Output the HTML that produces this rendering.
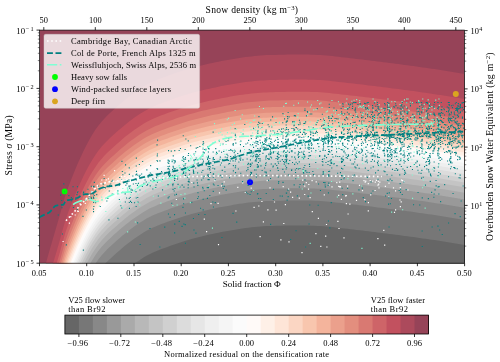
<!DOCTYPE html>
<html><head><meta charset="utf-8"><title>chart</title>
<style>html,body{margin:0;padding:0;background:#fff}body{width:500px;height:362px;overflow:hidden;font-family:"Liberation Serif",serif}</style></head>
<body>
<svg width="500" height="362" viewBox="0 0 500 362" style="display:block;will-change:transform;opacity:0.999" font-family="Liberation Serif, serif">
<rect width="500" height="362" fill="#fff"/>
<defs><clipPath id="pc"><rect x="39.5" y="30.1" width="425.1" height="233.1"/></clipPath></defs>
<g clip-path="url(#pc)">
<rect x="39.5" y="30.1" width="425.1" height="233.1" fill="#964358"/>
<path d="M38.5 269.2L38.5 268.2L41.5 268.2L44.5 268.2L47.5 257.6L50.5 247.1L53.5 236.8L56.5 226.6L59.5 216.2L62.5 205.3L65.5 195L68.5 186.5L71.5 178.8L74.5 171.3L77.5 164.1L80.5 157.4L83.5 151L86.5 144.9L89.5 139.4L92.5 134.3L95.5 129.6L98.5 125.4L101.5 121.7L104.5 118.4L107.5 115.3L110.5 112.5L113.5 109.7L116.5 107.1L119.5 104.4L122.5 101.9L125.5 99.4L128.5 97L131.5 94.7L134.5 92.5L137.5 90.5L140.5 88.5L143.5 86.6L146.5 84.8L149.5 83.2L152.5 81.8L155.5 80.5L158.5 79.3L161.5 78.1L164.5 77L167.5 75.9L170.5 74.8L173.5 73.8L176.5 72.7L179.5 71.7L182.5 70.8L185.5 69.8L188.5 68.9L191.5 68.1L194.5 67.3L197.5 66.5L200.5 65.7L203.5 65L206.5 64.3L209.5 63.6L212.5 63L215.5 62.3L218.5 61.7L221.5 61.1L224.5 60.5L227.5 59.9L230.5 59.4L233.5 58.9L236.5 58.4L239.5 57.9L242.5 57.4L245.5 57L248.5 56.7L251.5 56.4L254.5 56.1L257.5 55.8L260.5 55.5L263.5 55.3L266.5 55.1L269.5 55L272.5 54.9L275.5 54.9L278.5 54.8L281.5 54.7L284.5 54.7L287.5 54.6L290.5 54.6L293.5 54.5L296.5 54.5L299.5 54.5L302.5 54.5L305.5 54.6L308.5 54.6L311.5 54.7L314.5 54.8L317.5 54.9L320.5 55L323.5 55.2L326.5 55.5L329.5 55.8L332.5 56.1L335.5 56.5L338.5 56.8L341.5 57.2L344.5 57.5L347.5 57.8L350.5 58.2L353.5 58.5L356.5 58.9L359.5 59.2L362.5 59.6L365.5 60L368.5 60.3L371.5 60.7L374.5 61.1L377.5 61.4L380.5 61.8L383.5 62.2L386.5 62.5L389.5 62.9L392.5 63.3L395.5 63.7L398.5 64.1L401.5 64.5L404.5 64.9L407.5 65.3L410.5 65.7L413.5 66.1L416.5 66.5L419.5 66.9L422.5 67.4L425.5 67.8L428.5 68.2L431.5 68.7L434.5 69.1L437.5 69.6L440.5 70.1L443.5 70.5L446.5 71L449.5 71.5L452.5 72L455.5 72.5L458.5 73L461.5 73.5L464.5 74L464.5 269.2Z" fill="#ac4a5c"/>
<path d="M38.5 269.2L38.5 268.2L41.5 268.2L44.5 268.2L47.5 268.2L50.5 268.2L53.5 261.8L56.5 251.7L59.5 241.2L62.5 230.3L65.5 220.1L68.5 211.5L71.5 203.8L74.5 196.3L77.5 189.2L80.5 182.5L83.5 176.1L86.5 170L89.5 164.4L92.5 159.4L95.5 154.7L98.5 150.5L101.5 146.8L104.5 143.4L107.5 140.4L110.5 137.5L113.5 134.8L116.5 132.1L119.5 129.5L122.5 126.9L125.5 124.4L128.5 122.1L131.5 119.8L134.5 117.6L137.5 115.5L140.5 113.5L143.5 111.7L146.5 109.9L149.5 108.3L152.5 106.9L155.5 105.6L158.5 104.3L161.5 103.2L164.5 102L167.5 100.9L170.5 99.9L173.5 98.8L176.5 97.8L179.5 96.8L182.5 95.8L185.5 94.9L188.5 94L191.5 93.1L194.5 92.3L197.5 91.5L200.5 90.8L203.5 90L206.5 89.3L209.5 88.7L212.5 88L215.5 87.4L218.5 86.7L221.5 86.1L224.5 85.5L227.5 85L230.5 84.5L233.5 84L236.5 83.4L239.5 83L242.5 82.5L245.5 82.1L248.5 81.7L251.5 81.4L254.5 81.1L257.5 80.8L260.5 80.6L263.5 80.4L266.5 80.2L269.5 80.1L272.5 80L275.5 79.9L278.5 79.8L281.5 79.8L284.5 79.7L287.5 79.7L290.5 79.6L293.5 79.6L296.5 79.6L299.5 79.6L302.5 79.6L305.5 79.6L308.5 79.7L311.5 79.7L314.5 79.8L317.5 80L320.5 80.1L323.5 80.3L326.5 80.5L329.5 80.8L332.5 81.2L335.5 81.5L338.5 81.9L341.5 82.2L344.5 82.5L347.5 82.9L350.5 83.2L353.5 83.6L356.5 83.9L359.5 84.3L362.5 84.6L365.5 85L368.5 85.4L371.5 85.7L374.5 86.1L377.5 86.5L380.5 86.8L383.5 87.2L386.5 87.6L389.5 88L392.5 88.4L395.5 88.7L398.5 89.1L401.5 89.5L404.5 89.9L407.5 90.3L410.5 90.7L413.5 91.1L416.5 91.6L419.5 92L422.5 92.4L425.5 92.8L428.5 93.3L431.5 93.7L434.5 94.2L437.5 94.7L440.5 95.1L443.5 95.6L446.5 96.1L449.5 96.6L452.5 97L455.5 97.5L458.5 98L461.5 98.5L464.5 99L464.5 269.2Z" fill="#c2515f"/>
<path d="M38.5 269.2L38.5 268.2L41.5 268.2L44.5 268.2L47.5 268.2L50.5 268.2L53.5 268.2L56.5 263.8L59.5 253.4L62.5 242.5L65.5 232.3L68.5 223.7L71.5 216L74.5 208.5L77.5 201.4L80.5 194.6L83.5 188.2L86.5 182.2L89.5 176.6L92.5 171.5L95.5 166.9L98.5 162.6L101.5 158.9L104.5 155.6L107.5 152.6L110.5 149.7L113.5 147L116.5 144.3L119.5 141.7L122.5 139.1L125.5 136.6L128.5 134.2L131.5 131.9L134.5 129.8L137.5 127.7L140.5 125.7L143.5 123.8L146.5 122.1L149.5 120.5L152.5 119.1L155.5 117.7L158.5 116.5L161.5 115.3L164.5 114.2L167.5 113.1L170.5 112.1L173.5 111L176.5 110L179.5 109L182.5 108L185.5 107.1L188.5 106.2L191.5 105.3L194.5 104.5L197.5 103.7L200.5 103L203.5 102.2L206.5 101.5L209.5 100.8L212.5 100.2L215.5 99.5L218.5 98.9L221.5 98.3L224.5 97.7L227.5 97.2L230.5 96.6L233.5 96.1L236.5 95.6L239.5 95.1L242.5 94.7L245.5 94.3L248.5 93.9L251.5 93.6L254.5 93.3L257.5 93L260.5 92.8L263.5 92.5L266.5 92.4L269.5 92.2L272.5 92.2L275.5 92.1L278.5 92L281.5 91.9L284.5 91.9L287.5 91.8L290.5 91.8L293.5 91.8L296.5 91.7L299.5 91.7L302.5 91.7L305.5 91.8L308.5 91.8L311.5 91.9L314.5 92L317.5 92.1L320.5 92.3L323.5 92.4L326.5 92.7L329.5 93L332.5 93.4L335.5 93.7L338.5 94.1L341.5 94.4L344.5 94.7L347.5 95.1L350.5 95.4L353.5 95.7L356.5 96.1L359.5 96.5L362.5 96.8L365.5 97.2L368.5 97.5L371.5 97.9L374.5 98.3L377.5 98.7L380.5 99L383.5 99.4L386.5 99.8L389.5 100.2L392.5 100.5L395.5 100.9L398.5 101.3L401.5 101.7L404.5 102.1L407.5 102.5L410.5 102.9L413.5 103.3L416.5 103.7L419.5 104.2L422.5 104.6L425.5 105L428.5 105.5L431.5 105.9L434.5 106.4L437.5 106.8L440.5 107.3L443.5 107.8L446.5 108.2L449.5 108.7L452.5 109.2L455.5 109.7L458.5 110.2L461.5 110.7L464.5 111.2L464.5 269.2Z" fill="#ce6468"/>
<path d="M38.5 269.2L38.5 268.2L41.5 268.2L44.5 268.2L47.5 268.2L50.5 268.2L53.5 268.2L56.5 268.2L59.5 261.8L62.5 250.9L65.5 240.7L68.5 232.1L71.5 224.4L74.5 216.9L77.5 209.7L80.5 203L83.5 196.6L86.5 190.6L89.5 185L92.5 179.9L95.5 175.2L98.5 171L101.5 167.3L104.5 164L107.5 161L110.5 158.1L113.5 155.4L116.5 152.7L119.5 150L122.5 147.5L125.5 145L128.5 142.6L131.5 140.3L134.5 138.2L137.5 136.1L140.5 134.1L143.5 132.2L146.5 130.5L149.5 128.9L152.5 127.4L155.5 126.1L158.5 124.9L161.5 123.7L164.5 122.6L167.5 121.5L170.5 120.4L173.5 119.4L176.5 118.3L179.5 117.3L182.5 116.4L185.5 115.4L188.5 114.6L191.5 113.7L194.5 112.9L197.5 112.1L200.5 111.3L203.5 110.6L206.5 109.9L209.5 109.2L212.5 108.6L215.5 107.9L218.5 107.3L221.5 106.7L224.5 106.1L227.5 105.6L230.5 105L233.5 104.5L236.5 104L239.5 103.5L242.5 103.1L245.5 102.6L248.5 102.3L251.5 102L254.5 101.7L257.5 101.4L260.5 101.2L263.5 100.9L266.5 100.8L269.5 100.6L272.5 100.6L275.5 100.5L278.5 100.4L281.5 100.3L284.5 100.3L287.5 100.2L290.5 100.2L293.5 100.1L296.5 100.1L299.5 100.1L302.5 100.1L305.5 100.2L308.5 100.2L311.5 100.3L314.5 100.4L317.5 100.5L320.5 100.6L323.5 100.8L326.5 101.1L329.5 101.4L332.5 101.7L335.5 102.1L338.5 102.5L341.5 102.8L344.5 103.1L347.5 103.4L350.5 103.8L353.5 104.1L356.5 104.5L359.5 104.8L362.5 105.2L365.5 105.6L368.5 105.9L371.5 106.3L374.5 106.7L377.5 107L380.5 107.4L383.5 107.8L386.5 108.2L389.5 108.5L392.5 108.9L395.5 109.3L398.5 109.7L401.5 110.1L404.5 110.5L407.5 110.9L410.5 111.3L413.5 111.7L416.5 112.1L419.5 112.5L422.5 113L425.5 113.4L428.5 113.9L431.5 114.3L434.5 114.8L437.5 115.2L440.5 115.7L443.5 116.2L446.5 116.6L449.5 117.1L452.5 117.6L455.5 118.1L458.5 118.6L461.5 119.1L464.5 119.6L464.5 269.2Z" fill="#d97972"/>
<path d="M38.5 269.2L38.5 268.2L41.5 268.2L44.5 268.2L47.5 268.2L50.5 268.2L53.5 268.2L56.5 268.2L59.5 268.2L62.5 257.4L65.5 247.2L68.5 238.6L71.5 230.9L74.5 223.5L77.5 216.3L80.5 209.6L83.5 203.2L86.5 197.1L89.5 191.6L92.5 186.5L95.5 181.8L98.5 177.6L101.5 173.9L104.5 170.6L107.5 167.5L110.5 164.7L113.5 161.9L116.5 159.2L119.5 156.6L122.5 154L125.5 151.6L128.5 149.2L131.5 146.9L134.5 144.7L137.5 142.7L140.5 140.7L143.5 138.8L146.5 137L149.5 135.4L152.5 134L155.5 132.7L158.5 131.5L161.5 130.3L164.5 129.2L167.5 128.1L170.5 127L173.5 125.9L176.5 124.9L179.5 123.9L182.5 122.9L185.5 122L188.5 121.1L191.5 120.3L194.5 119.5L197.5 118.7L200.5 117.9L203.5 117.2L206.5 116.5L209.5 115.8L212.5 115.1L215.5 114.5L218.5 113.9L221.5 113.3L224.5 112.7L227.5 112.1L230.5 111.6L233.5 111.1L236.5 110.6L239.5 110.1L242.5 109.6L245.5 109.2L248.5 108.8L251.5 108.5L254.5 108.2L257.5 108L260.5 107.7L263.5 107.5L266.5 107.3L269.5 107.2L272.5 107.1L275.5 107L278.5 107L281.5 106.9L284.5 106.8L287.5 106.8L290.5 106.7L293.5 106.7L296.5 106.7L299.5 106.7L302.5 106.7L305.5 106.7L308.5 106.8L311.5 106.9L314.5 107L317.5 107.1L320.5 107.2L323.5 107.4L326.5 107.7L329.5 108L332.5 108.3L335.5 108.7L338.5 109L341.5 109.4L344.5 109.7L347.5 110L350.5 110.4L353.5 110.7L356.5 111.1L359.5 111.4L362.5 111.8L365.5 112.1L368.5 112.5L371.5 112.9L374.5 113.2L377.5 113.6L380.5 114L383.5 114.4L386.5 114.7L389.5 115.1L392.5 115.5L395.5 115.9L398.5 116.3L401.5 116.7L404.5 117.1L407.5 117.5L410.5 117.9L413.5 118.3L416.5 118.7L419.5 119.1L422.5 119.5L425.5 120L428.5 120.4L431.5 120.9L434.5 121.3L437.5 121.8L440.5 122.3L443.5 122.7L446.5 123.2L449.5 123.7L452.5 124.2L455.5 124.7L458.5 125.2L461.5 125.7L464.5 126.2L464.5 269.2Z" fill="#e38e7e"/>
<path d="M38.5 269.2L38.5 268.2L41.5 268.2L44.5 268.2L47.5 268.2L50.5 268.2L53.5 268.2L56.5 268.2L59.5 268.2L62.5 262.9L65.5 252.7L68.5 244.1L71.5 236.5L74.5 229L77.5 221.8L80.5 215.1L83.5 208.7L86.5 202.6L89.5 197.1L92.5 192L95.5 187.3L98.5 183.1L101.5 179.4L104.5 176.1L107.5 173L110.5 170.2L113.5 167.4L116.5 164.7L119.5 162.1L122.5 159.6L125.5 157.1L128.5 154.7L131.5 152.4L134.5 150.2L137.5 148.2L140.5 146.2L143.5 144.3L146.5 142.5L149.5 140.9L152.5 139.5L155.5 138.2L158.5 137L161.5 135.8L164.5 134.7L167.5 133.6L170.5 132.5L173.5 131.5L176.5 130.4L179.5 129.4L182.5 128.4L185.5 127.5L188.5 126.6L191.5 125.8L194.5 125L197.5 124.2L200.5 123.4L203.5 122.7L206.5 122L209.5 121.3L212.5 120.6L215.5 120L218.5 119.4L221.5 118.8L224.5 118.2L227.5 117.6L230.5 117.1L233.5 116.6L236.5 116.1L239.5 115.6L242.5 115.1L245.5 114.7L248.5 114.4L251.5 114L254.5 113.8L257.5 113.5L260.5 113.2L263.5 113L266.5 112.8L269.5 112.7L272.5 112.6L275.5 112.5L278.5 112.5L281.5 112.4L284.5 112.3L287.5 112.3L290.5 112.3L293.5 112.2L296.5 112.2L299.5 112.2L302.5 112.2L305.5 112.2L308.5 112.3L311.5 112.4L314.5 112.5L317.5 112.6L320.5 112.7L323.5 112.9L326.5 113.2L329.5 113.5L332.5 113.8L335.5 114.2L338.5 114.5L341.5 114.9L344.5 115.2L347.5 115.5L350.5 115.9L353.5 116.2L356.5 116.6L359.5 116.9L362.5 117.3L365.5 117.6L368.5 118L371.5 118.4L374.5 118.7L377.5 119.1L380.5 119.5L383.5 119.9L386.5 120.2L389.5 120.6L392.5 121L395.5 121.4L398.5 121.8L401.5 122.2L404.5 122.6L407.5 123L410.5 123.4L413.5 123.8L416.5 124.2L419.5 124.6L422.5 125.1L425.5 125.5L428.5 125.9L431.5 126.4L434.5 126.8L437.5 127.3L440.5 127.8L443.5 128.2L446.5 128.7L449.5 129.2L452.5 129.7L455.5 130.2L458.5 130.7L461.5 131.2L464.5 131.7L464.5 269.2Z" fill="#eba08c"/>
<path d="M38.5 269.2L38.5 268.2L41.5 268.2L44.5 268.2L47.5 268.2L50.5 268.2L53.5 268.2L56.5 268.2L59.5 268.2L62.5 267.8L65.5 257.6L68.5 249L71.5 241.3L74.5 233.8L77.5 226.6L80.5 219.9L83.5 213.5L86.5 207.5L89.5 201.9L92.5 196.8L95.5 192.2L98.5 187.9L101.5 184.2L104.5 180.9L107.5 177.9L110.5 175L113.5 172.3L116.5 169.6L119.5 166.9L122.5 164.4L125.5 161.9L128.5 159.5L131.5 157.2L134.5 155.1L137.5 153L140.5 151L143.5 149.1L146.5 147.4L149.5 145.8L152.5 144.3L155.5 143L158.5 141.8L161.5 140.6L164.5 139.5L167.5 138.4L170.5 137.3L173.5 136.3L176.5 135.2L179.5 134.2L182.5 133.3L185.5 132.3L188.5 131.5L191.5 130.6L194.5 129.8L197.5 129L200.5 128.2L203.5 127.5L206.5 126.8L209.5 126.1L212.5 125.5L215.5 124.8L218.5 124.2L221.5 123.6L224.5 123L227.5 122.5L230.5 121.9L233.5 121.4L236.5 120.9L239.5 120.4L242.5 120L245.5 119.5L248.5 119.2L251.5 118.9L254.5 118.6L257.5 118.3L260.5 118.1L263.5 117.8L266.5 117.7L269.5 117.5L272.5 117.5L275.5 117.4L278.5 117.3L281.5 117.2L284.5 117.2L287.5 117.1L290.5 117.1L293.5 117.1L296.5 117L299.5 117L302.5 117L305.5 117.1L308.5 117.1L311.5 117.2L314.5 117.3L317.5 117.4L320.5 117.5L323.5 117.7L326.5 118L329.5 118.3L332.5 118.6L335.5 119L338.5 119.4L341.5 119.7L344.5 120L347.5 120.3L350.5 120.7L353.5 121L356.5 121.4L359.5 121.7L362.5 122.1L365.5 122.5L368.5 122.8L371.5 123.2L374.5 123.6L377.5 123.9L380.5 124.3L383.5 124.7L386.5 125.1L389.5 125.4L392.5 125.8L395.5 126.2L398.5 126.6L401.5 127L404.5 127.4L407.5 127.8L410.5 128.2L413.5 128.6L416.5 129L419.5 129.5L422.5 129.9L425.5 130.3L428.5 130.8L431.5 131.2L434.5 131.7L437.5 132.1L440.5 132.6L443.5 133.1L446.5 133.5L449.5 134L452.5 134.5L455.5 135L458.5 135.5L461.5 136L464.5 136.5L464.5 269.2Z" fill="#f4b49c"/>
<path d="M38.5 269.2L38.5 268.2L41.5 268.2L44.5 268.2L47.5 268.2L50.5 268.2L53.5 268.2L56.5 268.2L59.5 268.2L62.5 268.2L65.5 261.9L68.5 253.3L71.5 245.6L74.5 238.2L77.5 231L80.5 224.3L83.5 217.9L86.5 211.8L89.5 206.3L92.5 201.2L95.5 196.5L98.5 192.3L101.5 188.6L104.5 185.3L107.5 182.2L110.5 179.4L113.5 176.6L116.5 173.9L119.5 171.3L122.5 168.7L125.5 166.3L128.5 163.9L131.5 161.6L134.5 159.4L137.5 157.4L140.5 155.4L143.5 153.5L146.5 151.7L149.5 150.1L152.5 148.7L155.5 147.4L158.5 146.2L161.5 145L164.5 143.9L167.5 142.8L170.5 141.7L173.5 140.6L176.5 139.6L179.5 138.6L182.5 137.6L185.5 136.7L188.5 135.8L191.5 135L194.5 134.2L197.5 133.4L200.5 132.6L203.5 131.9L206.5 131.2L209.5 130.5L212.5 129.8L215.5 129.2L218.5 128.6L221.5 128L224.5 127.4L227.5 126.8L230.5 126.3L233.5 125.8L236.5 125.3L239.5 124.8L242.5 124.3L245.5 123.9L248.5 123.5L251.5 123.2L254.5 122.9L257.5 122.7L260.5 122.4L263.5 122.2L266.5 122L269.5 121.9L272.5 121.8L275.5 121.7L278.5 121.7L281.5 121.6L284.5 121.5L287.5 121.5L290.5 121.4L293.5 121.4L296.5 121.4L299.5 121.4L302.5 121.4L305.5 121.4L308.5 121.5L311.5 121.6L314.5 121.7L317.5 121.8L320.5 121.9L323.5 122.1L326.5 122.3L329.5 122.7L332.5 123L335.5 123.4L338.5 123.7L341.5 124L344.5 124.4L347.5 124.7L350.5 125.1L353.5 125.4L356.5 125.8L359.5 126.1L362.5 126.5L365.5 126.8L368.5 127.2L371.5 127.6L374.5 127.9L377.5 128.3L380.5 128.7L383.5 129.1L386.5 129.4L389.5 129.8L392.5 130.2L395.5 130.6L398.5 131L401.5 131.4L404.5 131.8L407.5 132.2L410.5 132.6L413.5 133L416.5 133.4L419.5 133.8L422.5 134.2L425.5 134.7L428.5 135.1L431.5 135.6L434.5 136L437.5 136.5L440.5 137L443.5 137.4L446.5 137.9L449.5 138.4L452.5 138.9L455.5 139.4L458.5 139.9L461.5 140.4L464.5 140.9L464.5 269.2Z" fill="#f8c6ae"/>
<path d="M38.5 269.2L38.5 268.2L41.5 268.2L44.5 268.2L47.5 268.2L50.5 268.2L53.5 268.2L56.5 268.2L59.5 268.2L62.5 268.2L65.5 266L68.5 257.4L71.5 249.7L74.5 242.2L77.5 235.1L80.5 228.3L83.5 221.9L86.5 215.9L89.5 210.3L92.5 205.2L95.5 200.6L98.5 196.3L101.5 192.6L104.5 189.3L107.5 186.3L110.5 183.4L113.5 180.7L116.5 178L119.5 175.3L122.5 172.8L125.5 170.3L128.5 167.9L131.5 165.6L134.5 163.5L137.5 161.4L140.5 159.4L143.5 157.5L146.5 155.8L149.5 154.2L152.5 152.7L155.5 151.4L158.5 150.2L161.5 149L164.5 147.9L167.5 146.8L170.5 145.7L173.5 144.7L176.5 143.7L179.5 142.7L182.5 141.7L185.5 140.8L188.5 139.9L191.5 139L194.5 138.2L197.5 137.4L200.5 136.7L203.5 135.9L206.5 135.2L209.5 134.5L212.5 133.9L215.5 133.2L218.5 132.6L221.5 132L224.5 131.4L227.5 130.9L230.5 130.3L233.5 129.8L236.5 129.3L239.5 128.8L242.5 128.4L245.5 128L248.5 127.6L251.5 127.3L254.5 127L257.5 126.7L260.5 126.5L263.5 126.2L266.5 126.1L269.5 125.9L272.5 125.9L275.5 125.8L278.5 125.7L281.5 125.6L284.5 125.6L287.5 125.5L290.5 125.5L293.5 125.5L296.5 125.4L299.5 125.4L302.5 125.4L305.5 125.5L308.5 125.5L311.5 125.6L314.5 125.7L317.5 125.8L320.5 125.9L323.5 126.1L326.5 126.4L329.5 126.7L332.5 127.1L335.5 127.4L338.5 127.8L341.5 128.1L344.5 128.4L347.5 128.8L350.5 129.1L353.5 129.4L356.5 129.8L359.5 130.2L362.5 130.5L365.5 130.9L368.5 131.2L371.5 131.6L374.5 132L377.5 132.4L380.5 132.7L383.5 133.1L386.5 133.5L389.5 133.9L392.5 134.2L395.5 134.6L398.5 135L401.5 135.4L404.5 135.8L407.5 136.2L410.5 136.6L413.5 137L416.5 137.4L419.5 137.9L422.5 138.3L425.5 138.7L428.5 139.2L431.5 139.6L434.5 140.1L437.5 140.5L440.5 141L443.5 141.5L446.5 141.9L449.5 142.4L452.5 142.9L455.5 143.4L458.5 143.9L461.5 144.4L464.5 144.9L464.5 269.2Z" fill="#fbd6c3"/>
<path d="M38.5 269.2L38.5 268.2L41.5 268.2L44.5 268.2L47.5 268.2L50.5 268.2L53.5 268.2L56.5 268.2L59.5 268.2L62.5 268.2L65.5 268.2L68.5 261.2L71.5 253.5L74.5 246L77.5 238.9L80.5 232.2L83.5 225.8L86.5 219.7L89.5 214.1L92.5 209.1L95.5 204.4L98.5 200.1L101.5 196.5L104.5 193.1L107.5 190.1L110.5 187.2L113.5 184.5L116.5 181.8L119.5 179.2L122.5 176.6L125.5 174.1L128.5 171.7L131.5 169.5L134.5 167.3L137.5 165.2L140.5 163.2L143.5 161.3L146.5 159.6L149.5 158L152.5 156.6L155.5 155.2L158.5 154L161.5 152.8L164.5 151.7L167.5 150.6L170.5 149.6L173.5 148.5L176.5 147.5L179.5 146.5L182.5 145.5L185.5 144.6L188.5 143.7L191.5 142.8L194.5 142L197.5 141.2L200.5 140.5L203.5 139.7L206.5 139L209.5 138.4L212.5 137.7L215.5 137L218.5 136.4L221.5 135.8L224.5 135.2L227.5 134.7L230.5 134.2L233.5 133.6L236.5 133.1L239.5 132.6L242.5 132.2L245.5 131.8L248.5 131.4L251.5 131.1L254.5 130.8L257.5 130.5L260.5 130.3L263.5 130.1L266.5 129.9L269.5 129.8L272.5 129.7L275.5 129.6L278.5 129.5L281.5 129.5L284.5 129.4L287.5 129.3L290.5 129.3L293.5 129.3L296.5 129.3L299.5 129.2L302.5 129.3L305.5 129.3L308.5 129.4L311.5 129.4L314.5 129.5L317.5 129.6L320.5 129.8L323.5 129.9L326.5 130.2L329.5 130.5L332.5 130.9L335.5 131.2L338.5 131.6L341.5 131.9L344.5 132.2L347.5 132.6L350.5 132.9L353.5 133.3L356.5 133.6L359.5 134L362.5 134.3L365.5 134.7L368.5 135.1L371.5 135.4L374.5 135.8L377.5 136.2L380.5 136.5L383.5 136.9L386.5 137.3L389.5 137.7L392.5 138L395.5 138.4L398.5 138.8L401.5 139.2L404.5 139.6L407.5 140L410.5 140.4L413.5 140.8L416.5 141.3L419.5 141.7L422.5 142.1L425.5 142.5L428.5 143L431.5 143.4L434.5 143.9L437.5 144.3L440.5 144.8L443.5 145.3L446.5 145.8L449.5 146.2L452.5 146.7L455.5 147.2L458.5 147.7L461.5 148.2L464.5 148.7L464.5 269.2Z" fill="#fee5d7"/>
<path d="M38.5 269.2L38.5 268.2L41.5 268.2L44.5 268.2L47.5 268.2L50.5 268.2L53.5 268.2L56.5 268.2L59.5 268.2L62.5 268.2L65.5 268.2L68.5 264.9L71.5 257.2L74.5 249.7L77.5 242.5L80.5 235.8L83.5 229.4L86.5 223.3L89.5 217.8L92.5 212.7L95.5 208L98.5 203.8L101.5 200.1L104.5 196.8L107.5 193.7L110.5 190.9L113.5 188.1L116.5 185.5L119.5 182.8L122.5 180.3L125.5 177.8L128.5 175.4L131.5 173.1L134.5 171L137.5 168.9L140.5 166.9L143.5 165L146.5 163.2L149.5 161.7L152.5 160.2L155.5 158.9L158.5 157.7L161.5 156.5L164.5 155.4L167.5 154.3L170.5 153.2L173.5 152.2L176.5 151.1L179.5 150.1L182.5 149.2L185.5 148.2L188.5 147.3L191.5 146.5L194.5 145.7L197.5 144.9L200.5 144.1L203.5 143.4L206.5 142.7L209.5 142L212.5 141.4L215.5 140.7L218.5 140.1L221.5 139.5L224.5 138.9L227.5 138.3L230.5 137.8L233.5 137.3L236.5 136.8L239.5 136.3L242.5 135.9L245.5 135.4L248.5 135.1L251.5 134.8L254.5 134.5L257.5 134.2L260.5 133.9L263.5 133.7L266.5 133.5L269.5 133.4L272.5 133.3L275.5 133.3L278.5 133.2L281.5 133.1L284.5 133.1L287.5 133L290.5 133L293.5 132.9L296.5 132.9L299.5 132.9L302.5 132.9L305.5 133L308.5 133L311.5 133.1L314.5 133.2L317.5 133.3L320.5 133.4L323.5 133.6L326.5 133.9L329.5 134.2L332.5 134.5L335.5 134.9L338.5 135.2L341.5 135.6L344.5 135.9L347.5 136.2L350.5 136.6L353.5 136.9L356.5 137.3L359.5 137.6L362.5 138L365.5 138.4L368.5 138.7L371.5 139.1L374.5 139.5L377.5 139.8L380.5 140.2L383.5 140.6L386.5 141L389.5 141.3L392.5 141.7L395.5 142.1L398.5 142.5L401.5 142.9L404.5 143.3L407.5 143.7L410.5 144.1L413.5 144.5L416.5 144.9L419.5 145.3L422.5 145.8L425.5 146.2L428.5 146.6L431.5 147.1L434.5 147.5L437.5 148L440.5 148.5L443.5 148.9L446.5 149.4L449.5 149.9L452.5 150.4L455.5 150.9L458.5 151.4L461.5 151.9L464.5 152.4L464.5 269.2Z" fill="#fef0e7"/>
<path d="M38.5 269.2L38.5 268.2L41.5 268.2L44.5 268.2L47.5 268.2L50.5 268.2L53.5 268.2L56.5 268.2L59.5 268.2L62.5 268.2L65.5 268.2L68.5 268.2L71.5 260.7L74.5 253.3L77.5 246.1L80.5 239.4L83.5 233L86.5 226.9L89.5 221.3L92.5 216.3L95.5 211.6L98.5 207.4L101.5 203.7L104.5 200.4L107.5 197.3L110.5 194.5L113.5 191.7L116.5 189L119.5 186.4L122.5 183.8L125.5 181.4L128.5 179L131.5 176.7L134.5 174.5L137.5 172.5L140.5 170.5L143.5 168.6L146.5 166.8L149.5 165.2L152.5 163.8L155.5 162.5L158.5 161.2L161.5 160.1L164.5 159L167.5 157.9L170.5 156.8L173.5 155.7L176.5 154.7L179.5 153.7L182.5 152.7L185.5 151.8L188.5 150.9L191.5 150.1L194.5 149.2L197.5 148.5L200.5 147.7L203.5 147L206.5 146.3L209.5 145.6L212.5 144.9L215.5 144.3L218.5 143.7L221.5 143.1L224.5 142.5L227.5 141.9L230.5 141.4L233.5 140.9L236.5 140.4L239.5 139.9L242.5 139.4L245.5 139L248.5 138.6L251.5 138.3L254.5 138L257.5 137.8L260.5 137.5L263.5 137.3L266.5 137.1L269.5 137L272.5 136.9L275.5 136.8L278.5 136.8L281.5 136.7L284.5 136.6L287.5 136.6L290.5 136.5L293.5 136.5L296.5 136.5L299.5 136.5L302.5 136.5L305.5 136.5L308.5 136.6L311.5 136.7L314.5 136.8L317.5 136.9L320.5 137L323.5 137.2L326.5 137.4L329.5 137.8L332.5 138.1L335.5 138.5L338.5 138.8L341.5 139.1L344.5 139.5L347.5 139.8L350.5 140.1L353.5 140.5L356.5 140.8L359.5 141.2L362.5 141.6L365.5 141.9L368.5 142.3L371.5 142.7L374.5 143L377.5 143.4L380.5 143.8L383.5 144.1L386.5 144.5L389.5 144.9L392.5 145.3L395.5 145.7L398.5 146.1L401.5 146.4L404.5 146.8L407.5 147.2L410.5 147.7L413.5 148.1L416.5 148.5L419.5 148.9L422.5 149.3L425.5 149.8L428.5 150.2L431.5 150.7L434.5 151.1L437.5 151.6L440.5 152L443.5 152.5L446.5 153L449.5 153.5L452.5 154L455.5 154.5L458.5 155L461.5 155.5L464.5 156L464.5 269.2Z" fill="#fffaf8"/>
<path d="M38.5 269.2L38.5 268.2L41.5 268.2L44.5 268.2L47.5 268.2L50.5 268.2L53.5 268.2L56.5 268.2L59.5 268.2L62.5 268.2L65.5 268.2L68.5 268.2L71.5 264.3L74.5 256.8L77.5 249.6L80.5 242.9L83.5 236.5L86.5 230.4L89.5 224.9L92.5 219.8L95.5 215.1L98.5 210.9L101.5 207.2L104.5 203.9L107.5 200.8L110.5 198L113.5 195.2L116.5 192.6L119.5 189.9L122.5 187.4L125.5 184.9L128.5 182.5L131.5 180.2L134.5 178L137.5 176L140.5 174L143.5 172.1L146.5 170.3L149.5 168.7L152.5 167.3L155.5 166L158.5 164.8L161.5 163.6L164.5 162.5L167.5 161.4L170.5 160.3L173.5 159.3L176.5 158.2L179.5 157.2L182.5 156.3L185.5 155.3L188.5 154.4L191.5 153.6L194.5 152.8L197.5 152L200.5 151.2L203.5 150.5L206.5 149.8L209.5 149.1L212.5 148.4L215.5 147.8L218.5 147.2L221.5 146.6L224.5 146L227.5 145.4L230.5 144.9L233.5 144.4L236.5 143.9L239.5 143.4L242.5 142.9L245.5 142.5L248.5 142.2L251.5 141.9L254.5 141.6L257.5 141.3L260.5 141L263.5 140.8L266.5 140.6L269.5 140.5L272.5 140.4L275.5 140.4L278.5 140.3L281.5 140.2L284.5 140.2L287.5 140.1L290.5 140.1L293.5 140L296.5 140L299.5 140L302.5 140L305.5 140L308.5 140.1L311.5 140.2L314.5 140.3L317.5 140.4L320.5 140.5L323.5 140.7L326.5 141L329.5 141.3L332.5 141.6L335.5 142L338.5 142.3L341.5 142.7L344.5 143L347.5 143.3L350.5 143.7L353.5 144L356.5 144.4L359.5 144.7L362.5 145.1L365.5 145.5L368.5 145.8L371.5 146.2L374.5 146.6L377.5 146.9L380.5 147.3L383.5 147.7L386.5 148L389.5 148.4L392.5 148.8L395.5 149.2L398.5 149.6L401.5 150L404.5 150.4L407.5 150.8L410.5 151.2L413.5 151.6L416.5 152L419.5 152.4L422.5 152.9L425.5 153.3L428.5 153.7L431.5 154.2L434.5 154.6L437.5 155.1L440.5 155.6L443.5 156L446.5 156.5L449.5 157L452.5 157.5L455.5 158L458.5 158.5L461.5 159L464.5 159.5L464.5 269.2Z" fill="#fbfbfb"/>
<path d="M38.5 269.2L38.5 268.2L41.5 268.2L44.5 268.2L47.5 268.2L50.5 268.2L53.5 268.2L56.5 268.2L59.5 268.2L62.5 268.2L65.5 268.2L68.5 268.2L71.5 267.8L74.5 260.3L77.5 253.2L80.5 246.4L83.5 240L86.5 234L89.5 228.4L92.5 223.3L95.5 218.7L98.5 214.4L101.5 210.7L104.5 207.4L107.5 204.4L110.5 201.5L113.5 198.8L116.5 196.1L119.5 193.4L122.5 190.9L125.5 188.4L128.5 186L131.5 183.7L134.5 181.6L137.5 179.5L140.5 177.5L143.5 175.6L146.5 173.9L149.5 172.3L152.5 170.8L155.5 169.5L158.5 168.3L161.5 167.1L164.5 166L167.5 164.9L170.5 163.8L173.5 162.8L176.5 161.7L179.5 160.7L182.5 159.8L185.5 158.8L188.5 158L191.5 157.1L194.5 156.3L197.5 155.5L200.5 154.7L203.5 154L206.5 153.3L209.5 152.6L212.5 152L215.5 151.3L218.5 150.7L221.5 150.1L224.5 149.5L227.5 149L230.5 148.4L233.5 147.9L236.5 147.4L239.5 146.9L242.5 146.5L245.5 146L248.5 145.7L251.5 145.4L254.5 145.1L257.5 144.8L260.5 144.6L263.5 144.3L266.5 144.2L269.5 144L272.5 144L275.5 143.9L278.5 143.8L281.5 143.7L284.5 143.7L287.5 143.6L290.5 143.6L293.5 143.6L296.5 143.5L299.5 143.5L302.5 143.5L305.5 143.6L308.5 143.6L311.5 143.7L314.5 143.8L317.5 143.9L320.5 144L323.5 144.2L326.5 144.5L329.5 144.8L332.5 145.1L335.5 145.5L338.5 145.9L341.5 146.2L344.5 146.5L347.5 146.8L350.5 147.2L353.5 147.5L356.5 147.9L359.5 148.2L362.5 148.6L365.5 149L368.5 149.3L371.5 149.7L374.5 150.1L377.5 150.4L380.5 150.8L383.5 151.2L386.5 151.6L389.5 151.9L392.5 152.3L395.5 152.7L398.5 153.1L401.5 153.5L404.5 153.9L407.5 154.3L410.5 154.7L413.5 155.1L416.5 155.5L419.5 156L422.5 156.4L425.5 156.8L428.5 157.3L431.5 157.7L434.5 158.2L437.5 158.6L440.5 159.1L443.5 159.6L446.5 160L449.5 160.5L452.5 161L455.5 161.5L458.5 162L461.5 162.5L464.5 163L464.5 269.2Z" fill="#f5f5f5"/>
<path d="M38.5 269.2L38.5 268.2L41.5 268.2L44.5 268.2L47.5 268.2L50.5 268.2L53.5 268.2L56.5 268.2L59.5 268.2L62.5 268.2L65.5 268.2L68.5 268.2L71.5 268.2L74.5 263.9L77.5 256.7L80.5 250L83.5 243.6L86.5 237.5L89.5 232L92.5 226.9L95.5 222.2L98.5 218L101.5 214.3L104.5 211L107.5 207.9L110.5 205.1L113.5 202.3L116.5 199.6L119.5 197L122.5 194.5L125.5 192L128.5 189.6L131.5 187.3L134.5 185.1L137.5 183.1L140.5 181.1L143.5 179.2L146.5 177.4L149.5 175.8L152.5 174.4L155.5 173.1L158.5 171.9L161.5 170.7L164.5 169.6L167.5 168.5L170.5 167.4L173.5 166.4L176.5 165.3L179.5 164.3L182.5 163.3L185.5 162.4L188.5 161.5L191.5 160.7L194.5 159.9L197.5 159.1L200.5 158.3L203.5 157.6L206.5 156.9L209.5 156.2L212.5 155.5L215.5 154.9L218.5 154.3L221.5 153.7L224.5 153.1L227.5 152.5L230.5 152L233.5 151.5L236.5 151L239.5 150.5L242.5 150L245.5 149.6L248.5 149.2L251.5 148.9L254.5 148.6L257.5 148.4L260.5 148.1L263.5 147.9L266.5 147.7L269.5 147.6L272.5 147.5L275.5 147.4L278.5 147.4L281.5 147.3L284.5 147.2L287.5 147.2L290.5 147.2L293.5 147.1L296.5 147.1L299.5 147.1L302.5 147.1L305.5 147.1L308.5 147.2L311.5 147.3L314.5 147.4L317.5 147.5L320.5 147.6L323.5 147.8L326.5 148.1L329.5 148.4L332.5 148.7L335.5 149.1L338.5 149.4L341.5 149.8L344.5 150.1L347.5 150.4L350.5 150.8L353.5 151.1L356.5 151.5L359.5 151.8L362.5 152.2L365.5 152.5L368.5 152.9L371.5 153.3L374.5 153.6L377.5 154L380.5 154.4L383.5 154.8L386.5 155.1L389.5 155.5L392.5 155.9L395.5 156.3L398.5 156.7L401.5 157.1L404.5 157.5L407.5 157.9L410.5 158.3L413.5 158.7L416.5 159.1L419.5 159.5L422.5 159.9L425.5 160.4L428.5 160.8L431.5 161.3L434.5 161.7L437.5 162.2L440.5 162.7L443.5 163.1L446.5 163.6L449.5 164.1L452.5 164.6L455.5 165.1L458.5 165.6L461.5 166.1L464.5 166.6L464.5 269.2Z" fill="#efefef"/>
<path d="M38.5 269.2L38.5 268.2L41.5 268.2L44.5 268.2L47.5 268.2L50.5 268.2L53.5 268.2L56.5 268.2L59.5 268.2L62.5 268.2L65.5 268.2L68.5 268.2L71.5 268.2L74.5 267.5L77.5 260.4L80.5 253.7L83.5 247.3L86.5 241.2L89.5 235.6L92.5 230.6L95.5 225.9L98.5 221.7L101.5 218L104.5 214.6L107.5 211.6L110.5 208.7L113.5 206L116.5 203.3L119.5 200.7L122.5 198.1L125.5 195.6L128.5 193.3L131.5 191L134.5 188.8L137.5 186.7L140.5 184.7L143.5 182.9L146.5 181.1L149.5 179.5L152.5 178.1L155.5 176.8L158.5 175.5L161.5 174.4L164.5 173.2L167.5 172.2L170.5 171.1L173.5 170L176.5 169L179.5 168L182.5 167L185.5 166.1L188.5 165.2L191.5 164.3L194.5 163.5L197.5 162.7L200.5 162L203.5 161.3L206.5 160.5L209.5 159.9L212.5 159.2L215.5 158.6L218.5 157.9L221.5 157.3L224.5 156.7L227.5 156.2L230.5 155.7L233.5 155.2L236.5 154.6L239.5 154.2L242.5 153.7L245.5 153.3L248.5 152.9L251.5 152.6L254.5 152.3L257.5 152L260.5 151.8L263.5 151.6L266.5 151.4L269.5 151.3L272.5 151.2L275.5 151.1L278.5 151L281.5 151L284.5 150.9L287.5 150.9L290.5 150.8L293.5 150.8L296.5 150.8L299.5 150.8L302.5 150.8L305.5 150.8L308.5 150.9L311.5 150.9L314.5 151L317.5 151.2L320.5 151.3L323.5 151.5L326.5 151.7L329.5 152L332.5 152.4L335.5 152.7L338.5 153.1L341.5 153.4L344.5 153.7L347.5 154.1L350.5 154.4L353.5 154.8L356.5 155.1L359.5 155.5L362.5 155.8L365.5 156.2L368.5 156.6L371.5 156.9L374.5 157.3L377.5 157.7L380.5 158L383.5 158.4L386.5 158.8L389.5 159.2L392.5 159.6L395.5 159.9L398.5 160.3L401.5 160.7L404.5 161.1L407.5 161.5L410.5 161.9L413.5 162.3L416.5 162.8L419.5 163.2L422.5 163.6L425.5 164L428.5 164.5L431.5 164.9L434.5 165.4L437.5 165.9L440.5 166.3L443.5 166.8L446.5 167.3L449.5 167.8L452.5 168.2L455.5 168.7L458.5 169.2L461.5 169.7L464.5 170.2L464.5 269.2Z" fill="#e6e6e6"/>
<path d="M38.5 269.2L38.5 268.2L41.5 268.2L44.5 268.2L47.5 268.2L50.5 268.2L53.5 268.2L56.5 268.2L59.5 268.2L62.5 268.2L65.5 268.2L68.5 268.2L71.5 268.2L74.5 268.2L77.5 264.2L80.5 257.5L83.5 251.1L86.5 245L89.5 239.4L92.5 234.4L95.5 229.7L98.5 225.5L101.5 221.8L104.5 218.5L107.5 215.4L110.5 212.5L113.5 209.8L116.5 207.1L119.5 204.5L122.5 201.9L125.5 199.5L128.5 197.1L131.5 194.8L134.5 192.6L137.5 190.6L140.5 188.6L143.5 186.7L146.5 184.9L149.5 183.3L152.5 181.9L155.5 180.6L158.5 179.3L161.5 178.2L164.5 177.1L167.5 176L170.5 174.9L173.5 173.8L176.5 172.8L179.5 171.8L182.5 170.8L185.5 169.9L188.5 169L191.5 168.2L194.5 167.3L197.5 166.6L200.5 165.8L203.5 165.1L206.5 164.4L209.5 163.7L212.5 163L215.5 162.4L218.5 161.7L221.5 161.1L224.5 160.6L227.5 160L230.5 159.5L233.5 159L236.5 158.5L239.5 158L242.5 157.5L245.5 157.1L248.5 156.7L251.5 156.4L254.5 156.1L257.5 155.9L260.5 155.6L263.5 155.4L266.5 155.2L269.5 155.1L272.5 155L275.5 154.9L278.5 154.8L281.5 154.8L284.5 154.7L287.5 154.7L290.5 154.6L293.5 154.6L296.5 154.6L299.5 154.6L302.5 154.6L305.5 154.6L308.5 154.7L311.5 154.8L314.5 154.9L317.5 155L320.5 155.1L323.5 155.3L326.5 155.5L329.5 155.8L332.5 156.2L335.5 156.6L338.5 156.9L341.5 157.2L344.5 157.6L347.5 157.9L350.5 158.2L353.5 158.6L356.5 158.9L359.5 159.3L362.5 159.7L365.5 160L368.5 160.4L371.5 160.8L374.5 161.1L377.5 161.5L380.5 161.9L383.5 162.2L386.5 162.6L389.5 163L392.5 163.4L395.5 163.8L398.5 164.1L401.5 164.5L404.5 164.9L407.5 165.3L410.5 165.7L413.5 166.2L416.5 166.6L419.5 167L422.5 167.4L425.5 167.9L428.5 168.3L431.5 168.8L434.5 169.2L437.5 169.7L440.5 170.1L443.5 170.6L446.5 171.1L449.5 171.6L452.5 172.1L455.5 172.5L458.5 173L461.5 173.5L464.5 174.1L464.5 269.2Z" fill="#dcdcdc"/>
<path d="M38.5 269.2L38.5 268.2L41.5 268.2L44.5 268.2L47.5 268.2L50.5 268.2L53.5 268.2L56.5 268.2L59.5 268.2L62.5 268.2L65.5 268.2L68.5 268.2L71.5 268.2L74.5 268.2L77.5 268.2L80.5 261.5L83.5 255.1L86.5 249L89.5 243.5L92.5 238.4L95.5 233.7L98.5 229.5L101.5 225.8L104.5 222.5L107.5 219.5L110.5 216.6L113.5 213.9L116.5 211.2L119.5 208.5L122.5 206L125.5 203.5L128.5 201.1L131.5 198.8L134.5 196.7L137.5 194.6L140.5 192.6L143.5 190.7L146.5 189L149.5 187.4L152.5 185.9L155.5 184.6L158.5 183.4L161.5 182.2L164.5 181.1L167.5 180L170.5 178.9L173.5 177.9L176.5 176.8L179.5 175.8L182.5 174.9L185.5 173.9L188.5 173L191.5 172.2L194.5 171.4L197.5 170.6L200.5 169.8L203.5 169.1L206.5 168.4L209.5 167.7L212.5 167.1L215.5 166.4L218.5 165.8L221.5 165.2L224.5 164.6L227.5 164.1L230.5 163.5L233.5 163L236.5 162.5L239.5 162L242.5 161.6L245.5 161.1L248.5 160.8L251.5 160.5L254.5 160.2L257.5 159.9L260.5 159.6L263.5 159.4L266.5 159.3L269.5 159.1L272.5 159L275.5 159L278.5 158.9L281.5 158.8L284.5 158.8L287.5 158.7L290.5 158.7L293.5 158.6L296.5 158.6L299.5 158.6L302.5 158.6L305.5 158.7L308.5 158.7L311.5 158.8L314.5 158.9L317.5 159L320.5 159.1L323.5 159.3L326.5 159.6L329.5 159.9L332.5 160.2L335.5 160.6L338.5 160.9L341.5 161.3L344.5 161.6L347.5 161.9L350.5 162.3L353.5 162.6L356.5 163L359.5 163.3L362.5 163.7L365.5 164.1L368.5 164.4L371.5 164.8L374.5 165.2L377.5 165.5L380.5 165.9L383.5 166.3L386.5 166.7L389.5 167L392.5 167.4L395.5 167.8L398.5 168.2L401.5 168.6L404.5 169L407.5 169.4L410.5 169.8L413.5 170.2L416.5 170.6L419.5 171L422.5 171.5L425.5 171.9L428.5 172.4L431.5 172.8L434.5 173.3L437.5 173.7L440.5 174.2L443.5 174.7L446.5 175.1L449.5 175.6L452.5 176.1L455.5 176.6L458.5 177.1L461.5 177.6L464.5 178.1L464.5 269.2Z" fill="#d0d0d0"/>
<path d="M38.5 269.2L38.5 268.2L41.5 268.2L44.5 268.2L47.5 268.2L50.5 268.2L53.5 268.2L56.5 268.2L59.5 268.2L62.5 268.2L65.5 268.2L68.5 268.2L71.5 268.2L74.5 268.2L77.5 268.2L80.5 265.9L83.5 259.5L86.5 253.4L89.5 247.8L92.5 242.8L95.5 238.1L98.5 233.9L101.5 230.2L104.5 226.9L107.5 223.8L110.5 221L113.5 218.2L116.5 215.5L119.5 212.9L122.5 210.3L125.5 207.9L128.5 205.5L131.5 203.2L134.5 201L137.5 199L140.5 197L143.5 195.1L146.5 193.3L149.5 191.7L152.5 190.3L155.5 189L158.5 187.7L161.5 186.6L164.5 185.5L167.5 184.4L170.5 183.3L173.5 182.2L176.5 181.2L179.5 180.2L182.5 179.2L185.5 178.3L188.5 177.4L191.5 176.6L194.5 175.7L197.5 175L200.5 174.2L203.5 173.5L206.5 172.8L209.5 172.1L212.5 171.4L215.5 170.8L218.5 170.2L221.5 169.6L224.5 169L227.5 168.4L230.5 167.9L233.5 167.4L236.5 166.9L239.5 166.4L242.5 165.9L245.5 165.5L248.5 165.1L251.5 164.8L254.5 164.5L257.5 164.3L260.5 164L263.5 163.8L266.5 163.6L269.5 163.5L272.5 163.4L275.5 163.3L278.5 163.3L281.5 163.2L284.5 163.1L287.5 163.1L290.5 163L293.5 163L296.5 163L299.5 163L302.5 163L305.5 163L308.5 163.1L311.5 163.2L314.5 163.3L317.5 163.4L320.5 163.5L323.5 163.7L326.5 163.9L329.5 164.3L332.5 164.6L335.5 165L338.5 165.3L341.5 165.6L344.5 166L347.5 166.3L350.5 166.6L353.5 167L356.5 167.3L359.5 167.7L362.5 168.1L365.5 168.4L368.5 168.8L371.5 169.2L374.5 169.5L377.5 169.9L380.5 170.3L383.5 170.6L386.5 171L389.5 171.4L392.5 171.8L395.5 172.2L398.5 172.6L401.5 172.9L404.5 173.3L407.5 173.7L410.5 174.2L413.5 174.6L416.5 175L419.5 175.4L422.5 175.8L425.5 176.3L428.5 176.7L431.5 177.2L434.5 177.6L437.5 178.1L440.5 178.5L443.5 179L446.5 179.5L449.5 180L452.5 180.5L455.5 181L458.5 181.5L461.5 182L464.5 182.5L464.5 269.2Z" fill="#c4c4c4"/>
<path d="M38.5 269.2L38.5 268.2L41.5 268.2L44.5 268.2L47.5 268.2L50.5 268.2L53.5 268.2L56.5 268.2L59.5 268.2L62.5 268.2L65.5 268.2L68.5 268.2L71.5 268.2L74.5 268.2L77.5 268.2L80.5 268.2L83.5 264.3L86.5 258.2L89.5 252.7L92.5 247.6L95.5 242.9L98.5 238.7L101.5 235L104.5 231.7L107.5 228.6L110.5 225.8L113.5 223L116.5 220.4L119.5 217.7L122.5 215.2L125.5 212.7L128.5 210.3L131.5 208L134.5 205.8L137.5 203.8L140.5 201.8L143.5 199.9L146.5 198.1L149.5 196.6L152.5 195.1L155.5 193.8L158.5 192.6L161.5 191.4L164.5 190.3L167.5 189.2L170.5 188.1L173.5 187.1L176.5 186L179.5 185L182.5 184.1L185.5 183.1L188.5 182.2L191.5 181.4L194.5 180.6L197.5 179.8L200.5 179L203.5 178.3L206.5 177.6L209.5 176.9L212.5 176.3L215.5 175.6L218.5 175L221.5 174.4L224.5 173.8L227.5 173.2L230.5 172.7L233.5 172.2L236.5 171.7L239.5 171.2L242.5 170.7L245.5 170.3L248.5 170L251.5 169.7L254.5 169.4L257.5 169.1L260.5 168.8L263.5 168.6L266.5 168.4L269.5 168.3L272.5 168.2L275.5 168.2L278.5 168.1L281.5 168L284.5 168L287.5 167.9L290.5 167.9L293.5 167.8L296.5 167.8L299.5 167.8L302.5 167.8L305.5 167.9L308.5 167.9L311.5 168L314.5 168.1L317.5 168.2L320.5 168.3L323.5 168.5L326.5 168.8L329.5 169.1L332.5 169.4L335.5 169.8L338.5 170.1L341.5 170.5L344.5 170.8L347.5 171.1L350.5 171.5L353.5 171.8L356.5 172.2L359.5 172.5L362.5 172.9L365.5 173.3L368.5 173.6L371.5 174L374.5 174.4L377.5 174.7L380.5 175.1L383.5 175.5L386.5 175.8L389.5 176.2L392.5 176.6L395.5 177L398.5 177.4L401.5 177.8L404.5 178.2L407.5 178.6L410.5 179L413.5 179.4L416.5 179.8L419.5 180.2L422.5 180.7L425.5 181.1L428.5 181.5L431.5 182L434.5 182.4L437.5 182.9L440.5 183.4L443.5 183.8L446.5 184.3L449.5 184.8L452.5 185.3L455.5 185.8L458.5 186.3L461.5 186.8L464.5 187.3L464.5 269.2Z" fill="#b8b8b8"/>
<path d="M38.5 269.2L38.5 268.2L41.5 268.2L44.5 268.2L47.5 268.2L50.5 268.2L53.5 268.2L56.5 268.2L59.5 268.2L62.5 268.2L65.5 268.2L68.5 268.2L71.5 268.2L74.5 268.2L77.5 268.2L80.5 268.2L83.5 268.2L86.5 263.7L89.5 258.2L92.5 253.1L95.5 248.4L98.5 244.2L101.5 240.5L104.5 237.2L107.5 234.1L110.5 231.3L113.5 228.5L116.5 225.9L119.5 223.2L122.5 220.7L125.5 218.2L128.5 215.8L131.5 213.5L134.5 211.4L137.5 209.3L140.5 207.3L143.5 205.4L146.5 203.7L149.5 202.1L152.5 200.6L155.5 199.3L158.5 198.1L161.5 196.9L164.5 195.8L167.5 194.7L170.5 193.6L173.5 192.6L176.5 191.5L179.5 190.5L182.5 189.6L185.5 188.6L188.5 187.7L191.5 186.9L194.5 186.1L197.5 185.3L200.5 184.5L203.5 183.8L206.5 183.1L209.5 182.4L212.5 181.8L215.5 181.1L218.5 180.5L221.5 179.9L224.5 179.3L227.5 178.8L230.5 178.2L233.5 177.7L236.5 177.2L239.5 176.7L242.5 176.3L245.5 175.8L248.5 175.5L251.5 175.2L254.5 174.9L257.5 174.6L260.5 174.3L263.5 174.1L266.5 174L269.5 173.8L272.5 173.7L275.5 173.7L278.5 173.6L281.5 173.5L284.5 173.5L287.5 173.4L290.5 173.4L293.5 173.3L296.5 173.3L299.5 173.3L302.5 173.3L305.5 173.4L308.5 173.4L311.5 173.5L314.5 173.6L317.5 173.7L320.5 173.8L323.5 174L326.5 174.3L329.5 174.6L332.5 174.9L335.5 175.3L338.5 175.6L341.5 176L344.5 176.3L347.5 176.6L350.5 177L353.5 177.3L356.5 177.7L359.5 178L362.5 178.4L365.5 178.8L368.5 179.1L371.5 179.5L374.5 179.9L377.5 180.2L380.5 180.6L383.5 181L386.5 181.4L389.5 181.7L392.5 182.1L395.5 182.5L398.5 182.9L401.5 183.3L404.5 183.7L407.5 184.1L410.5 184.5L413.5 184.9L416.5 185.3L419.5 185.7L422.5 186.2L425.5 186.6L428.5 187L431.5 187.5L434.5 188L437.5 188.4L440.5 188.9L443.5 189.3L446.5 189.8L449.5 190.3L452.5 190.8L455.5 191.3L458.5 191.8L461.5 192.3L464.5 192.8L464.5 269.2Z" fill="#aaaaaa"/>
<path d="M38.5 269.2L38.5 268.2L41.5 268.2L44.5 268.2L47.5 268.2L50.5 268.2L53.5 268.2L56.5 268.2L59.5 268.2L62.5 268.2L65.5 268.2L68.5 268.2L71.5 268.2L74.5 268.2L77.5 268.2L80.5 268.2L83.5 268.2L86.5 268.2L89.5 264.7L92.5 259.7L95.5 255L98.5 250.8L101.5 247.1L104.5 243.8L107.5 240.7L110.5 237.9L113.5 235.1L116.5 232.4L119.5 229.8L122.5 227.2L125.5 224.8L128.5 222.4L131.5 220.1L134.5 217.9L137.5 215.9L140.5 213.9L143.5 212L146.5 210.2L149.5 208.6L152.5 207.2L155.5 205.9L158.5 204.6L161.5 203.5L164.5 202.4L167.5 201.3L170.5 200.2L173.5 199.1L176.5 198.1L179.5 197.1L182.5 196.1L185.5 195.2L188.5 194.3L191.5 193.5L194.5 192.6L197.5 191.9L200.5 191.1L203.5 190.4L206.5 189.7L209.5 189L212.5 188.3L215.5 187.7L218.5 187.1L221.5 186.5L224.5 185.9L227.5 185.3L230.5 184.8L233.5 184.3L236.5 183.8L239.5 183.3L242.5 182.8L245.5 182.4L248.5 182L251.5 181.7L254.5 181.4L257.5 181.2L260.5 180.9L263.5 180.7L266.5 180.5L269.5 180.4L272.5 180.3L275.5 180.2L278.5 180.2L281.5 180.1L284.5 180L287.5 180L290.5 179.9L293.5 179.9L296.5 179.9L299.5 179.9L302.5 179.9L305.5 179.9L308.5 180L311.5 180.1L314.5 180.2L317.5 180.3L320.5 180.4L323.5 180.6L326.5 180.8L329.5 181.2L332.5 181.5L335.5 181.9L338.5 182.2L341.5 182.5L344.5 182.9L347.5 183.2L350.5 183.5L353.5 183.9L356.5 184.2L359.5 184.6L362.5 185L365.5 185.3L368.5 185.7L371.5 186.1L374.5 186.4L377.5 186.8L380.5 187.2L383.5 187.5L386.5 187.9L389.5 188.3L392.5 188.7L395.5 189.1L398.5 189.5L401.5 189.8L404.5 190.2L407.5 190.6L410.5 191.1L413.5 191.5L416.5 191.9L419.5 192.3L422.5 192.7L425.5 193.2L428.5 193.6L431.5 194.1L434.5 194.5L437.5 195L440.5 195.4L443.5 195.9L446.5 196.4L449.5 196.9L452.5 197.4L455.5 197.9L458.5 198.4L461.5 198.9L464.5 199.4L464.5 269.2Z" fill="#999999"/>
<path d="M38.5 269.2L38.5 268.2L41.5 268.2L44.5 268.2L47.5 268.2L50.5 268.2L53.5 268.2L56.5 268.2L59.5 268.2L62.5 268.2L65.5 268.2L68.5 268.2L71.5 268.2L74.5 268.2L77.5 268.2L80.5 268.2L83.5 268.2L86.5 268.2L89.5 268.2L92.5 268.1L95.5 263.4L98.5 259.2L101.5 255.5L104.5 252.2L107.5 249.1L110.5 246.2L113.5 243.5L116.5 240.8L119.5 238.2L122.5 235.6L125.5 233.2L128.5 230.8L131.5 228.5L134.5 226.3L137.5 224.2L140.5 222.3L143.5 220.4L146.5 218.6L149.5 217L152.5 215.6L155.5 214.3L158.5 213L161.5 211.9L164.5 210.8L167.5 209.7L170.5 208.6L173.5 207.5L176.5 206.5L179.5 205.5L182.5 204.5L185.5 203.6L188.5 202.7L191.5 201.8L194.5 201L197.5 200.3L200.5 199.5L203.5 198.8L206.5 198.1L209.5 197.4L212.5 196.7L215.5 196.1L218.5 195.4L221.5 194.8L224.5 194.3L227.5 193.7L230.5 193.2L233.5 192.7L236.5 192.2L239.5 191.7L242.5 191.2L245.5 190.8L248.5 190.4L251.5 190.1L254.5 189.8L257.5 189.6L260.5 189.3L263.5 189.1L266.5 188.9L269.5 188.8L272.5 188.7L275.5 188.6L278.5 188.5L281.5 188.5L284.5 188.4L287.5 188.4L290.5 188.3L293.5 188.3L296.5 188.3L299.5 188.3L302.5 188.3L305.5 188.3L308.5 188.4L311.5 188.5L314.5 188.6L317.5 188.7L320.5 188.8L323.5 189L326.5 189.2L329.5 189.5L332.5 189.9L335.5 190.3L338.5 190.6L341.5 190.9L344.5 191.3L347.5 191.6L350.5 191.9L353.5 192.3L356.5 192.6L359.5 193L362.5 193.4L365.5 193.7L368.5 194.1L371.5 194.5L374.5 194.8L377.5 195.2L380.5 195.6L383.5 195.9L386.5 196.3L389.5 196.7L392.5 197.1L395.5 197.5L398.5 197.8L401.5 198.2L404.5 198.6L407.5 199L410.5 199.4L413.5 199.9L416.5 200.3L419.5 200.7L422.5 201.1L425.5 201.6L428.5 202L431.5 202.5L434.5 202.9L437.5 203.4L440.5 203.8L443.5 204.3L446.5 204.8L449.5 205.3L452.5 205.8L455.5 206.2L458.5 206.7L461.5 207.2L464.5 207.8L464.5 269.2Z" fill="#888888"/>
<path d="M38.5 269.2L38.5 268.2L41.5 268.2L44.5 268.2L47.5 268.2L50.5 268.2L53.5 268.2L56.5 268.2L59.5 268.2L62.5 268.2L65.5 268.2L68.5 268.2L71.5 268.2L74.5 268.2L77.5 268.2L80.5 268.2L83.5 268.2L86.5 268.2L89.5 268.2L92.5 268.2L95.5 268.2L98.5 268.2L101.5 267.7L104.5 264.3L107.5 261.3L110.5 258.4L113.5 255.7L116.5 253L119.5 250.4L122.5 247.8L125.5 245.3L128.5 242.9L131.5 240.7L134.5 238.5L137.5 236.4L140.5 234.4L143.5 232.5L146.5 230.8L149.5 229.2L152.5 227.8L155.5 226.4L158.5 225.2L161.5 224L164.5 222.9L167.5 221.8L170.5 220.8L173.5 219.7L176.5 218.7L179.5 217.7L182.5 216.7L185.5 215.8L188.5 214.9L191.5 214L194.5 213.2L197.5 212.4L200.5 211.7L203.5 210.9L206.5 210.2L209.5 209.6L212.5 208.9L215.5 208.3L218.5 207.6L221.5 207L224.5 206.4L227.5 205.9L230.5 205.4L233.5 204.8L236.5 204.3L239.5 203.8L242.5 203.4L245.5 203L248.5 202.6L251.5 202.3L254.5 202L257.5 201.7L260.5 201.5L263.5 201.3L266.5 201.1L269.5 201L272.5 200.9L275.5 200.8L278.5 200.7L281.5 200.7L284.5 200.6L287.5 200.5L290.5 200.5L293.5 200.5L296.5 200.5L299.5 200.4L302.5 200.5L305.5 200.5L308.5 200.6L311.5 200.6L314.5 200.7L317.5 200.8L320.5 201L323.5 201.2L326.5 201.4L329.5 201.7L332.5 202.1L335.5 202.4L338.5 202.8L341.5 203.1L344.5 203.4L347.5 203.8L350.5 204.1L353.5 204.5L356.5 204.8L359.5 205.2L362.5 205.5L365.5 205.9L368.5 206.3L371.5 206.6L374.5 207L377.5 207.4L380.5 207.7L383.5 208.1L386.5 208.5L389.5 208.9L392.5 209.3L395.5 209.6L398.5 210L401.5 210.4L404.5 210.8L407.5 211.2L410.5 211.6L413.5 212L416.5 212.5L419.5 212.9L422.5 213.3L425.5 213.7L428.5 214.2L431.5 214.6L434.5 215.1L437.5 215.5L440.5 216L443.5 216.5L446.5 217L449.5 217.4L452.5 217.9L455.5 218.4L458.5 218.9L461.5 219.4L464.5 219.9L464.5 269.2Z" fill="#777777"/>
<path d="M38.5 269.2L38.5 268.2L41.5 268.2L44.5 268.2L47.5 268.2L50.5 268.2L53.5 268.2L56.5 268.2L59.5 268.2L62.5 268.2L65.5 268.2L68.5 268.2L71.5 268.2L74.5 268.2L77.5 268.2L80.5 268.2L83.5 268.2L86.5 268.2L89.5 268.2L92.5 268.2L95.5 268.2L98.5 268.2L101.5 268.2L104.5 268.2L107.5 268.2L110.5 268.2L113.5 268.2L116.5 268.2L119.5 268.2L122.5 268.2L125.5 268.2L128.5 268L131.5 265.7L134.5 263.5L137.5 261.5L140.5 259.5L143.5 257.6L146.5 255.8L149.5 254.2L152.5 252.8L155.5 251.5L158.5 250.3L161.5 249.1L164.5 248L167.5 246.9L170.5 245.8L173.5 244.8L176.5 243.7L179.5 242.7L182.5 241.8L185.5 240.8L188.5 239.9L191.5 239.1L194.5 238.3L197.5 237.5L200.5 236.7L203.5 236L206.5 235.3L209.5 234.6L212.5 233.9L215.5 233.3L218.5 232.7L221.5 232.1L224.5 231.5L227.5 230.9L230.5 230.4L233.5 229.9L236.5 229.4L239.5 228.9L242.5 228.4L245.5 228L248.5 227.7L251.5 227.3L254.5 227.1L257.5 226.8L260.5 226.5L263.5 226.3L266.5 226.1L269.5 226L272.5 225.9L275.5 225.8L278.5 225.8L281.5 225.7L284.5 225.6L287.5 225.6L290.5 225.6L293.5 225.5L296.5 225.5L299.5 225.5L302.5 225.5L305.5 225.5L308.5 225.6L311.5 225.7L314.5 225.8L317.5 225.9L320.5 226L323.5 226.2L326.5 226.5L329.5 226.8L332.5 227.1L335.5 227.5L338.5 227.8L341.5 228.2L344.5 228.5L347.5 228.8L350.5 229.2L353.5 229.5L356.5 229.9L359.5 230.2L362.5 230.6L365.5 230.9L368.5 231.3L371.5 231.7L374.5 232L377.5 232.4L380.5 232.8L383.5 233.2L386.5 233.5L389.5 233.9L392.5 234.3L395.5 234.7L398.5 235.1L401.5 235.5L404.5 235.9L407.5 236.3L410.5 236.7L413.5 237.1L416.5 237.5L419.5 237.9L422.5 238.4L425.5 238.8L428.5 239.2L431.5 239.7L434.5 240.1L437.5 240.6L440.5 241.1L443.5 241.5L446.5 242L449.5 242.5L452.5 243L455.5 243.5L458.5 244L461.5 244.5L464.5 245L464.5 269.2Z" fill="#666666"/>
<path d="M250.6 187.5h1.2v1.2h-1.2zM210.4 203.1h1.2v1.2h-1.2zM383.2 229.7h1.2v1.2h-1.2zM214.4 180h1.2v1.2h-1.2zM347.5 213.4h1.2v1.2h-1.2zM235.3 210.4h1.2v1.2h-1.2zM367.8 202.1h1.2v1.2h-1.2zM258.2 205.4h1.2v1.2h-1.2zM242.1 182.2h1.2v1.2h-1.2zM345 195.3h1.2v1.2h-1.2zM340.8 198.8h1.2v1.2h-1.2zM339.4 186.6h1.2v1.2h-1.2zM374.5 189.9h1.2v1.2h-1.2zM365.2 180.6h1.2v1.2h-1.2zM384.8 185.7h1.2v1.2h-1.2zM339.1 181.5h1.2v1.2h-1.2zM175.8 198.9h1.2v1.2h-1.2zM298.7 197.6h1.2v1.2h-1.2zM292 196.8h1.2v1.2h-1.2zM325.1 235.5h1.2v1.2h-1.2zM374.7 181.5h1.2v1.2h-1.2zM347 185.6h1.2v1.2h-1.2zM369.6 179.9h1.2v1.2h-1.2zM220.9 185.3h1.2v1.2h-1.2zM395 209.3h1.2v1.2h-1.2zM288.4 241.2h1.2v1.2h-1.2zM338.1 185.8h1.2v1.2h-1.2zM400.6 201.3h1.2v1.2h-1.2zM377.3 238.1h1.2v1.2h-1.2zM355.9 199.8h1.2v1.2h-1.2zM402 180h1.2v1.2h-1.2zM326.3 246.4h1.2v1.2h-1.2zM339.8 186.1h1.2v1.2h-1.2zM338.1 194.7h1.2v1.2h-1.2zM304.1 185.5h1.2v1.2h-1.2zM378.4 187.3h1.2v1.2h-1.2zM308.2 183.9h1.2v1.2h-1.2zM378.1 183.6h1.2v1.2h-1.2zM315.3 233.1h1.2v1.2h-1.2zM304.1 193.9h1.2v1.2h-1.2zM407.4 189.4h1.2v1.2h-1.2zM261.3 200.9h1.2v1.2h-1.2zM309.5 197.1h1.2v1.2h-1.2zM283.2 222.9h1.2v1.2h-1.2zM288 188.5h1.2v1.2h-1.2zM345.8 203h1.2v1.2h-1.2zM372.1 180.5h1.2v1.2h-1.2zM379.2 181.5h1.2v1.2h-1.2zM325.9 223.9h1.2v1.2h-1.2zM338.6 185.9h1.2v1.2h-1.2zM337.3 220.7h1.2v1.2h-1.2zM367.7 183h1.2v1.2h-1.2zM367.7 210.2h1.2v1.2h-1.2zM266.6 180h1.2v1.2h-1.2zM392.9 187.3h1.2v1.2h-1.2zM307.9 188.6h1.2v1.2h-1.2zM363.4 180.1h1.2v1.2h-1.2zM364.2 199h1.2v1.2h-1.2zM375.8 179.8h1.2v1.2h-1.2zM361.9 190h1.2v1.2h-1.2zM401 179.6h1.2v1.2h-1.2zM328.5 184.4h1.2v1.2h-1.2zM395 190.2h1.2v1.2h-1.2zM323.7 194.2h1.2v1.2h-1.2zM273.9 201.4h1.2v1.2h-1.2zM384.1 244.6h1.2v1.2h-1.2zM399.8 206h1.2v1.2h-1.2zM217.5 202.7h1.2v1.2h-1.2zM399.7 187.1h1.2v1.2h-1.2zM267.3 209.2h1.2v1.2h-1.2zM217.9 244h1.2v1.2h-1.2zM388.2 196.4h1.2v1.2h-1.2zM320.2 245.8h1.2v1.2h-1.2zM290 191.5h1.2v1.2h-1.2zM280.3 239.3h1.2v1.2h-1.2zM399.4 199.4h1.2v1.2h-1.2zM262.8 221.2h1.2v1.2h-1.2zM364.6 181.5h1.2v1.2h-1.2zM338.4 227.9h1.2v1.2h-1.2zM315.6 181.3h1.2v1.2h-1.2zM237.2 186.8h1.2v1.2h-1.2zM282.6 186h1.2v1.2h-1.2zM343.4 237.2h1.2v1.2h-1.2zM311.7 211.1h1.2v1.2h-1.2zM388.4 182.6h1.2v1.2h-1.2zM259.5 236h1.2v1.2h-1.2zM275.5 209.6h1.2v1.2h-1.2zM301.4 252h1.2v1.2h-1.2zM302.1 179.5h1.2v1.2h-1.2zM393.9 211.7h1.2v1.2h-1.2zM253.5 206.8h1.2v1.2h-1.2zM223.6 181.3h1.2v1.2h-1.2zM336.2 182h1.2v1.2h-1.2zM244.7 191.9h1.2v1.2h-1.2zM377.4 184.5h1.2v1.2h-1.2zM358.9 184.8h1.2v1.2h-1.2zM269.4 187.3h1.2v1.2h-1.2zM370.1 194.3h1.2v1.2h-1.2zM403.5 181.1h1.2v1.2h-1.2zM203.7 218.5h1.2v1.2h-1.2zM345.7 195h1.2v1.2h-1.2zM218.9 192.2h1.2v1.2h-1.2zM377.7 180.7h1.2v1.2h-1.2zM311.5 180h1.2v1.2h-1.2zM331.4 186.2h1.2v1.2h-1.2zM284.8 204.1h1.2v1.2h-1.2zM349.3 203.5h1.2v1.2h-1.2zM191.2 181.9h1.2v1.2h-1.2zM206 231.1h1.2v1.2h-1.2zM305.7 182h1.2v1.2h-1.2zM317.8 217.8h1.2v1.2h-1.2zM68.8 222.6h1.2v1.2h-1.2zM121 176h1.2v1.2h-1.2zM94.9 187.8h1.2v1.2h-1.2zM85.4 198.8h1.2v1.2h-1.2zM92.3 186.4h1.2v1.2h-1.2zM115.5 181h1.2v1.2h-1.2zM103.5 174.7h1.2v1.2h-1.2zM88.4 197.1h1.2v1.2h-1.2zM103.1 187.6h1.2v1.2h-1.2zM62.5 240.9h1.2v1.2h-1.2zM84.7 202.8h1.2v1.2h-1.2zM77.7 210.8h1.2v1.2h-1.2zM77 210.6h1.2v1.2h-1.2zM118.4 187.4h1.2v1.2h-1.2zM91.7 191h1.2v1.2h-1.2zM124.2 175.9h1.2v1.2h-1.2zM74.6 214.4h1.2v1.2h-1.2zM87.1 199.4h1.2v1.2h-1.2zM114 170h1.2v1.2h-1.2zM118.2 180.6h1.2v1.2h-1.2zM101.2 179.4h1.2v1.2h-1.2zM79.5 203.2h1.2v1.2h-1.2zM104.4 182.8h1.2v1.2h-1.2zM110.5 188.8h1.2v1.2h-1.2zM97.3 187h1.2v1.2h-1.2zM107.8 178.3h1.2v1.2h-1.2zM105.6 179.2h1.2v1.2h-1.2zM70.2 216.1h1.2v1.2h-1.2z" fill="#ffffff"/>
<path d="M387.7 127.3h1.1v1.1h-1.1zM269.8 145.8h1.1v1.1h-1.1zM257.3 133h1.1v1.1h-1.1zM270.4 152.9h1.1v1.1h-1.1zM367.1 113.8h1.1v1.1h-1.1zM272.9 151.3h1.1v1.1h-1.1zM387.3 118.2h1.1v1.1h-1.1zM273.7 146.4h1.1v1.1h-1.1zM424.9 184.6h1.1v1.1h-1.1zM310 154.9h1.1v1.1h-1.1zM297.9 153.3h1.1v1.1h-1.1zM389.6 159.4h1.1v1.1h-1.1zM285.5 136.1h1.1v1.1h-1.1zM265.6 129.4h1.1v1.1h-1.1zM322.8 144.3h1.1v1.1h-1.1zM342.6 155.7h1.1v1.1h-1.1zM462.6 185.5h1.1v1.1h-1.1zM424 166.1h1.1v1.1h-1.1zM438.3 131.1h1.1v1.1h-1.1zM461.5 135.8h1.1v1.1h-1.1zM342.1 127.3h1.1v1.1h-1.1zM421.3 104.4h1.1v1.1h-1.1zM384.3 135.4h1.1v1.1h-1.1zM161.7 179h1.1v1.1h-1.1zM394.5 151h1.1v1.1h-1.1zM360.7 134.7h1.1v1.1h-1.1zM421.7 246h1.1v1.1h-1.1zM448.3 110.1h1.1v1.1h-1.1zM235 158.7h1.1v1.1h-1.1zM457.8 136.7h1.1v1.1h-1.1zM356 127h1.1v1.1h-1.1zM328.9 120.2h1.1v1.1h-1.1zM389.6 136.3h1.1v1.1h-1.1zM254.7 160.3h1.1v1.1h-1.1zM433.2 134.3h1.1v1.1h-1.1zM425.9 110.7h1.1v1.1h-1.1zM366.3 137h1.1v1.1h-1.1zM386.7 121.5h1.1v1.1h-1.1zM373.9 144.8h1.1v1.1h-1.1zM330.7 161.7h1.1v1.1h-1.1zM285.2 154.5h1.1v1.1h-1.1zM441.3 109.3h1.1v1.1h-1.1zM359.4 152.8h1.1v1.1h-1.1zM378.7 142.2h1.1v1.1h-1.1zM453.6 132.8h1.1v1.1h-1.1zM413.5 117.7h1.1v1.1h-1.1zM200.3 158.5h1.1v1.1h-1.1zM367.4 151.7h1.1v1.1h-1.1zM360.4 136.5h1.1v1.1h-1.1zM128.7 167.3h1.1v1.1h-1.1zM317.1 142.9h1.1v1.1h-1.1zM394.4 170h1.1v1.1h-1.1zM428.4 107.9h1.1v1.1h-1.1zM325.3 143h1.1v1.1h-1.1zM209.3 158h1.1v1.1h-1.1zM234.6 156.8h1.1v1.1h-1.1zM388.6 160.1h1.1v1.1h-1.1zM439.8 173.3h1.1v1.1h-1.1zM421.9 129.8h1.1v1.1h-1.1zM379.4 116.7h1.1v1.1h-1.1zM366.8 107.2h1.1v1.1h-1.1zM390.7 122.4h1.1v1.1h-1.1zM173.8 168.4h1.1v1.1h-1.1zM234.9 165.3h1.1v1.1h-1.1zM184.9 242.7h1.1v1.1h-1.1zM156.9 153.5h1.1v1.1h-1.1zM156.7 155.3h1.1v1.1h-1.1zM203.8 152.3h1.1v1.1h-1.1zM428.7 148.2h1.1v1.1h-1.1zM264.5 138.2h1.1v1.1h-1.1zM409.6 143.5h1.1v1.1h-1.1zM297 163.2h1.1v1.1h-1.1zM440.1 201.1h1.1v1.1h-1.1zM294.9 158.5h1.1v1.1h-1.1zM434.5 189.3h1.1v1.1h-1.1zM453.5 119.9h1.1v1.1h-1.1zM445.8 130.6h1.1v1.1h-1.1zM426.2 141.7h1.1v1.1h-1.1zM232.1 150.3h1.1v1.1h-1.1zM449.2 138.3h1.1v1.1h-1.1zM373.9 115.8h1.1v1.1h-1.1zM370.2 139.5h1.1v1.1h-1.1zM457.6 125h1.1v1.1h-1.1zM377.5 143.5h1.1v1.1h-1.1zM329.4 117.7h1.1v1.1h-1.1zM202.3 155.5h1.1v1.1h-1.1zM388.7 134.5h1.1v1.1h-1.1zM332.2 136.1h1.1v1.1h-1.1zM354.2 125.4h1.1v1.1h-1.1zM155.5 184.5h1.1v1.1h-1.1zM440.5 136.7h1.1v1.1h-1.1zM348.2 129.6h1.1v1.1h-1.1zM369.1 125.4h1.1v1.1h-1.1zM328 125.9h1.1v1.1h-1.1zM169.1 170.6h1.1v1.1h-1.1zM286.5 120.3h1.1v1.1h-1.1zM406.5 133.3h1.1v1.1h-1.1zM457.3 109.1h1.1v1.1h-1.1zM219.8 156.6h1.1v1.1h-1.1zM457.5 141.5h1.1v1.1h-1.1zM395.2 152.1h1.1v1.1h-1.1zM437.7 136.2h1.1v1.1h-1.1zM363 105.8h1.1v1.1h-1.1zM439.9 119.8h1.1v1.1h-1.1zM450.9 133.6h1.1v1.1h-1.1zM403.3 136.3h1.1v1.1h-1.1zM400 119.2h1.1v1.1h-1.1zM395.6 114.7h1.1v1.1h-1.1zM361.8 149.6h1.1v1.1h-1.1zM340.9 160.7h1.1v1.1h-1.1zM269.9 150.6h1.1v1.1h-1.1zM366.9 144.1h1.1v1.1h-1.1zM451.3 117.9h1.1v1.1h-1.1zM174.4 188h1.1v1.1h-1.1zM415.8 121.5h1.1v1.1h-1.1zM286.4 135.5h1.1v1.1h-1.1zM227.5 140.1h1.1v1.1h-1.1zM334.5 118h1.1v1.1h-1.1zM428.6 125.9h1.1v1.1h-1.1zM122.3 174.2h1.1v1.1h-1.1zM377.3 157h1.1v1.1h-1.1zM329.3 227.3h1.1v1.1h-1.1zM389 131.4h1.1v1.1h-1.1zM457.8 135.2h1.1v1.1h-1.1zM294.8 145.2h1.1v1.1h-1.1zM257.4 155.2h1.1v1.1h-1.1zM426.4 127.6h1.1v1.1h-1.1zM270 177.9h1.1v1.1h-1.1zM312.3 171h1.1v1.1h-1.1zM454 132.9h1.1v1.1h-1.1zM375.4 139.2h1.1v1.1h-1.1zM400.5 131.5h1.1v1.1h-1.1zM265.1 163.2h1.1v1.1h-1.1zM454.8 132.3h1.1v1.1h-1.1zM347.3 147.9h1.1v1.1h-1.1zM459.9 112.2h1.1v1.1h-1.1zM448.1 141.9h1.1v1.1h-1.1zM168.7 168.7h1.1v1.1h-1.1zM444.4 139.9h1.1v1.1h-1.1zM413.7 163.9h1.1v1.1h-1.1zM377.2 141.7h1.1v1.1h-1.1zM169 175.8h1.1v1.1h-1.1zM440.9 112.1h1.1v1.1h-1.1zM458.5 123.1h1.1v1.1h-1.1zM457.3 114.9h1.1v1.1h-1.1zM303 131.2h1.1v1.1h-1.1zM389.6 178.6h1.1v1.1h-1.1zM328.7 107h1.1v1.1h-1.1zM395.4 105.1h1.1v1.1h-1.1zM448.1 135.4h1.1v1.1h-1.1zM374.1 133.8h1.1v1.1h-1.1zM330.8 146.1h1.1v1.1h-1.1zM408.2 138.2h1.1v1.1h-1.1zM388.7 132.3h1.1v1.1h-1.1zM455.3 137.7h1.1v1.1h-1.1zM354.4 138.2h1.1v1.1h-1.1zM426 136.1h1.1v1.1h-1.1zM294.1 156.6h1.1v1.1h-1.1zM402.3 121.2h1.1v1.1h-1.1zM355 116.7h1.1v1.1h-1.1zM386.5 174.2h1.1v1.1h-1.1zM310.6 143.2h1.1v1.1h-1.1zM213.6 184.5h1.1v1.1h-1.1zM323.9 128.1h1.1v1.1h-1.1zM351.3 137h1.1v1.1h-1.1zM380.5 164.3h1.1v1.1h-1.1zM342.5 104.2h1.1v1.1h-1.1zM299.2 131.1h1.1v1.1h-1.1zM456.5 107.9h1.1v1.1h-1.1zM272.7 165.6h1.1v1.1h-1.1zM388.4 102.8h1.1v1.1h-1.1zM377.4 163.5h1.1v1.1h-1.1zM394.6 127.2h1.1v1.1h-1.1zM202.5 148.4h1.1v1.1h-1.1zM371.9 159.1h1.1v1.1h-1.1zM418.1 124.5h1.1v1.1h-1.1zM410.2 148.2h1.1v1.1h-1.1zM438.5 153.5h1.1v1.1h-1.1zM214.1 162.1h1.1v1.1h-1.1zM259.3 122.8h1.1v1.1h-1.1zM406.5 122.2h1.1v1.1h-1.1zM440.8 109.1h1.1v1.1h-1.1zM362.9 142.7h1.1v1.1h-1.1zM448 222.4h1.1v1.1h-1.1zM433.8 132.8h1.1v1.1h-1.1zM146.4 184.9h1.1v1.1h-1.1zM299.5 148.2h1.1v1.1h-1.1zM323 141.3h1.1v1.1h-1.1zM277 167.2h1.1v1.1h-1.1zM304.4 108.4h1.1v1.1h-1.1zM373.9 102.3h1.1v1.1h-1.1zM156.5 168h1.1v1.1h-1.1zM379.5 127.5h1.1v1.1h-1.1zM376.9 153.7h1.1v1.1h-1.1zM268.3 158.9h1.1v1.1h-1.1zM286.4 158.7h1.1v1.1h-1.1zM457.4 116.7h1.1v1.1h-1.1zM367 133.9h1.1v1.1h-1.1zM308.6 151.9h1.1v1.1h-1.1zM269.7 148.9h1.1v1.1h-1.1zM365.4 146.9h1.1v1.1h-1.1zM384.3 141.2h1.1v1.1h-1.1zM344.1 113.3h1.1v1.1h-1.1zM375.7 131.8h1.1v1.1h-1.1zM459.5 106.1h1.1v1.1h-1.1zM406.3 111.3h1.1v1.1h-1.1zM456.2 122.6h1.1v1.1h-1.1zM340.9 138.3h1.1v1.1h-1.1zM383.9 140.4h1.1v1.1h-1.1zM250.1 171.7h1.1v1.1h-1.1zM187.3 176.8h1.1v1.1h-1.1zM389.1 143.7h1.1v1.1h-1.1zM388 203.6h1.1v1.1h-1.1zM425 151.7h1.1v1.1h-1.1zM361.8 141.5h1.1v1.1h-1.1zM376.3 137.7h1.1v1.1h-1.1zM284.9 145.7h1.1v1.1h-1.1zM223.3 159.6h1.1v1.1h-1.1zM427.7 157.1h1.1v1.1h-1.1zM232.8 165.1h1.1v1.1h-1.1zM256.9 140.9h1.1v1.1h-1.1zM428.9 154.9h1.1v1.1h-1.1zM390.8 142h1.1v1.1h-1.1zM384 110h1.1v1.1h-1.1zM209.2 166h1.1v1.1h-1.1zM395.9 139.4h1.1v1.1h-1.1zM389.5 140.6h1.1v1.1h-1.1zM430.3 136.9h1.1v1.1h-1.1zM441.2 121.1h1.1v1.1h-1.1zM400.3 122.8h1.1v1.1h-1.1zM207 163h1.1v1.1h-1.1zM285.2 141.6h1.1v1.1h-1.1zM441.2 158.6h1.1v1.1h-1.1zM240.2 157.4h1.1v1.1h-1.1zM141.8 185.9h1.1v1.1h-1.1zM393.6 122.4h1.1v1.1h-1.1zM264.3 171.4h1.1v1.1h-1.1zM403.6 145.5h1.1v1.1h-1.1zM453.4 137.2h1.1v1.1h-1.1zM322.7 172.6h1.1v1.1h-1.1zM458.1 130.6h1.1v1.1h-1.1zM421.2 120.6h1.1v1.1h-1.1zM268.7 158.2h1.1v1.1h-1.1zM372.3 115.7h1.1v1.1h-1.1zM374.4 154.7h1.1v1.1h-1.1zM457.1 159.1h1.1v1.1h-1.1zM396.2 139.7h1.1v1.1h-1.1zM259.8 150.8h1.1v1.1h-1.1zM207.4 146.2h1.1v1.1h-1.1zM174.4 178h1.1v1.1h-1.1zM367 107.8h1.1v1.1h-1.1zM264.5 148h1.1v1.1h-1.1zM421 102h1.1v1.1h-1.1zM307 111.7h1.1v1.1h-1.1zM437.7 124.2h1.1v1.1h-1.1zM421.5 140.1h1.1v1.1h-1.1zM415.8 130.8h1.1v1.1h-1.1zM234.8 134.9h1.1v1.1h-1.1zM296.8 195.3h1.1v1.1h-1.1zM259.4 139.7h1.1v1.1h-1.1zM354.8 131.2h1.1v1.1h-1.1zM224.4 171.2h1.1v1.1h-1.1zM225.6 189.6h1.1v1.1h-1.1zM224.2 166.6h1.1v1.1h-1.1zM355.7 138.7h1.1v1.1h-1.1zM403.5 133.6h1.1v1.1h-1.1zM347.1 108.6h1.1v1.1h-1.1zM299.1 142.8h1.1v1.1h-1.1zM403.5 143.6h1.1v1.1h-1.1zM386.5 136h1.1v1.1h-1.1zM252.3 156.2h1.1v1.1h-1.1zM354.1 161.5h1.1v1.1h-1.1zM235 172.1h1.1v1.1h-1.1zM340.6 149h1.1v1.1h-1.1zM406.9 112.6h1.1v1.1h-1.1zM406.6 122.5h1.1v1.1h-1.1zM410.4 139h1.1v1.1h-1.1zM420.7 117.6h1.1v1.1h-1.1zM370.9 132h1.1v1.1h-1.1zM398.8 133h1.1v1.1h-1.1zM327.8 174.9h1.1v1.1h-1.1zM277.9 141.8h1.1v1.1h-1.1zM459.7 157.6h1.1v1.1h-1.1zM416.8 125.8h1.1v1.1h-1.1zM351.9 108h1.1v1.1h-1.1zM284.7 129.4h1.1v1.1h-1.1zM400.2 149.7h1.1v1.1h-1.1zM414.9 129.9h1.1v1.1h-1.1zM330.9 117.8h1.1v1.1h-1.1zM221.4 237h1.1v1.1h-1.1zM251 171.9h1.1v1.1h-1.1zM437.4 225.6h1.1v1.1h-1.1zM286.8 120.6h1.1v1.1h-1.1zM409 130.3h1.1v1.1h-1.1zM462.9 109h1.1v1.1h-1.1zM366.8 176.8h1.1v1.1h-1.1zM335.7 109.7h1.1v1.1h-1.1zM420.8 132.7h1.1v1.1h-1.1zM308.2 142.5h1.1v1.1h-1.1zM391.4 156.5h1.1v1.1h-1.1zM251.1 150.7h1.1v1.1h-1.1zM459.8 104.8h1.1v1.1h-1.1zM416.8 134.8h1.1v1.1h-1.1zM257.4 124.1h1.1v1.1h-1.1zM341.9 143.1h1.1v1.1h-1.1zM322.4 124.8h1.1v1.1h-1.1zM334.8 143.6h1.1v1.1h-1.1zM150.1 165.1h1.1v1.1h-1.1zM208.6 179.1h1.1v1.1h-1.1zM167.5 184.1h1.1v1.1h-1.1zM325.2 128.7h1.1v1.1h-1.1zM92.9 208.6h1.1v1.1h-1.1zM409.2 125.4h1.1v1.1h-1.1zM335.9 118.2h1.1v1.1h-1.1zM431.6 134.3h1.1v1.1h-1.1zM448.7 143.5h1.1v1.1h-1.1zM325.2 129.8h1.1v1.1h-1.1zM228.1 163.5h1.1v1.1h-1.1zM417.4 169.7h1.1v1.1h-1.1zM462.2 145.5h1.1v1.1h-1.1zM265.2 149.1h1.1v1.1h-1.1zM273.2 151.2h1.1v1.1h-1.1zM430.6 175.4h1.1v1.1h-1.1zM324.3 154.7h1.1v1.1h-1.1zM220.1 174.7h1.1v1.1h-1.1zM447.8 102h1.1v1.1h-1.1zM461.3 146.3h1.1v1.1h-1.1zM378.8 121h1.1v1.1h-1.1zM247.6 152.3h1.1v1.1h-1.1zM375.8 109.5h1.1v1.1h-1.1zM342.3 103h1.1v1.1h-1.1zM269.8 170.2h1.1v1.1h-1.1zM352.4 138h1.1v1.1h-1.1zM426 151.9h1.1v1.1h-1.1zM458.3 125.1h1.1v1.1h-1.1zM403.5 135.7h1.1v1.1h-1.1zM182.8 156h1.1v1.1h-1.1zM349.8 132.3h1.1v1.1h-1.1zM301.6 144.6h1.1v1.1h-1.1zM301.1 151.4h1.1v1.1h-1.1zM454.7 127.6h1.1v1.1h-1.1zM344.7 119.7h1.1v1.1h-1.1zM173.8 176.8h1.1v1.1h-1.1zM462.6 134.7h1.1v1.1h-1.1zM202.5 162.3h1.1v1.1h-1.1zM448.1 133.8h1.1v1.1h-1.1zM277.2 144.4h1.1v1.1h-1.1zM388.9 139.4h1.1v1.1h-1.1zM269.5 134.9h1.1v1.1h-1.1zM341.3 157.5h1.1v1.1h-1.1zM149.7 185.3h1.1v1.1h-1.1zM357.7 144.8h1.1v1.1h-1.1zM219.9 164.5h1.1v1.1h-1.1zM247.3 193.2h1.1v1.1h-1.1zM286.5 132.2h1.1v1.1h-1.1zM450.3 114.2h1.1v1.1h-1.1zM250.8 172.9h1.1v1.1h-1.1zM438.2 120.8h1.1v1.1h-1.1zM299.2 152h1.1v1.1h-1.1zM433.6 170.5h1.1v1.1h-1.1zM290.8 150.4h1.1v1.1h-1.1zM287.6 145.4h1.1v1.1h-1.1zM388.5 117.1h1.1v1.1h-1.1zM366.2 160.7h1.1v1.1h-1.1zM327.7 134.9h1.1v1.1h-1.1zM423.6 153.5h1.1v1.1h-1.1zM440 132.2h1.1v1.1h-1.1zM407 158.7h1.1v1.1h-1.1zM327.3 140.1h1.1v1.1h-1.1zM214.1 168.3h1.1v1.1h-1.1zM459.8 111.9h1.1v1.1h-1.1zM452.8 135.2h1.1v1.1h-1.1zM270.9 142.2h1.1v1.1h-1.1zM308.5 223.4h1.1v1.1h-1.1zM358.6 151.2h1.1v1.1h-1.1zM356.2 147.2h1.1v1.1h-1.1zM399.9 141.3h1.1v1.1h-1.1zM437.9 121.4h1.1v1.1h-1.1zM391.5 121.3h1.1v1.1h-1.1zM388.1 135.6h1.1v1.1h-1.1zM285.6 124.4h1.1v1.1h-1.1zM174 179.8h1.1v1.1h-1.1zM157 168.6h1.1v1.1h-1.1zM457.3 114.5h1.1v1.1h-1.1zM212.5 160.7h1.1v1.1h-1.1zM322.4 161.5h1.1v1.1h-1.1zM327.9 133.6h1.1v1.1h-1.1zM447.1 146.5h1.1v1.1h-1.1zM435.4 136.3h1.1v1.1h-1.1zM400.5 126.1h1.1v1.1h-1.1zM429.5 156.1h1.1v1.1h-1.1zM341 167.8h1.1v1.1h-1.1zM343.8 165h1.1v1.1h-1.1zM416.6 107.8h1.1v1.1h-1.1zM376.6 133.8h1.1v1.1h-1.1zM448.7 108.7h1.1v1.1h-1.1zM381 141h1.1v1.1h-1.1zM306.9 110.9h1.1v1.1h-1.1zM451.9 135.8h1.1v1.1h-1.1zM331.4 145.9h1.1v1.1h-1.1zM371.9 117.8h1.1v1.1h-1.1zM303.4 167h1.1v1.1h-1.1zM407.5 119.3h1.1v1.1h-1.1zM375.9 126.5h1.1v1.1h-1.1zM452.5 193h1.1v1.1h-1.1zM352.2 150.6h1.1v1.1h-1.1zM341 175.1h1.1v1.1h-1.1zM277.2 141.8h1.1v1.1h-1.1zM287.4 140.4h1.1v1.1h-1.1zM259.9 142.3h1.1v1.1h-1.1zM338.7 125.6h1.1v1.1h-1.1zM438.2 113.5h1.1v1.1h-1.1zM402.8 121h1.1v1.1h-1.1zM429.9 125.4h1.1v1.1h-1.1zM409.8 137.9h1.1v1.1h-1.1zM372 116h1.1v1.1h-1.1zM168.2 162.8h1.1v1.1h-1.1zM370.1 134.4h1.1v1.1h-1.1zM451.2 120.5h1.1v1.1h-1.1zM452 148h1.1v1.1h-1.1zM410.5 122.5h1.1v1.1h-1.1zM124.4 172.5h1.1v1.1h-1.1zM389 113.1h1.1v1.1h-1.1zM327.7 134.3h1.1v1.1h-1.1zM331.7 153.9h1.1v1.1h-1.1zM295 172h1.1v1.1h-1.1zM93.1 201.8h1.1v1.1h-1.1zM433.8 133h1.1v1.1h-1.1zM195.7 157.4h1.1v1.1h-1.1zM383.7 152.7h1.1v1.1h-1.1zM371.7 127.1h1.1v1.1h-1.1zM372.3 106.7h1.1v1.1h-1.1zM331.1 140.3h1.1v1.1h-1.1zM433.4 167.1h1.1v1.1h-1.1zM389.1 145.4h1.1v1.1h-1.1zM369.8 116.7h1.1v1.1h-1.1zM208.1 175.9h1.1v1.1h-1.1zM192.9 171.3h1.1v1.1h-1.1zM327.8 153.8h1.1v1.1h-1.1zM256.1 157.9h1.1v1.1h-1.1zM384 147.4h1.1v1.1h-1.1zM257.1 131.6h1.1v1.1h-1.1zM451.5 120.3h1.1v1.1h-1.1zM415.3 162.3h1.1v1.1h-1.1zM458.5 141.9h1.1v1.1h-1.1zM370.5 181.4h1.1v1.1h-1.1zM437.8 131.7h1.1v1.1h-1.1zM437.9 147.9h1.1v1.1h-1.1zM351.9 117h1.1v1.1h-1.1zM429.3 162.2h1.1v1.1h-1.1zM286.1 166.9h1.1v1.1h-1.1zM168.8 172.9h1.1v1.1h-1.1zM330.8 137.2h1.1v1.1h-1.1zM370.7 142.9h1.1v1.1h-1.1zM303.1 139.8h1.1v1.1h-1.1zM327.7 128.3h1.1v1.1h-1.1zM323.1 182h1.1v1.1h-1.1zM347.9 140.3h1.1v1.1h-1.1zM328.3 134.6h1.1v1.1h-1.1zM395.6 149.4h1.1v1.1h-1.1zM438.3 119.8h1.1v1.1h-1.1zM407.9 157.8h1.1v1.1h-1.1zM341 132.8h1.1v1.1h-1.1zM367.1 116.1h1.1v1.1h-1.1zM282.5 146.2h1.1v1.1h-1.1zM342.6 159.7h1.1v1.1h-1.1zM174 175.3h1.1v1.1h-1.1zM212.7 173.6h1.1v1.1h-1.1zM265.1 141.7h1.1v1.1h-1.1zM257.5 130.1h1.1v1.1h-1.1zM376.9 147.7h1.1v1.1h-1.1zM420.8 104.4h1.1v1.1h-1.1zM310 137.3h1.1v1.1h-1.1zM399.6 128.3h1.1v1.1h-1.1zM299.4 139.8h1.1v1.1h-1.1zM399.9 153.4h1.1v1.1h-1.1zM250.7 191.2h1.1v1.1h-1.1zM402.3 134.9h1.1v1.1h-1.1zM294.4 147.9h1.1v1.1h-1.1zM389.7 156.2h1.1v1.1h-1.1zM342.7 133.7h1.1v1.1h-1.1zM441.6 130.6h1.1v1.1h-1.1zM320.4 139.7h1.1v1.1h-1.1zM377.4 143h1.1v1.1h-1.1zM419 154.2h1.1v1.1h-1.1zM443 137.9h1.1v1.1h-1.1zM454.5 138.8h1.1v1.1h-1.1zM422 131.9h1.1v1.1h-1.1zM437.9 132.5h1.1v1.1h-1.1zM355.2 111.6h1.1v1.1h-1.1zM401.4 104.2h1.1v1.1h-1.1zM187.3 166.7h1.1v1.1h-1.1zM438.7 156.4h1.1v1.1h-1.1zM277.4 145.3h1.1v1.1h-1.1zM433.4 118.6h1.1v1.1h-1.1zM455 121.6h1.1v1.1h-1.1zM286.4 155.6h1.1v1.1h-1.1zM431.1 191.8h1.1v1.1h-1.1zM261.7 134.8h1.1v1.1h-1.1zM349.8 159.6h1.1v1.1h-1.1zM418.9 134.6h1.1v1.1h-1.1zM345.6 154.4h1.1v1.1h-1.1zM320.9 139.4h1.1v1.1h-1.1zM368.6 120.9h1.1v1.1h-1.1zM207.7 166.1h1.1v1.1h-1.1zM302.6 168.9h1.1v1.1h-1.1zM396.8 169.8h1.1v1.1h-1.1zM419.5 117h1.1v1.1h-1.1zM410 165.9h1.1v1.1h-1.1zM411.6 140.9h1.1v1.1h-1.1zM207.9 155.6h1.1v1.1h-1.1zM342 123.6h1.1v1.1h-1.1zM178.6 150h1.1v1.1h-1.1zM282.7 128.2h1.1v1.1h-1.1zM277.1 159h1.1v1.1h-1.1zM391.9 168.8h1.1v1.1h-1.1zM321.9 140.8h1.1v1.1h-1.1zM328.1 171h1.1v1.1h-1.1zM429.9 173.4h1.1v1.1h-1.1zM377.6 169.8h1.1v1.1h-1.1zM376.7 131.8h1.1v1.1h-1.1zM389.1 123.7h1.1v1.1h-1.1zM259.4 150.3h1.1v1.1h-1.1zM456.6 142.9h1.1v1.1h-1.1zM207.9 161.3h1.1v1.1h-1.1zM355.5 124.2h1.1v1.1h-1.1zM281 128.6h1.1v1.1h-1.1zM182.7 135.2h1.1v1.1h-1.1zM174.5 174.7h1.1v1.1h-1.1zM234.6 150.6h1.1v1.1h-1.1zM406.7 107.6h1.1v1.1h-1.1zM256.1 158.4h1.1v1.1h-1.1zM264.7 139.5h1.1v1.1h-1.1zM304.2 132.5h1.1v1.1h-1.1zM419 135.9h1.1v1.1h-1.1zM457.7 140.2h1.1v1.1h-1.1zM449.4 142.2h1.1v1.1h-1.1zM287.2 143.6h1.1v1.1h-1.1zM386.7 127.1h1.1v1.1h-1.1zM439.9 139.9h1.1v1.1h-1.1zM415.3 126.2h1.1v1.1h-1.1zM207.1 174.6h1.1v1.1h-1.1zM281.2 134h1.1v1.1h-1.1zM339.9 172.1h1.1v1.1h-1.1zM440.7 102h1.1v1.1h-1.1zM230.1 156h1.1v1.1h-1.1zM232.5 160.3h1.1v1.1h-1.1zM391.1 136.8h1.1v1.1h-1.1zM226.9 159.3h1.1v1.1h-1.1zM228.2 138.2h1.1v1.1h-1.1zM246.1 170.2h1.1v1.1h-1.1zM291 169.8h1.1v1.1h-1.1zM456.5 114.5h1.1v1.1h-1.1zM448.4 119.2h1.1v1.1h-1.1zM250.8 138.1h1.1v1.1h-1.1zM242 181.1h1.1v1.1h-1.1zM350 134.1h1.1v1.1h-1.1zM384.3 147.6h1.1v1.1h-1.1zM345.6 117.4h1.1v1.1h-1.1zM452 147.3h1.1v1.1h-1.1zM187.7 154.9h1.1v1.1h-1.1zM433.9 134.7h1.1v1.1h-1.1zM250.9 150h1.1v1.1h-1.1zM172.3 185.2h1.1v1.1h-1.1zM330.8 143.4h1.1v1.1h-1.1zM372.3 155.6h1.1v1.1h-1.1zM361.4 114.8h1.1v1.1h-1.1zM239.9 144.2h1.1v1.1h-1.1zM455.2 136h1.1v1.1h-1.1zM440.2 131.4h1.1v1.1h-1.1zM397.5 121.7h1.1v1.1h-1.1zM416.6 160.6h1.1v1.1h-1.1zM396.4 139.3h1.1v1.1h-1.1zM433.3 196.7h1.1v1.1h-1.1zM419.8 132.7h1.1v1.1h-1.1zM360.8 142.9h1.1v1.1h-1.1zM455 128.8h1.1v1.1h-1.1zM310.3 132.4h1.1v1.1h-1.1zM214.8 179.2h1.1v1.1h-1.1zM361.8 150.7h1.1v1.1h-1.1zM450.8 141.1h1.1v1.1h-1.1zM431.7 144.2h1.1v1.1h-1.1zM447.9 134.7h1.1v1.1h-1.1zM461.6 102h1.1v1.1h-1.1zM384.6 166.4h1.1v1.1h-1.1zM347.8 154.3h1.1v1.1h-1.1zM438 148.3h1.1v1.1h-1.1zM374.6 141.3h1.1v1.1h-1.1zM454.8 129.8h1.1v1.1h-1.1zM383.7 129.7h1.1v1.1h-1.1zM366.6 135.5h1.1v1.1h-1.1zM360.2 111.7h1.1v1.1h-1.1zM407.1 111.2h1.1v1.1h-1.1zM409.7 103.2h1.1v1.1h-1.1zM304.4 110h1.1v1.1h-1.1zM335.1 134.2h1.1v1.1h-1.1zM435.7 128.7h1.1v1.1h-1.1zM386.6 119.4h1.1v1.1h-1.1zM309.3 139h1.1v1.1h-1.1zM437.7 129h1.1v1.1h-1.1zM182.9 171.9h1.1v1.1h-1.1zM437.9 106.6h1.1v1.1h-1.1zM298.2 124.1h1.1v1.1h-1.1zM419.2 111.4h1.1v1.1h-1.1zM450.3 157.6h1.1v1.1h-1.1zM421 177.6h1.1v1.1h-1.1zM440 144h1.1v1.1h-1.1zM455.5 146.4h1.1v1.1h-1.1zM386.9 147.1h1.1v1.1h-1.1zM384.1 132.5h1.1v1.1h-1.1zM376.8 141.6h1.1v1.1h-1.1zM303.5 150.7h1.1v1.1h-1.1zM429.6 157h1.1v1.1h-1.1zM230.5 149.9h1.1v1.1h-1.1zM322.5 174h1.1v1.1h-1.1zM401.5 144.1h1.1v1.1h-1.1zM209.1 163.8h1.1v1.1h-1.1zM278 182.6h1.1v1.1h-1.1zM391.4 142.2h1.1v1.1h-1.1zM406.9 147h1.1v1.1h-1.1zM405 125.9h1.1v1.1h-1.1zM399.3 150.8h1.1v1.1h-1.1zM454.8 103.2h1.1v1.1h-1.1zM438.4 119.9h1.1v1.1h-1.1zM361 151.7h1.1v1.1h-1.1zM152.3 178.3h1.1v1.1h-1.1zM369.7 133.5h1.1v1.1h-1.1zM434.8 143.7h1.1v1.1h-1.1zM356 140h1.1v1.1h-1.1zM287.7 138.5h1.1v1.1h-1.1zM327.7 131.8h1.1v1.1h-1.1zM383.7 117h1.1v1.1h-1.1zM391.2 135.7h1.1v1.1h-1.1zM388.6 136.3h1.1v1.1h-1.1zM389.1 141.2h1.1v1.1h-1.1zM372.1 112.1h1.1v1.1h-1.1zM294.4 152.5h1.1v1.1h-1.1zM416.8 113.7h1.1v1.1h-1.1zM455.7 102h1.1v1.1h-1.1zM285.8 192.6h1.1v1.1h-1.1zM384.2 127.5h1.1v1.1h-1.1zM409.9 105.3h1.1v1.1h-1.1zM404.2 111.4h1.1v1.1h-1.1zM400.5 147.8h1.1v1.1h-1.1zM400.2 130.5h1.1v1.1h-1.1zM406.5 125.3h1.1v1.1h-1.1zM407.5 119.5h1.1v1.1h-1.1zM276.9 152.8h1.1v1.1h-1.1zM455.5 153h1.1v1.1h-1.1zM289.3 148.2h1.1v1.1h-1.1zM348.7 140.4h1.1v1.1h-1.1zM437.4 149.9h1.1v1.1h-1.1zM448.3 134.2h1.1v1.1h-1.1zM400.3 118h1.1v1.1h-1.1zM402.4 123.4h1.1v1.1h-1.1zM190.1 145.2h1.1v1.1h-1.1zM266.3 137.1h1.1v1.1h-1.1zM371.9 133.6h1.1v1.1h-1.1zM387 127.9h1.1v1.1h-1.1zM179.2 167.1h1.1v1.1h-1.1zM387.1 102h1.1v1.1h-1.1zM264.2 140.6h1.1v1.1h-1.1zM412.8 120.7h1.1v1.1h-1.1zM449.3 137h1.1v1.1h-1.1zM287.2 134.2h1.1v1.1h-1.1zM375.1 109.9h1.1v1.1h-1.1zM387.1 142.3h1.1v1.1h-1.1zM371.6 148.1h1.1v1.1h-1.1zM438.5 186.1h1.1v1.1h-1.1zM442.2 122.2h1.1v1.1h-1.1zM350 123.1h1.1v1.1h-1.1zM426.4 134.7h1.1v1.1h-1.1zM182 173.5h1.1v1.1h-1.1zM389 137.8h1.1v1.1h-1.1zM400.1 188.7h1.1v1.1h-1.1zM212.7 176.7h1.1v1.1h-1.1zM425.7 102h1.1v1.1h-1.1zM362.5 134.9h1.1v1.1h-1.1zM319.6 150.8h1.1v1.1h-1.1zM366.6 102.3h1.1v1.1h-1.1zM167.5 166h1.1v1.1h-1.1zM284.2 161.8h1.1v1.1h-1.1zM428 125.7h1.1v1.1h-1.1zM348.7 137.7h1.1v1.1h-1.1zM212.4 167.7h1.1v1.1h-1.1zM207.3 168.4h1.1v1.1h-1.1zM303.7 140.8h1.1v1.1h-1.1zM159.4 160.3h1.1v1.1h-1.1zM344.1 133.4h1.1v1.1h-1.1zM427.5 112.7h1.1v1.1h-1.1zM342.2 137.5h1.1v1.1h-1.1zM207.8 151.5h1.1v1.1h-1.1zM453.6 127.1h1.1v1.1h-1.1zM376.9 162.1h1.1v1.1h-1.1zM392.7 136.8h1.1v1.1h-1.1zM259.2 153.9h1.1v1.1h-1.1zM372 105h1.1v1.1h-1.1zM377.3 114.6h1.1v1.1h-1.1zM379.2 141h1.1v1.1h-1.1zM406.6 136.8h1.1v1.1h-1.1zM342.2 194.1h1.1v1.1h-1.1zM257.2 147.9h1.1v1.1h-1.1zM377.7 160.6h1.1v1.1h-1.1zM387.2 104.5h1.1v1.1h-1.1zM242.4 159.3h1.1v1.1h-1.1zM354.1 136.8h1.1v1.1h-1.1zM402.4 168.4h1.1v1.1h-1.1zM226.6 157.1h1.1v1.1h-1.1zM368.4 139.9h1.1v1.1h-1.1zM441.7 234h1.1v1.1h-1.1zM329.9 137.6h1.1v1.1h-1.1zM286.1 129h1.1v1.1h-1.1zM421.4 139h1.1v1.1h-1.1zM367.6 133.4h1.1v1.1h-1.1zM401.6 135.8h1.1v1.1h-1.1zM270.1 153.8h1.1v1.1h-1.1zM168.7 173.4h1.1v1.1h-1.1zM429.1 127.9h1.1v1.1h-1.1zM449.5 139.3h1.1v1.1h-1.1zM361.3 117.4h1.1v1.1h-1.1zM278.4 157h1.1v1.1h-1.1zM384.2 154.5h1.1v1.1h-1.1zM377.4 107.7h1.1v1.1h-1.1zM342.2 142.4h1.1v1.1h-1.1zM162 189.3h1.1v1.1h-1.1zM374.2 131.9h1.1v1.1h-1.1zM254.7 154.4h1.1v1.1h-1.1zM348.7 136.3h1.1v1.1h-1.1zM427.6 137.4h1.1v1.1h-1.1zM322.7 171.1h1.1v1.1h-1.1zM328.2 149h1.1v1.1h-1.1zM328.3 140.4h1.1v1.1h-1.1zM363.1 135.6h1.1v1.1h-1.1zM414.3 130.2h1.1v1.1h-1.1zM287.6 196.1h1.1v1.1h-1.1zM229.8 160.4h1.1v1.1h-1.1zM286.4 162.4h1.1v1.1h-1.1zM460.2 143.7h1.1v1.1h-1.1zM436.7 118.2h1.1v1.1h-1.1zM216 151.8h1.1v1.1h-1.1zM174.2 150.1h1.1v1.1h-1.1zM300.6 139.8h1.1v1.1h-1.1zM421.7 130.5h1.1v1.1h-1.1zM119.2 176.9h1.1v1.1h-1.1zM439.6 159.9h1.1v1.1h-1.1zM410.6 133.6h1.1v1.1h-1.1zM344.9 139h1.1v1.1h-1.1zM396.1 155.8h1.1v1.1h-1.1zM358.9 120.3h1.1v1.1h-1.1zM277.7 133.1h1.1v1.1h-1.1zM329.2 136.5h1.1v1.1h-1.1zM291.4 156.3h1.1v1.1h-1.1zM169.8 174.6h1.1v1.1h-1.1zM265.1 165h1.1v1.1h-1.1zM202.3 169.9h1.1v1.1h-1.1zM347.4 137.7h1.1v1.1h-1.1zM315.6 124.1h1.1v1.1h-1.1zM370.4 167.4h1.1v1.1h-1.1zM290.1 239h1.1v1.1h-1.1zM150.8 173.8h1.1v1.1h-1.1zM328.4 146h1.1v1.1h-1.1zM167.4 168.3h1.1v1.1h-1.1zM303.7 154.1h1.1v1.1h-1.1zM440 137.9h1.1v1.1h-1.1zM416.2 139.5h1.1v1.1h-1.1zM331 136h1.1v1.1h-1.1zM442.6 132h1.1v1.1h-1.1zM448.5 104.1h1.1v1.1h-1.1zM403.7 136.5h1.1v1.1h-1.1zM450.6 124.7h1.1v1.1h-1.1zM279.7 160.7h1.1v1.1h-1.1zM229 177.2h1.1v1.1h-1.1zM135.4 182.9h1.1v1.1h-1.1zM382.4 150.1h1.1v1.1h-1.1zM168.6 196.2h1.1v1.1h-1.1zM327.9 220.5h1.1v1.1h-1.1zM407.2 131.7h1.1v1.1h-1.1zM407.4 135.5h1.1v1.1h-1.1zM224.7 156.5h1.1v1.1h-1.1zM370.5 111.5h1.1v1.1h-1.1zM403.6 135.1h1.1v1.1h-1.1zM223.2 151h1.1v1.1h-1.1zM437.9 127.7h1.1v1.1h-1.1zM207.9 187.1h1.1v1.1h-1.1zM201.1 179.5h1.1v1.1h-1.1zM341 131.4h1.1v1.1h-1.1zM452.2 138.2h1.1v1.1h-1.1zM183.5 158.9h1.1v1.1h-1.1zM202.7 151.6h1.1v1.1h-1.1zM406.4 121.5h1.1v1.1h-1.1zM428.5 128.6h1.1v1.1h-1.1zM374.2 119.9h1.1v1.1h-1.1zM450.8 124.8h1.1v1.1h-1.1zM455.7 128.8h1.1v1.1h-1.1zM193.5 186.4h1.1v1.1h-1.1zM399.8 117.8h1.1v1.1h-1.1zM463 123.3h1.1v1.1h-1.1zM237.8 168.4h1.1v1.1h-1.1zM428.1 169.2h1.1v1.1h-1.1zM184.9 168h1.1v1.1h-1.1zM422.1 131.2h1.1v1.1h-1.1zM422.1 135.8h1.1v1.1h-1.1zM462 122.8h1.1v1.1h-1.1zM284.6 159.1h1.1v1.1h-1.1zM457.5 128.1h1.1v1.1h-1.1zM453.1 142.2h1.1v1.1h-1.1zM450.7 111.4h1.1v1.1h-1.1zM328.2 182.6h1.1v1.1h-1.1zM438 139.5h1.1v1.1h-1.1zM330.7 159.1h1.1v1.1h-1.1zM457.9 115.9h1.1v1.1h-1.1zM416.6 152.2h1.1v1.1h-1.1zM343.8 176.6h1.1v1.1h-1.1zM342.8 114.5h1.1v1.1h-1.1zM421.6 140.4h1.1v1.1h-1.1zM384.1 102.9h1.1v1.1h-1.1zM229.1 162.9h1.1v1.1h-1.1zM177.5 183.8h1.1v1.1h-1.1zM416 102h1.1v1.1h-1.1zM282.4 137.6h1.1v1.1h-1.1zM398.3 131h1.1v1.1h-1.1zM366.4 159.5h1.1v1.1h-1.1zM452.1 140.6h1.1v1.1h-1.1zM193.2 172.8h1.1v1.1h-1.1zM438.3 121.7h1.1v1.1h-1.1zM298.2 136.6h1.1v1.1h-1.1zM417.4 137.8h1.1v1.1h-1.1zM256.1 153.7h1.1v1.1h-1.1zM304.8 170.3h1.1v1.1h-1.1zM390.3 149.5h1.1v1.1h-1.1zM252.1 144.1h1.1v1.1h-1.1zM210 172h1.1v1.1h-1.1zM403.9 173.8h1.1v1.1h-1.1zM437.9 108.5h1.1v1.1h-1.1zM295.6 161.7h1.1v1.1h-1.1zM327.9 192.3h1.1v1.1h-1.1zM454.5 167.8h1.1v1.1h-1.1zM330.3 125.9h1.1v1.1h-1.1zM457.3 111.3h1.1v1.1h-1.1zM388.5 133.9h1.1v1.1h-1.1zM93.2 186.4h1.1v1.1h-1.1zM378.4 137.6h1.1v1.1h-1.1zM261.9 141.8h1.1v1.1h-1.1zM410.3 152.4h1.1v1.1h-1.1zM378.7 112.9h1.1v1.1h-1.1zM192.3 166.4h1.1v1.1h-1.1zM455.2 122.2h1.1v1.1h-1.1zM388.7 192.3h1.1v1.1h-1.1zM279.9 145.9h1.1v1.1h-1.1zM434.1 114.3h1.1v1.1h-1.1zM354.5 110.1h1.1v1.1h-1.1zM292.1 121.5h1.1v1.1h-1.1zM374.2 132.9h1.1v1.1h-1.1zM361.1 144.8h1.1v1.1h-1.1zM364.8 167.6h1.1v1.1h-1.1zM388.5 226.4h1.1v1.1h-1.1zM156.5 144.3h1.1v1.1h-1.1zM407.5 148.9h1.1v1.1h-1.1zM355.5 155.6h1.1v1.1h-1.1zM422.3 148.3h1.1v1.1h-1.1zM306.4 171.8h1.1v1.1h-1.1zM428.4 132.2h1.1v1.1h-1.1zM352.1 105.8h1.1v1.1h-1.1zM400.5 113.8h1.1v1.1h-1.1zM309.8 139.9h1.1v1.1h-1.1zM448.8 113.3h1.1v1.1h-1.1zM308.1 143.9h1.1v1.1h-1.1zM185.1 162.9h1.1v1.1h-1.1zM147.1 183.8h1.1v1.1h-1.1zM384.6 104.3h1.1v1.1h-1.1zM339.2 156h1.1v1.1h-1.1zM260.2 197.9h1.1v1.1h-1.1zM406.4 111.7h1.1v1.1h-1.1zM112.1 179.7h1.1v1.1h-1.1zM428.4 171.3h1.1v1.1h-1.1zM456.4 123.5h1.1v1.1h-1.1zM427.5 108.4h1.1v1.1h-1.1zM390.2 130.6h1.1v1.1h-1.1zM201.5 163.5h1.1v1.1h-1.1zM328.9 150.7h1.1v1.1h-1.1zM143.4 182.7h1.1v1.1h-1.1zM366.3 155.6h1.1v1.1h-1.1zM370.3 125.3h1.1v1.1h-1.1zM221.6 183.3h1.1v1.1h-1.1zM389.6 137h1.1v1.1h-1.1zM255.5 140.8h1.1v1.1h-1.1zM237.4 155.4h1.1v1.1h-1.1zM365.2 136.8h1.1v1.1h-1.1zM250.1 180.3h1.1v1.1h-1.1zM418.9 113.3h1.1v1.1h-1.1zM196.9 182.3h1.1v1.1h-1.1zM135.8 157.6h1.1v1.1h-1.1zM399.3 163.8h1.1v1.1h-1.1zM354.4 131.2h1.1v1.1h-1.1zM347.1 139.8h1.1v1.1h-1.1zM383.4 170.4h1.1v1.1h-1.1zM344.1 145.9h1.1v1.1h-1.1zM377.9 165h1.1v1.1h-1.1zM454.8 173.2h1.1v1.1h-1.1zM428.9 136.4h1.1v1.1h-1.1zM304.3 164.9h1.1v1.1h-1.1zM361.8 157.5h1.1v1.1h-1.1zM394.7 150.7h1.1v1.1h-1.1zM429.3 155h1.1v1.1h-1.1zM182.2 157.2h1.1v1.1h-1.1zM361.4 131.4h1.1v1.1h-1.1zM387 135.2h1.1v1.1h-1.1zM427.9 169.3h1.1v1.1h-1.1zM347.2 137.9h1.1v1.1h-1.1zM344 139.1h1.1v1.1h-1.1zM434.1 167.7h1.1v1.1h-1.1zM271 147.7h1.1v1.1h-1.1zM157 139.6h1.1v1.1h-1.1zM299.9 132h1.1v1.1h-1.1zM459.1 142h1.1v1.1h-1.1zM458.5 156.4h1.1v1.1h-1.1zM425.3 135.2h1.1v1.1h-1.1zM172.3 170.5h1.1v1.1h-1.1zM386.6 127.7h1.1v1.1h-1.1zM108.9 184.8h1.1v1.1h-1.1zM341.3 113.1h1.1v1.1h-1.1zM257.9 126.6h1.1v1.1h-1.1zM388.8 139.3h1.1v1.1h-1.1zM357.5 116.8h1.1v1.1h-1.1zM439.1 229.4h1.1v1.1h-1.1zM249.4 152.7h1.1v1.1h-1.1zM388.9 148h1.1v1.1h-1.1zM437.7 131.9h1.1v1.1h-1.1zM312.6 132.8h1.1v1.1h-1.1zM376.7 110.7h1.1v1.1h-1.1zM203.7 190.2h1.1v1.1h-1.1zM294.9 115.3h1.1v1.1h-1.1zM461.7 131.5h1.1v1.1h-1.1zM376.8 103.9h1.1v1.1h-1.1zM171.8 175.5h1.1v1.1h-1.1zM406.6 120.1h1.1v1.1h-1.1zM394.3 156.2h1.1v1.1h-1.1zM339.2 136.1h1.1v1.1h-1.1zM361.8 187.6h1.1v1.1h-1.1zM287.4 139h1.1v1.1h-1.1zM221 151.7h1.1v1.1h-1.1zM235.3 142.6h1.1v1.1h-1.1zM331.2 127h1.1v1.1h-1.1zM432.3 143.3h1.1v1.1h-1.1zM387.4 117h1.1v1.1h-1.1zM450.1 157.9h1.1v1.1h-1.1zM265.2 158.5h1.1v1.1h-1.1zM262.4 152.8h1.1v1.1h-1.1zM433.8 147.2h1.1v1.1h-1.1zM121.8 171h1.1v1.1h-1.1zM434 142.1h1.1v1.1h-1.1zM437 107.7h1.1v1.1h-1.1zM349.1 128.6h1.1v1.1h-1.1zM157 160.7h1.1v1.1h-1.1zM366.9 131.8h1.1v1.1h-1.1zM383.8 150.1h1.1v1.1h-1.1zM337.4 118.3h1.1v1.1h-1.1zM324.3 135.5h1.1v1.1h-1.1zM173.7 162.4h1.1v1.1h-1.1zM279.6 195.5h1.1v1.1h-1.1zM386.5 127.3h1.1v1.1h-1.1zM421.3 112.4h1.1v1.1h-1.1zM377.9 113.4h1.1v1.1h-1.1zM365.1 113.5h1.1v1.1h-1.1zM295.4 126.9h1.1v1.1h-1.1zM448.7 151.1h1.1v1.1h-1.1zM245.8 191.7h1.1v1.1h-1.1zM446.3 124.5h1.1v1.1h-1.1zM456.2 138.4h1.1v1.1h-1.1zM457.9 127.3h1.1v1.1h-1.1zM458.7 142h1.1v1.1h-1.1zM437.3 138.7h1.1v1.1h-1.1zM293.3 128.4h1.1v1.1h-1.1zM437.6 143.5h1.1v1.1h-1.1zM292.4 134.8h1.1v1.1h-1.1zM408.8 135.8h1.1v1.1h-1.1zM438.7 136.3h1.1v1.1h-1.1zM167.9 172.9h1.1v1.1h-1.1zM449.9 118.6h1.1v1.1h-1.1zM171.6 161.1h1.1v1.1h-1.1zM427 147.9h1.1v1.1h-1.1zM265.2 144h1.1v1.1h-1.1zM386.2 149.5h1.1v1.1h-1.1zM310.5 137.4h1.1v1.1h-1.1zM416.9 136.5h1.1v1.1h-1.1zM281.7 195.6h1.1v1.1h-1.1zM276.7 155.9h1.1v1.1h-1.1zM204.4 214h1.1v1.1h-1.1zM455.2 117.8h1.1v1.1h-1.1zM456.6 120.8h1.1v1.1h-1.1zM174.5 168h1.1v1.1h-1.1zM443 148.5h1.1v1.1h-1.1zM426.8 113.6h1.1v1.1h-1.1zM248.1 139.8h1.1v1.1h-1.1zM286.3 147.4h1.1v1.1h-1.1zM276.9 130.7h1.1v1.1h-1.1zM391.4 180.1h1.1v1.1h-1.1zM440.8 116.9h1.1v1.1h-1.1zM386.9 179.7h1.1v1.1h-1.1zM362.4 154.7h1.1v1.1h-1.1zM258.2 155.6h1.1v1.1h-1.1zM372.4 154.8h1.1v1.1h-1.1zM293.6 184.3h1.1v1.1h-1.1zM221.5 176.6h1.1v1.1h-1.1zM222.8 188h1.1v1.1h-1.1zM425.7 129.9h1.1v1.1h-1.1zM312.1 138.4h1.1v1.1h-1.1zM230.2 148.9h1.1v1.1h-1.1zM120.3 205.2h1.1v1.1h-1.1zM283.7 163.6h1.1v1.1h-1.1zM341.7 137.7h1.1v1.1h-1.1zM253 146.8h1.1v1.1h-1.1zM377.8 106.4h1.1v1.1h-1.1zM335.5 133.8h1.1v1.1h-1.1zM294 139.6h1.1v1.1h-1.1zM260.5 136.2h1.1v1.1h-1.1zM323.1 118.5h1.1v1.1h-1.1zM278 162.7h1.1v1.1h-1.1zM328.7 103.7h1.1v1.1h-1.1zM347.1 187.9h1.1v1.1h-1.1zM402.1 133h1.1v1.1h-1.1zM277.1 133.7h1.1v1.1h-1.1zM408.6 152.8h1.1v1.1h-1.1zM437.9 124.5h1.1v1.1h-1.1zM419.3 113.9h1.1v1.1h-1.1zM327.2 135.9h1.1v1.1h-1.1zM358.2 135.7h1.1v1.1h-1.1zM459.7 177.4h1.1v1.1h-1.1zM355.6 130.7h1.1v1.1h-1.1zM202.2 158.7h1.1v1.1h-1.1zM277.6 153.3h1.1v1.1h-1.1zM255.8 150.8h1.1v1.1h-1.1zM286.9 116.1h1.1v1.1h-1.1zM297.2 128.4h1.1v1.1h-1.1zM456 109.3h1.1v1.1h-1.1zM174.2 223.6h1.1v1.1h-1.1zM240.2 172.7h1.1v1.1h-1.1zM263.8 143.3h1.1v1.1h-1.1zM400.4 149.4h1.1v1.1h-1.1zM419.4 126.9h1.1v1.1h-1.1zM312.9 147.7h1.1v1.1h-1.1zM386.6 114.7h1.1v1.1h-1.1zM377.7 123h1.1v1.1h-1.1zM286 127.1h1.1v1.1h-1.1zM426.4 110h1.1v1.1h-1.1zM372.6 123.3h1.1v1.1h-1.1zM285.6 161.1h1.1v1.1h-1.1zM367.6 170h1.1v1.1h-1.1zM388.7 126.1h1.1v1.1h-1.1zM337.2 155.9h1.1v1.1h-1.1zM438.1 124.2h1.1v1.1h-1.1zM326 157.1h1.1v1.1h-1.1zM359.7 128.9h1.1v1.1h-1.1zM214.7 202.1h1.1v1.1h-1.1zM373 115.8h1.1v1.1h-1.1zM418.6 150.1h1.1v1.1h-1.1zM347.1 137.2h1.1v1.1h-1.1zM419 164.6h1.1v1.1h-1.1zM389.1 128.1h1.1v1.1h-1.1zM408.8 154.5h1.1v1.1h-1.1zM335.9 137h1.1v1.1h-1.1zM383.2 115.6h1.1v1.1h-1.1zM372.6 121.6h1.1v1.1h-1.1zM303.1 158.2h1.1v1.1h-1.1zM391 158h1.1v1.1h-1.1zM408.6 124.3h1.1v1.1h-1.1zM361.1 122.5h1.1v1.1h-1.1zM439.9 138h1.1v1.1h-1.1zM391.5 136.9h1.1v1.1h-1.1zM347.5 107.4h1.1v1.1h-1.1zM291.4 149.9h1.1v1.1h-1.1zM448.7 127.7h1.1v1.1h-1.1zM417 152.2h1.1v1.1h-1.1zM329.3 151.6h1.1v1.1h-1.1zM331.7 114.4h1.1v1.1h-1.1zM93.2 197.8h1.1v1.1h-1.1zM454 151.9h1.1v1.1h-1.1zM416.5 111.4h1.1v1.1h-1.1zM462.5 141.3h1.1v1.1h-1.1zM287.8 129.1h1.1v1.1h-1.1zM429.4 103.4h1.1v1.1h-1.1zM361 133.3h1.1v1.1h-1.1zM265.4 130.8h1.1v1.1h-1.1zM391.3 134.6h1.1v1.1h-1.1zM251.6 162.6h1.1v1.1h-1.1zM319.2 155.1h1.1v1.1h-1.1zM342.5 106h1.1v1.1h-1.1zM382.3 134.8h1.1v1.1h-1.1zM327.7 122.7h1.1v1.1h-1.1zM451.9 107.1h1.1v1.1h-1.1zM421.3 169.8h1.1v1.1h-1.1zM374.5 156.1h1.1v1.1h-1.1zM282.8 151.5h1.1v1.1h-1.1zM441.4 106.3h1.1v1.1h-1.1zM426.7 102h1.1v1.1h-1.1zM329.5 164.9h1.1v1.1h-1.1zM327.4 164h1.1v1.1h-1.1zM379 140.9h1.1v1.1h-1.1zM232.7 143h1.1v1.1h-1.1zM293.8 115.1h1.1v1.1h-1.1zM293.1 128.3h1.1v1.1h-1.1zM444.1 151.9h1.1v1.1h-1.1zM194.3 159.4h1.1v1.1h-1.1zM217.5 184.9h1.1v1.1h-1.1zM402.3 135.8h1.1v1.1h-1.1zM343.1 133.7h1.1v1.1h-1.1zM286.4 142.1h1.1v1.1h-1.1zM400.4 142.3h1.1v1.1h-1.1zM278.2 180.9h1.1v1.1h-1.1zM402.3 141.7h1.1v1.1h-1.1zM448.3 163.7h1.1v1.1h-1.1zM441.1 126.8h1.1v1.1h-1.1zM172.6 165.8h1.1v1.1h-1.1zM255.5 169.5h1.1v1.1h-1.1zM437.5 175.1h1.1v1.1h-1.1zM352.6 121.8h1.1v1.1h-1.1zM419.3 122.9h1.1v1.1h-1.1zM204.1 149h1.1v1.1h-1.1zM322.9 143.8h1.1v1.1h-1.1zM377.5 178.7h1.1v1.1h-1.1zM442.8 136.5h1.1v1.1h-1.1zM379.1 136.8h1.1v1.1h-1.1zM428.4 107.6h1.1v1.1h-1.1zM459.3 158.8h1.1v1.1h-1.1zM265.4 132.1h1.1v1.1h-1.1zM256.7 153.9h1.1v1.1h-1.1zM352.8 115h1.1v1.1h-1.1zM303.3 139.6h1.1v1.1h-1.1zM421.3 145.6h1.1v1.1h-1.1zM388.3 130.5h1.1v1.1h-1.1zM329.1 170.7h1.1v1.1h-1.1zM433.4 134h1.1v1.1h-1.1zM255.2 159.2h1.1v1.1h-1.1zM317.4 143.1h1.1v1.1h-1.1zM429.1 135.6h1.1v1.1h-1.1zM421.6 150.6h1.1v1.1h-1.1zM366.4 133.1h1.1v1.1h-1.1zM354.6 121.6h1.1v1.1h-1.1zM384.2 161h1.1v1.1h-1.1zM340.7 136.8h1.1v1.1h-1.1zM438.1 147.4h1.1v1.1h-1.1zM346.8 111.7h1.1v1.1h-1.1zM441.3 131.3h1.1v1.1h-1.1zM389.4 142.6h1.1v1.1h-1.1zM170.7 150.6h1.1v1.1h-1.1zM329.6 160.3h1.1v1.1h-1.1zM366.2 131.5h1.1v1.1h-1.1zM377.6 121.2h1.1v1.1h-1.1zM378.7 148.7h1.1v1.1h-1.1zM128.9 207.8h1.1v1.1h-1.1zM309.7 113.5h1.1v1.1h-1.1zM448 134.9h1.1v1.1h-1.1zM385 195.4h1.1v1.1h-1.1zM389.2 111.6h1.1v1.1h-1.1zM277.5 139h1.1v1.1h-1.1zM282.5 182h1.1v1.1h-1.1zM428.4 144.1h1.1v1.1h-1.1zM353 163.4h1.1v1.1h-1.1zM456.9 110.1h1.1v1.1h-1.1zM167.6 159.4h1.1v1.1h-1.1zM222.3 185.7h1.1v1.1h-1.1zM431.6 226.5h1.1v1.1h-1.1zM295.9 142.5h1.1v1.1h-1.1zM387.1 155.2h1.1v1.1h-1.1zM354.5 154.3h1.1v1.1h-1.1zM416.2 133.1h1.1v1.1h-1.1zM328.6 134.5h1.1v1.1h-1.1zM422.7 176.7h1.1v1.1h-1.1zM391.4 154.1h1.1v1.1h-1.1zM327.9 140.3h1.1v1.1h-1.1zM299.4 121.7h1.1v1.1h-1.1zM297.9 156.8h1.1v1.1h-1.1zM331.2 162.8h1.1v1.1h-1.1zM442.3 112.8h1.1v1.1h-1.1zM351.5 163.5h1.1v1.1h-1.1zM167.7 160.5h1.1v1.1h-1.1zM356.5 150.5h1.1v1.1h-1.1zM269.9 147h1.1v1.1h-1.1zM447.9 107.3h1.1v1.1h-1.1zM391.2 149h1.1v1.1h-1.1zM185 158.6h1.1v1.1h-1.1zM391.3 174.7h1.1v1.1h-1.1zM240 159.6h1.1v1.1h-1.1zM350.8 144.7h1.1v1.1h-1.1zM354.7 129.7h1.1v1.1h-1.1zM461.6 102.6h1.1v1.1h-1.1zM197.2 147h1.1v1.1h-1.1zM446.7 106.5h1.1v1.1h-1.1zM447.8 111.3h1.1v1.1h-1.1zM426.5 117.5h1.1v1.1h-1.1zM283 160.9h1.1v1.1h-1.1zM371.1 152.3h1.1v1.1h-1.1zM299.4 136.4h1.1v1.1h-1.1zM450.1 125.3h1.1v1.1h-1.1zM195.7 147.6h1.1v1.1h-1.1zM426.6 118.1h1.1v1.1h-1.1zM195.1 158.9h1.1v1.1h-1.1zM352.1 176.1h1.1v1.1h-1.1zM294.5 152.5h1.1v1.1h-1.1zM305.1 246.4h1.1v1.1h-1.1zM443.9 123.9h1.1v1.1h-1.1zM403.6 156.7h1.1v1.1h-1.1zM384.8 112.1h1.1v1.1h-1.1zM76.9 186.2h1.1v1.1h-1.1zM453.7 111.6h1.1v1.1h-1.1zM456.7 146.7h1.1v1.1h-1.1zM328 150.9h1.1v1.1h-1.1zM232.7 144.6h1.1v1.1h-1.1zM405.1 172.7h1.1v1.1h-1.1zM455.2 108h1.1v1.1h-1.1zM457.6 146.1h1.1v1.1h-1.1zM408 153.2h1.1v1.1h-1.1zM438 129.5h1.1v1.1h-1.1zM433.8 114.3h1.1v1.1h-1.1zM389.5 152h1.1v1.1h-1.1zM206.9 197.8h1.1v1.1h-1.1zM308.4 144.8h1.1v1.1h-1.1zM193.1 170.7h1.1v1.1h-1.1zM205.4 148.7h1.1v1.1h-1.1zM287.5 133.2h1.1v1.1h-1.1zM437.1 134.8h1.1v1.1h-1.1zM362.5 112.1h1.1v1.1h-1.1zM310.1 136.9h1.1v1.1h-1.1zM291.2 169.3h1.1v1.1h-1.1zM459.8 103.9h1.1v1.1h-1.1zM447.3 138.4h1.1v1.1h-1.1zM318 183.4h1.1v1.1h-1.1zM383.7 120.1h1.1v1.1h-1.1zM221.9 159.3h1.1v1.1h-1.1zM448 150.1h1.1v1.1h-1.1zM251.7 153.2h1.1v1.1h-1.1zM110.9 185.2h1.1v1.1h-1.1zM443.2 118h1.1v1.1h-1.1zM381.4 143h1.1v1.1h-1.1zM398.3 160.7h1.1v1.1h-1.1zM303.3 136.5h1.1v1.1h-1.1zM384.4 125.1h1.1v1.1h-1.1zM372.5 139h1.1v1.1h-1.1zM356.8 164.6h1.1v1.1h-1.1zM167.9 213.5h1.1v1.1h-1.1zM358 152h1.1v1.1h-1.1zM434.3 134.2h1.1v1.1h-1.1zM426.8 116.4h1.1v1.1h-1.1zM385.7 135.1h1.1v1.1h-1.1zM164.2 226.6h1.1v1.1h-1.1zM312.7 127.3h1.1v1.1h-1.1zM259.8 147.8h1.1v1.1h-1.1zM446.9 129.3h1.1v1.1h-1.1zM429.2 133.7h1.1v1.1h-1.1zM287.6 111.9h1.1v1.1h-1.1zM438.1 119.4h1.1v1.1h-1.1zM400.6 153.3h1.1v1.1h-1.1zM299.4 167.9h1.1v1.1h-1.1zM387.1 128.9h1.1v1.1h-1.1zM433.3 112.4h1.1v1.1h-1.1zM327.6 184.8h1.1v1.1h-1.1zM412.3 113.8h1.1v1.1h-1.1zM312.7 135.1h1.1v1.1h-1.1zM188.8 181.4h1.1v1.1h-1.1zM388.5 133.8h1.1v1.1h-1.1zM457.5 123.7h1.1v1.1h-1.1zM277.9 151.4h1.1v1.1h-1.1zM255.5 154.5h1.1v1.1h-1.1zM247.3 163.9h1.1v1.1h-1.1zM346.1 116.8h1.1v1.1h-1.1zM362.7 197.1h1.1v1.1h-1.1zM385.2 130.6h1.1v1.1h-1.1zM461.6 110.5h1.1v1.1h-1.1zM401.8 118.8h1.1v1.1h-1.1zM293.7 124.6h1.1v1.1h-1.1zM407.8 131.5h1.1v1.1h-1.1zM348 103.6h1.1v1.1h-1.1zM395.6 118.3h1.1v1.1h-1.1zM354 174.5h1.1v1.1h-1.1zM294.1 129.2h1.1v1.1h-1.1zM193.3 172.5h1.1v1.1h-1.1zM275.5 121.9h1.1v1.1h-1.1zM233.7 152.1h1.1v1.1h-1.1zM384.2 118.8h1.1v1.1h-1.1zM399.7 140.5h1.1v1.1h-1.1zM202.3 143.8h1.1v1.1h-1.1zM458.2 145.4h1.1v1.1h-1.1zM286.6 199.6h1.1v1.1h-1.1zM386.3 137.5h1.1v1.1h-1.1zM402.2 141.5h1.1v1.1h-1.1zM316.5 122h1.1v1.1h-1.1zM389.9 134.3h1.1v1.1h-1.1zM341.6 187.7h1.1v1.1h-1.1zM393.5 136.3h1.1v1.1h-1.1zM447 160.4h1.1v1.1h-1.1zM228.5 150h1.1v1.1h-1.1zM135.7 197.4h1.1v1.1h-1.1zM308.3 155.5h1.1v1.1h-1.1zM298 151.3h1.1v1.1h-1.1zM437.4 102h1.1v1.1h-1.1zM93.3 206h1.1v1.1h-1.1zM167.4 162.2h1.1v1.1h-1.1zM455.3 109.9h1.1v1.1h-1.1zM283.9 171.4h1.1v1.1h-1.1zM426.4 142.7h1.1v1.1h-1.1zM167.9 167.7h1.1v1.1h-1.1zM135.6 205.9h1.1v1.1h-1.1zM438.2 171.9h1.1v1.1h-1.1zM416.7 153.2h1.1v1.1h-1.1zM346.9 128.8h1.1v1.1h-1.1zM396.9 130.8h1.1v1.1h-1.1zM389.1 137.1h1.1v1.1h-1.1zM173.7 175.9h1.1v1.1h-1.1zM195.1 151.2h1.1v1.1h-1.1zM396.2 132.2h1.1v1.1h-1.1zM322.5 149.8h1.1v1.1h-1.1zM391.3 115.5h1.1v1.1h-1.1zM342.5 126.5h1.1v1.1h-1.1zM352.8 102h1.1v1.1h-1.1zM410.1 117h1.1v1.1h-1.1zM344 119h1.1v1.1h-1.1zM202.2 155.4h1.1v1.1h-1.1zM261.6 127h1.1v1.1h-1.1zM433.5 148.7h1.1v1.1h-1.1zM367.8 109h1.1v1.1h-1.1zM459.8 111.3h1.1v1.1h-1.1zM449.2 144h1.1v1.1h-1.1zM442.7 121.9h1.1v1.1h-1.1zM174.1 232.3h1.1v1.1h-1.1zM387.3 134.3h1.1v1.1h-1.1zM265.7 172.3h1.1v1.1h-1.1zM376.8 102h1.1v1.1h-1.1zM429.9 142.7h1.1v1.1h-1.1zM304.4 179.3h1.1v1.1h-1.1zM353.8 148.5h1.1v1.1h-1.1zM207.8 161.7h1.1v1.1h-1.1zM370.6 161h1.1v1.1h-1.1zM390.6 153.5h1.1v1.1h-1.1zM399.7 135.1h1.1v1.1h-1.1zM212.8 183.4h1.1v1.1h-1.1zM399.5 107.7h1.1v1.1h-1.1zM360.8 135.8h1.1v1.1h-1.1zM168 150.1h1.1v1.1h-1.1zM421.7 197.3h1.1v1.1h-1.1zM372.8 127.6h1.1v1.1h-1.1zM212.9 158.6h1.1v1.1h-1.1zM356.5 132.2h1.1v1.1h-1.1zM391.7 151.3h1.1v1.1h-1.1zM400.4 119.5h1.1v1.1h-1.1zM187.7 180.9h1.1v1.1h-1.1zM395 137.8h1.1v1.1h-1.1zM443.8 109.2h1.1v1.1h-1.1zM428.6 131.6h1.1v1.1h-1.1zM173.4 170.4h1.1v1.1h-1.1zM452.3 116.2h1.1v1.1h-1.1zM174.2 169.9h1.1v1.1h-1.1zM443.5 127.5h1.1v1.1h-1.1zM400.2 112.7h1.1v1.1h-1.1zM282.9 155.5h1.1v1.1h-1.1zM376.6 138.4h1.1v1.1h-1.1zM216.9 153h1.1v1.1h-1.1zM367.3 129.7h1.1v1.1h-1.1zM285.9 156.1h1.1v1.1h-1.1zM407.4 111.6h1.1v1.1h-1.1zM387.3 134.1h1.1v1.1h-1.1zM317.6 204.7h1.1v1.1h-1.1zM285.6 132.9h1.1v1.1h-1.1zM361.7 127.7h1.1v1.1h-1.1zM438.3 106.5h1.1v1.1h-1.1zM338.5 147.9h1.1v1.1h-1.1zM372.5 129.3h1.1v1.1h-1.1zM167.9 173.9h1.1v1.1h-1.1zM403.3 150.3h1.1v1.1h-1.1zM429.6 153.1h1.1v1.1h-1.1zM450.1 138.6h1.1v1.1h-1.1zM429.4 135.8h1.1v1.1h-1.1zM462.1 140h1.1v1.1h-1.1zM332.1 123.2h1.1v1.1h-1.1zM439.7 115.6h1.1v1.1h-1.1zM371.8 135.9h1.1v1.1h-1.1zM413.2 155.5h1.1v1.1h-1.1zM285.9 147.7h1.1v1.1h-1.1zM397.3 107.3h1.1v1.1h-1.1zM256.8 166.6h1.1v1.1h-1.1zM374.1 143.5h1.1v1.1h-1.1zM450 153.5h1.1v1.1h-1.1zM169 165.7h1.1v1.1h-1.1zM400.4 105.2h1.1v1.1h-1.1zM448.2 107.3h1.1v1.1h-1.1zM403.8 152.4h1.1v1.1h-1.1zM372.7 166.3h1.1v1.1h-1.1zM395.6 163.9h1.1v1.1h-1.1zM447 136.8h1.1v1.1h-1.1zM372.7 126.3h1.1v1.1h-1.1zM253 127.8h1.1v1.1h-1.1zM448.9 104.6h1.1v1.1h-1.1zM414.2 138.5h1.1v1.1h-1.1zM253.2 152.3h1.1v1.1h-1.1zM199.3 145.9h1.1v1.1h-1.1zM272.5 147.3h1.1v1.1h-1.1zM202.9 160.6h1.1v1.1h-1.1zM419.2 204.4h1.1v1.1h-1.1zM453.5 132.7h1.1v1.1h-1.1zM433.4 148.2h1.1v1.1h-1.1zM392.8 143.8h1.1v1.1h-1.1zM438.4 114.3h1.1v1.1h-1.1zM379.1 142.6h1.1v1.1h-1.1zM429.1 104.2h1.1v1.1h-1.1zM428.2 118.8h1.1v1.1h-1.1zM404 170h1.1v1.1h-1.1zM336.2 139.5h1.1v1.1h-1.1zM296.1 168h1.1v1.1h-1.1zM398.5 128.5h1.1v1.1h-1.1zM361.4 133.1h1.1v1.1h-1.1zM309.6 155.1h1.1v1.1h-1.1zM192.8 169.6h1.1v1.1h-1.1zM237.2 153h1.1v1.1h-1.1zM387.2 122.5h1.1v1.1h-1.1zM285.9 146.2h1.1v1.1h-1.1zM335.3 130.9h1.1v1.1h-1.1zM428.6 127.1h1.1v1.1h-1.1zM400.5 108.6h1.1v1.1h-1.1zM400.2 150h1.1v1.1h-1.1zM460.6 132.7h1.1v1.1h-1.1zM355.3 155.8h1.1v1.1h-1.1zM265.8 155.3h1.1v1.1h-1.1zM419.2 133.7h1.1v1.1h-1.1zM355.9 156.9h1.1v1.1h-1.1zM438.3 140.6h1.1v1.1h-1.1zM196.5 179.5h1.1v1.1h-1.1zM416.8 138.2h1.1v1.1h-1.1zM304.7 145.2h1.1v1.1h-1.1zM359.2 131.9h1.1v1.1h-1.1zM207.6 157.5h1.1v1.1h-1.1zM340.8 158.4h1.1v1.1h-1.1zM314.6 133h1.1v1.1h-1.1zM358.4 189.3h1.1v1.1h-1.1zM255.7 138h1.1v1.1h-1.1zM299.5 183.9h1.1v1.1h-1.1zM298.7 161.3h1.1v1.1h-1.1zM384.1 109.6h1.1v1.1h-1.1zM135.7 174h1.1v1.1h-1.1zM286.3 134.8h1.1v1.1h-1.1zM452.5 104.7h1.1v1.1h-1.1zM441.1 126.3h1.1v1.1h-1.1zM457.3 125.5h1.1v1.1h-1.1zM128.6 178.9h1.1v1.1h-1.1zM392.7 134.3h1.1v1.1h-1.1zM337.1 172.7h1.1v1.1h-1.1zM256.8 156.3h1.1v1.1h-1.1zM454.5 131.5h1.1v1.1h-1.1zM208.3 160.2h1.1v1.1h-1.1zM438.3 193.4h1.1v1.1h-1.1zM331.1 150.1h1.1v1.1h-1.1zM384.1 155.4h1.1v1.1h-1.1zM234.6 128.1h1.1v1.1h-1.1zM461.8 107.1h1.1v1.1h-1.1zM409 134.9h1.1v1.1h-1.1zM232.5 212.8h1.1v1.1h-1.1zM403.7 105.4h1.1v1.1h-1.1zM239.2 158.5h1.1v1.1h-1.1zM156.7 174.7h1.1v1.1h-1.1zM453.2 167h1.1v1.1h-1.1zM174 160.2h1.1v1.1h-1.1zM400.3 158.4h1.1v1.1h-1.1zM433.6 144.3h1.1v1.1h-1.1zM308.2 126.4h1.1v1.1h-1.1zM303.3 123h1.1v1.1h-1.1zM327.6 141.6h1.1v1.1h-1.1zM407.8 160h1.1v1.1h-1.1zM281.1 141.1h1.1v1.1h-1.1zM365 118h1.1v1.1h-1.1zM255.8 173.8h1.1v1.1h-1.1zM366 125.8h1.1v1.1h-1.1zM345.3 146.7h1.1v1.1h-1.1zM399.2 139.5h1.1v1.1h-1.1zM322.2 164.6h1.1v1.1h-1.1zM425.1 151.6h1.1v1.1h-1.1zM184 167.4h1.1v1.1h-1.1zM202.6 209.3h1.1v1.1h-1.1zM212.3 165h1.1v1.1h-1.1zM207.5 179.1h1.1v1.1h-1.1zM172.7 183.5h1.1v1.1h-1.1zM286 159.6h1.1v1.1h-1.1zM448 119.9h1.1v1.1h-1.1zM414.1 129.5h1.1v1.1h-1.1zM354.4 138.1h1.1v1.1h-1.1zM404.3 155.4h1.1v1.1h-1.1zM129.1 178.9h1.1v1.1h-1.1zM354.7 137.2h1.1v1.1h-1.1zM304.5 129.3h1.1v1.1h-1.1zM453.8 113.3h1.1v1.1h-1.1zM335.3 136.5h1.1v1.1h-1.1zM167.6 177.3h1.1v1.1h-1.1zM189.1 173.7h1.1v1.1h-1.1zM288.5 116.3h1.1v1.1h-1.1zM298 142.5h1.1v1.1h-1.1zM372.7 135.8h1.1v1.1h-1.1zM425.8 125.1h1.1v1.1h-1.1zM308.3 148.2h1.1v1.1h-1.1zM209.3 194.9h1.1v1.1h-1.1zM323 146.3h1.1v1.1h-1.1zM300 147.8h1.1v1.1h-1.1zM372 134.1h1.1v1.1h-1.1zM347.2 137.2h1.1v1.1h-1.1zM272.9 188.8h1.1v1.1h-1.1zM400.8 104.6h1.1v1.1h-1.1zM149.8 172.4h1.1v1.1h-1.1zM296 142.2h1.1v1.1h-1.1zM438.2 163.2h1.1v1.1h-1.1zM410.6 136h1.1v1.1h-1.1zM380.6 112.2h1.1v1.1h-1.1zM313.2 138.4h1.1v1.1h-1.1zM315.2 132.3h1.1v1.1h-1.1zM448.3 120.4h1.1v1.1h-1.1zM261.6 147.4h1.1v1.1h-1.1zM310.6 147.4h1.1v1.1h-1.1zM336.4 165.1h1.1v1.1h-1.1zM303.3 131.8h1.1v1.1h-1.1zM227.9 159.8h1.1v1.1h-1.1zM390 147.5h1.1v1.1h-1.1zM387.6 153.8h1.1v1.1h-1.1zM461.8 137.2h1.1v1.1h-1.1zM367.1 114.5h1.1v1.1h-1.1zM184.8 174.8h1.1v1.1h-1.1zM387 129.8h1.1v1.1h-1.1zM416.4 146.1h1.1v1.1h-1.1zM366.8 162.2h1.1v1.1h-1.1zM270.7 143.9h1.1v1.1h-1.1zM293.8 139.8h1.1v1.1h-1.1zM458.5 107.9h1.1v1.1h-1.1zM268.2 158.5h1.1v1.1h-1.1zM252.8 155.2h1.1v1.1h-1.1zM270.3 156.5h1.1v1.1h-1.1zM400.4 138.1h1.1v1.1h-1.1zM408.3 130.5h1.1v1.1h-1.1zM365.8 137.3h1.1v1.1h-1.1zM192.8 164.4h1.1v1.1h-1.1zM273.3 145.9h1.1v1.1h-1.1zM202.2 186.8h1.1v1.1h-1.1zM254 169.4h1.1v1.1h-1.1zM258.1 197.9h1.1v1.1h-1.1zM208 147.9h1.1v1.1h-1.1zM304.3 155.8h1.1v1.1h-1.1zM317.5 120h1.1v1.1h-1.1zM428.9 163.3h1.1v1.1h-1.1zM285.2 138.8h1.1v1.1h-1.1zM208.1 163.6h1.1v1.1h-1.1zM427.1 158.8h1.1v1.1h-1.1zM365.6 137.8h1.1v1.1h-1.1zM389.3 134.3h1.1v1.1h-1.1zM232.8 170.3h1.1v1.1h-1.1zM367.7 102h1.1v1.1h-1.1zM331.9 141.1h1.1v1.1h-1.1zM437.1 119.3h1.1v1.1h-1.1zM285.4 155.9h1.1v1.1h-1.1zM304.3 156.4h1.1v1.1h-1.1zM138.8 164h1.1v1.1h-1.1zM442.7 134.6h1.1v1.1h-1.1zM296.4 134.6h1.1v1.1h-1.1zM249.8 163.3h1.1v1.1h-1.1zM173.6 190.4h1.1v1.1h-1.1zM268.9 146h1.1v1.1h-1.1zM192.9 218h1.1v1.1h-1.1zM297.9 168.5h1.1v1.1h-1.1zM433.9 140.1h1.1v1.1h-1.1zM426.6 122.6h1.1v1.1h-1.1zM283.8 150.2h1.1v1.1h-1.1zM351.8 153.9h1.1v1.1h-1.1zM183.3 172.5h1.1v1.1h-1.1zM441.3 137h1.1v1.1h-1.1zM135.4 174.5h1.1v1.1h-1.1zM193.2 182.6h1.1v1.1h-1.1zM324.1 139.2h1.1v1.1h-1.1zM347 143.4h1.1v1.1h-1.1zM272.7 152.3h1.1v1.1h-1.1zM323 138h1.1v1.1h-1.1zM457.5 108.3h1.1v1.1h-1.1zM419.1 105.9h1.1v1.1h-1.1zM249.9 159.3h1.1v1.1h-1.1zM286.2 132.4h1.1v1.1h-1.1zM90.4 198.8h1.1v1.1h-1.1zM438 125.8h1.1v1.1h-1.1zM288.3 131.3h1.1v1.1h-1.1zM399.6 183.1h1.1v1.1h-1.1zM303.5 128.9h1.1v1.1h-1.1zM383.5 143.7h1.1v1.1h-1.1zM360.9 117h1.1v1.1h-1.1zM437.4 152.4h1.1v1.1h-1.1zM379.3 123.8h1.1v1.1h-1.1zM444.4 133.4h1.1v1.1h-1.1zM436.4 141h1.1v1.1h-1.1zM433.2 129.2h1.1v1.1h-1.1zM406.8 137h1.1v1.1h-1.1zM267.6 124.2h1.1v1.1h-1.1zM438.2 148.6h1.1v1.1h-1.1zM448.8 118h1.1v1.1h-1.1zM360.2 135h1.1v1.1h-1.1zM269.6 152.4h1.1v1.1h-1.1zM346.9 157.7h1.1v1.1h-1.1zM322.7 148.3h1.1v1.1h-1.1zM310.1 134.1h1.1v1.1h-1.1zM447.7 146.5h1.1v1.1h-1.1zM330.9 135.2h1.1v1.1h-1.1zM343 159.3h1.1v1.1h-1.1zM292.3 121.1h1.1v1.1h-1.1zM421.4 147.6h1.1v1.1h-1.1zM328.2 116h1.1v1.1h-1.1zM370.3 131.1h1.1v1.1h-1.1zM265.3 147.3h1.1v1.1h-1.1zM183.3 165.3h1.1v1.1h-1.1zM207 158.8h1.1v1.1h-1.1zM183.3 223.5h1.1v1.1h-1.1zM347.1 155.9h1.1v1.1h-1.1zM447.3 126.9h1.1v1.1h-1.1zM407.4 133h1.1v1.1h-1.1zM415.6 120.1h1.1v1.1h-1.1zM341.1 111.3h1.1v1.1h-1.1zM427.8 198.1h1.1v1.1h-1.1zM183.2 160.8h1.1v1.1h-1.1zM303.2 156.8h1.1v1.1h-1.1zM330.8 135.1h1.1v1.1h-1.1zM404.4 171.6h1.1v1.1h-1.1zM280.3 155.3h1.1v1.1h-1.1zM281.5 132h1.1v1.1h-1.1zM324.4 182.1h1.1v1.1h-1.1zM328.1 139.3h1.1v1.1h-1.1zM387.2 104.4h1.1v1.1h-1.1zM395 152h1.1v1.1h-1.1zM414.8 139.4h1.1v1.1h-1.1zM420.5 140.7h1.1v1.1h-1.1zM373.9 160.6h1.1v1.1h-1.1zM419.1 126.8h1.1v1.1h-1.1zM403.4 131.3h1.1v1.1h-1.1zM153.2 179.7h1.1v1.1h-1.1zM255.1 156.1h1.1v1.1h-1.1zM285.3 145.3h1.1v1.1h-1.1zM255.3 150.8h1.1v1.1h-1.1zM245.4 143.5h1.1v1.1h-1.1zM387.1 125.7h1.1v1.1h-1.1zM311.6 143.7h1.1v1.1h-1.1zM394.6 148.4h1.1v1.1h-1.1zM403.6 130.1h1.1v1.1h-1.1zM401.5 142.1h1.1v1.1h-1.1zM277.1 144.8h1.1v1.1h-1.1zM394.3 119.5h1.1v1.1h-1.1zM347 123.3h1.1v1.1h-1.1zM374 114.5h1.1v1.1h-1.1zM183.5 171h1.1v1.1h-1.1zM285.6 168.4h1.1v1.1h-1.1zM322.7 127.8h1.1v1.1h-1.1zM287 150.4h1.1v1.1h-1.1zM257.4 136.4h1.1v1.1h-1.1zM361.4 120.6h1.1v1.1h-1.1zM323.2 143h1.1v1.1h-1.1zM304.6 133.9h1.1v1.1h-1.1zM167.6 197.3h1.1v1.1h-1.1zM428.3 163.5h1.1v1.1h-1.1zM421.6 123h1.1v1.1h-1.1zM339.8 140.6h1.1v1.1h-1.1zM205.8 164.3h1.1v1.1h-1.1zM429 160.6h1.1v1.1h-1.1zM269.8 156.4h1.1v1.1h-1.1zM118.6 184.9h1.1v1.1h-1.1zM459.3 134.4h1.1v1.1h-1.1zM391.2 154.9h1.1v1.1h-1.1zM386.7 192.8h1.1v1.1h-1.1zM399.2 174.3h1.1v1.1h-1.1zM93.5 185.8h1.1v1.1h-1.1zM277.4 157.6h1.1v1.1h-1.1zM327.6 160.9h1.1v1.1h-1.1zM447.6 118.3h1.1v1.1h-1.1zM334.3 120.3h1.1v1.1h-1.1zM321 125.6h1.1v1.1h-1.1zM243 146h1.1v1.1h-1.1zM396 137.5h1.1v1.1h-1.1zM457.1 155.7h1.1v1.1h-1.1zM187.7 184.3h1.1v1.1h-1.1zM212.8 157.1h1.1v1.1h-1.1zM438.3 112.7h1.1v1.1h-1.1zM259.5 160.3h1.1v1.1h-1.1zM388.8 145.1h1.1v1.1h-1.1zM400.2 127.9h1.1v1.1h-1.1zM287.2 118.1h1.1v1.1h-1.1zM343.1 129.6h1.1v1.1h-1.1zM433.6 122.1h1.1v1.1h-1.1zM137.4 201.6h1.1v1.1h-1.1zM384.5 137.9h1.1v1.1h-1.1zM454.7 140.4h1.1v1.1h-1.1zM462.2 134.8h1.1v1.1h-1.1zM269.6 135.3h1.1v1.1h-1.1zM164.8 172.3h1.1v1.1h-1.1zM333.8 163.2h1.1v1.1h-1.1zM393.3 106.1h1.1v1.1h-1.1zM236.2 221.6h1.1v1.1h-1.1zM387 147h1.1v1.1h-1.1zM351.9 131.2h1.1v1.1h-1.1zM405.4 127.1h1.1v1.1h-1.1zM307.8 158h1.1v1.1h-1.1zM172 168.9h1.1v1.1h-1.1zM361.6 133.4h1.1v1.1h-1.1zM261.7 122.9h1.1v1.1h-1.1zM168.9 172h1.1v1.1h-1.1zM280.4 131h1.1v1.1h-1.1zM201.2 171.7h1.1v1.1h-1.1zM378.5 142.1h1.1v1.1h-1.1zM356.6 115.8h1.1v1.1h-1.1zM457.3 136h1.1v1.1h-1.1zM421.7 107.3h1.1v1.1h-1.1zM454.5 118.4h1.1v1.1h-1.1zM278.4 153.9h1.1v1.1h-1.1zM352.5 180.1h1.1v1.1h-1.1zM344.6 152.5h1.1v1.1h-1.1zM330.7 202.1h1.1v1.1h-1.1zM239.9 144h1.1v1.1h-1.1zM295.2 178.2h1.1v1.1h-1.1zM403.4 153.9h1.1v1.1h-1.1zM277.8 148h1.1v1.1h-1.1zM422 108.3h1.1v1.1h-1.1zM249.5 194h1.1v1.1h-1.1zM260.4 165.3h1.1v1.1h-1.1zM439.5 112.8h1.1v1.1h-1.1zM183 172.8h1.1v1.1h-1.1zM274.7 163.3h1.1v1.1h-1.1zM383.3 107.8h1.1v1.1h-1.1zM202.7 141.1h1.1v1.1h-1.1zM403.3 181.5h1.1v1.1h-1.1zM327.9 136.7h1.1v1.1h-1.1zM436 139.5h1.1v1.1h-1.1zM337.7 139.6h1.1v1.1h-1.1zM433.7 113.6h1.1v1.1h-1.1zM287.7 139.6h1.1v1.1h-1.1zM276.8 136.9h1.1v1.1h-1.1zM454.7 138h1.1v1.1h-1.1zM365 133.8h1.1v1.1h-1.1zM448 176.2h1.1v1.1h-1.1zM377.7 145h1.1v1.1h-1.1zM379.3 146.8h1.1v1.1h-1.1zM277.4 138.7h1.1v1.1h-1.1zM452 140.6h1.1v1.1h-1.1zM420.5 172.8h1.1v1.1h-1.1zM293.7 134h1.1v1.1h-1.1zM200 207.7h1.1v1.1h-1.1zM443.3 108.2h1.1v1.1h-1.1zM451.1 145.1h1.1v1.1h-1.1zM327.2 146.2h1.1v1.1h-1.1zM442.3 142.9h1.1v1.1h-1.1zM453.5 146.7h1.1v1.1h-1.1zM445.8 151h1.1v1.1h-1.1zM285.9 160.7h1.1v1.1h-1.1zM272 116.3h1.1v1.1h-1.1zM437.1 153.5h1.1v1.1h-1.1zM209.2 176.4h1.1v1.1h-1.1zM403.4 159.8h1.1v1.1h-1.1zM324.4 137.1h1.1v1.1h-1.1zM400.2 160.1h1.1v1.1h-1.1zM305.6 132.9h1.1v1.1h-1.1zM207 162.7h1.1v1.1h-1.1zM390.9 111.8h1.1v1.1h-1.1zM282.2 122.2h1.1v1.1h-1.1zM439.9 142h1.1v1.1h-1.1zM445 144.1h1.1v1.1h-1.1zM400.6 105.7h1.1v1.1h-1.1zM319.9 190h1.1v1.1h-1.1zM433.8 119.9h1.1v1.1h-1.1zM424.9 125.1h1.1v1.1h-1.1zM305.9 115.3h1.1v1.1h-1.1zM434.9 131.4h1.1v1.1h-1.1zM371.8 144.6h1.1v1.1h-1.1zM287.4 189.6h1.1v1.1h-1.1zM188 153h1.1v1.1h-1.1zM445.2 132.4h1.1v1.1h-1.1zM453.1 127.1h1.1v1.1h-1.1zM312.7 139.2h1.1v1.1h-1.1zM196.8 159.3h1.1v1.1h-1.1zM438.9 128.6h1.1v1.1h-1.1zM396.7 124h1.1v1.1h-1.1zM271.4 142.2h1.1v1.1h-1.1zM373.8 116.9h1.1v1.1h-1.1zM299.7 123.5h1.1v1.1h-1.1zM448.7 102h1.1v1.1h-1.1zM311 150.4h1.1v1.1h-1.1zM256.4 142.8h1.1v1.1h-1.1zM403.5 154.4h1.1v1.1h-1.1zM311.1 144.9h1.1v1.1h-1.1zM416.6 113.2h1.1v1.1h-1.1zM371.7 125.5h1.1v1.1h-1.1zM345.6 157.1h1.1v1.1h-1.1zM458.4 112.7h1.1v1.1h-1.1zM104.9 187.3h1.1v1.1h-1.1zM295.1 141.9h1.1v1.1h-1.1zM429.7 106.2h1.1v1.1h-1.1zM203.1 142.7h1.1v1.1h-1.1zM450.4 134h1.1v1.1h-1.1zM354.2 146.8h1.1v1.1h-1.1zM403.8 138.8h1.1v1.1h-1.1zM380 112.1h1.1v1.1h-1.1zM371 113.9h1.1v1.1h-1.1zM403.1 121.1h1.1v1.1h-1.1zM299.2 140.6h1.1v1.1h-1.1zM324.2 127.9h1.1v1.1h-1.1zM275 139.7h1.1v1.1h-1.1zM429.5 134.8h1.1v1.1h-1.1zM247.1 142.4h1.1v1.1h-1.1zM268.6 138.1h1.1v1.1h-1.1zM327.9 141.6h1.1v1.1h-1.1zM316.7 138.5h1.1v1.1h-1.1zM403 125.4h1.1v1.1h-1.1zM354.5 158.6h1.1v1.1h-1.1zM439.5 130.6h1.1v1.1h-1.1zM313.4 128.9h1.1v1.1h-1.1zM268.7 144.8h1.1v1.1h-1.1zM310.8 142.2h1.1v1.1h-1.1zM455.5 107.9h1.1v1.1h-1.1zM453.5 139.9h1.1v1.1h-1.1zM259.6 158.3h1.1v1.1h-1.1zM427.3 130.7h1.1v1.1h-1.1zM370.4 137h1.1v1.1h-1.1zM421.6 230.5h1.1v1.1h-1.1zM426.8 115.2h1.1v1.1h-1.1zM433 129.4h1.1v1.1h-1.1zM259.5 136h1.1v1.1h-1.1zM399.2 140.7h1.1v1.1h-1.1zM459.4 130h1.1v1.1h-1.1zM455 128.5h1.1v1.1h-1.1zM448.1 128.5h1.1v1.1h-1.1zM264.1 167.5h1.1v1.1h-1.1zM327.7 143.5h1.1v1.1h-1.1zM183.1 203.2h1.1v1.1h-1.1zM408.8 138.4h1.1v1.1h-1.1zM250.2 149.9h1.1v1.1h-1.1zM127.2 180.4h1.1v1.1h-1.1zM453 116.6h1.1v1.1h-1.1zM448.6 114.6h1.1v1.1h-1.1zM294.1 163.8h1.1v1.1h-1.1zM409.9 105h1.1v1.1h-1.1zM444 114.4h1.1v1.1h-1.1zM342.5 145h1.1v1.1h-1.1zM92.9 185.8h1.1v1.1h-1.1zM346.9 133h1.1v1.1h-1.1zM390.9 198h1.1v1.1h-1.1zM315.9 130.8h1.1v1.1h-1.1zM286.5 140.5h1.1v1.1h-1.1zM421.8 119.6h1.1v1.1h-1.1zM460 126.5h1.1v1.1h-1.1zM388.3 197.2h1.1v1.1h-1.1zM324.3 155.8h1.1v1.1h-1.1zM415.2 137.1h1.1v1.1h-1.1zM330.9 137h1.1v1.1h-1.1zM397.2 132.3h1.1v1.1h-1.1zM447.3 132.8h1.1v1.1h-1.1zM383.2 139h1.1v1.1h-1.1zM361.7 159.6h1.1v1.1h-1.1zM212.6 131.6h1.1v1.1h-1.1zM461.9 117.6h1.1v1.1h-1.1zM457.4 105.1h1.1v1.1h-1.1zM421.6 126.9h1.1v1.1h-1.1zM372.9 153.2h1.1v1.1h-1.1zM365 107.1h1.1v1.1h-1.1zM460 107.1h1.1v1.1h-1.1zM387 126.5h1.1v1.1h-1.1zM331.2 167.4h1.1v1.1h-1.1zM400.1 147.6h1.1v1.1h-1.1zM430.9 146.1h1.1v1.1h-1.1zM366.7 107.4h1.1v1.1h-1.1zM370.6 192.7h1.1v1.1h-1.1zM430 147h1.1v1.1h-1.1zM310.4 131.4h1.1v1.1h-1.1zM128.5 186.2h1.1v1.1h-1.1zM429.4 135.7h1.1v1.1h-1.1zM361.7 124h1.1v1.1h-1.1zM328.2 174h1.1v1.1h-1.1zM315.2 161.9h1.1v1.1h-1.1zM406.7 121.5h1.1v1.1h-1.1zM429.6 133.8h1.1v1.1h-1.1zM332.1 138.7h1.1v1.1h-1.1zM271.3 126.4h1.1v1.1h-1.1zM307.6 195.6h1.1v1.1h-1.1zM268.3 153.6h1.1v1.1h-1.1zM416.5 166.1h1.1v1.1h-1.1zM172.5 188.8h1.1v1.1h-1.1zM433.6 161.4h1.1v1.1h-1.1zM291.4 128h1.1v1.1h-1.1zM316.8 132h1.1v1.1h-1.1zM403.3 146h1.1v1.1h-1.1zM348.8 113.5h1.1v1.1h-1.1zM323.6 158.2h1.1v1.1h-1.1zM384.4 171.1h1.1v1.1h-1.1zM257.9 166.3h1.1v1.1h-1.1zM365 153.6h1.1v1.1h-1.1zM285.1 165.4h1.1v1.1h-1.1zM448.7 150.1h1.1v1.1h-1.1zM401.7 110.7h1.1v1.1h-1.1zM197.1 198h1.1v1.1h-1.1zM456.6 143h1.1v1.1h-1.1zM372 111.4h1.1v1.1h-1.1zM428.4 131.2h1.1v1.1h-1.1zM417.4 131.7h1.1v1.1h-1.1zM428.6 132.4h1.1v1.1h-1.1zM389 155.2h1.1v1.1h-1.1zM168.9 160.6h1.1v1.1h-1.1zM437 138.5h1.1v1.1h-1.1zM364 102.8h1.1v1.1h-1.1zM413.7 116.2h1.1v1.1h-1.1zM361.7 106.7h1.1v1.1h-1.1zM391.5 144.4h1.1v1.1h-1.1zM396.7 117.6h1.1v1.1h-1.1zM325.4 162h1.1v1.1h-1.1zM375 172.3h1.1v1.1h-1.1zM370.8 121.2h1.1v1.1h-1.1zM308.2 140h1.1v1.1h-1.1zM430.9 128h1.1v1.1h-1.1zM412.5 134.6h1.1v1.1h-1.1zM449.5 141.3h1.1v1.1h-1.1zM181.7 159.9h1.1v1.1h-1.1zM428 147.3h1.1v1.1h-1.1zM347.1 148.2h1.1v1.1h-1.1zM415.6 137.5h1.1v1.1h-1.1zM295.5 230.2h1.1v1.1h-1.1zM348.1 132.5h1.1v1.1h-1.1zM342.2 135.9h1.1v1.1h-1.1zM152.3 188.5h1.1v1.1h-1.1zM293.7 121.3h1.1v1.1h-1.1zM255.5 145.3h1.1v1.1h-1.1zM168.6 173.4h1.1v1.1h-1.1zM402.3 133h1.1v1.1h-1.1zM277.1 155.8h1.1v1.1h-1.1zM276.4 133h1.1v1.1h-1.1zM403 130.8h1.1v1.1h-1.1zM298.1 134.2h1.1v1.1h-1.1zM394.3 137.7h1.1v1.1h-1.1zM389.2 139.7h1.1v1.1h-1.1zM212.6 151.4h1.1v1.1h-1.1zM278.6 128.9h1.1v1.1h-1.1zM407.2 113.3h1.1v1.1h-1.1zM390 135.3h1.1v1.1h-1.1zM324.8 186.3h1.1v1.1h-1.1zM420.6 125.2h1.1v1.1h-1.1zM450.2 160.8h1.1v1.1h-1.1zM406.4 112.7h1.1v1.1h-1.1zM344.5 124h1.1v1.1h-1.1zM222.5 143.5h1.1v1.1h-1.1zM242.5 133.4h1.1v1.1h-1.1zM418.2 130.1h1.1v1.1h-1.1zM298.8 186.4h1.1v1.1h-1.1zM410.2 138.5h1.1v1.1h-1.1zM356.1 136.9h1.1v1.1h-1.1zM352.3 124.9h1.1v1.1h-1.1zM324.6 184.4h1.1v1.1h-1.1zM413.4 131.2h1.1v1.1h-1.1zM384.2 125.7h1.1v1.1h-1.1zM282.3 168.8h1.1v1.1h-1.1zM425.6 133h1.1v1.1h-1.1zM342 161.1h1.1v1.1h-1.1zM439.3 138.5h1.1v1.1h-1.1zM285.4 131.9h1.1v1.1h-1.1zM319.1 155.9h1.1v1.1h-1.1zM372.1 129.7h1.1v1.1h-1.1zM247.4 168.8h1.1v1.1h-1.1zM355.8 152.8h1.1v1.1h-1.1zM271 157.5h1.1v1.1h-1.1zM328.2 175.9h1.1v1.1h-1.1zM324.7 141.4h1.1v1.1h-1.1zM179.9 148h1.1v1.1h-1.1zM348.9 106.7h1.1v1.1h-1.1zM258.1 121.8h1.1v1.1h-1.1zM438.4 147.9h1.1v1.1h-1.1zM459 156.6h1.1v1.1h-1.1zM437.5 186.4h1.1v1.1h-1.1zM277.4 158h1.1v1.1h-1.1zM444.6 134.8h1.1v1.1h-1.1zM208 160.9h1.1v1.1h-1.1zM425.3 161.7h1.1v1.1h-1.1zM256.9 193.5h1.1v1.1h-1.1zM355.4 167.3h1.1v1.1h-1.1zM399.7 138.5h1.1v1.1h-1.1zM358.6 167.7h1.1v1.1h-1.1zM379.1 119.7h1.1v1.1h-1.1zM328 133.2h1.1v1.1h-1.1zM431.7 144.9h1.1v1.1h-1.1zM391.1 142.1h1.1v1.1h-1.1zM273.9 140.7h1.1v1.1h-1.1zM247.8 162.8h1.1v1.1h-1.1zM281.4 145.8h1.1v1.1h-1.1zM388.3 180.2h1.1v1.1h-1.1zM293.5 130h1.1v1.1h-1.1zM372.7 147.9h1.1v1.1h-1.1zM375.7 123.2h1.1v1.1h-1.1zM459.4 107.5h1.1v1.1h-1.1zM312.7 135.2h1.1v1.1h-1.1zM352 143h1.1v1.1h-1.1zM387 104.7h1.1v1.1h-1.1zM435.9 120.7h1.1v1.1h-1.1zM257.3 135.9h1.1v1.1h-1.1zM386.9 159.5h1.1v1.1h-1.1zM308.7 147h1.1v1.1h-1.1zM293.4 125.2h1.1v1.1h-1.1zM187.7 168.5h1.1v1.1h-1.1zM293.7 141.5h1.1v1.1h-1.1zM373.1 118.9h1.1v1.1h-1.1zM400.4 149h1.1v1.1h-1.1zM403.1 118.2h1.1v1.1h-1.1zM377.6 135.5h1.1v1.1h-1.1zM206.7 187.1h1.1v1.1h-1.1zM272.4 166.4h1.1v1.1h-1.1zM258.4 116.1h1.1v1.1h-1.1zM304.4 143.4h1.1v1.1h-1.1zM377.4 156.5h1.1v1.1h-1.1zM424.9 131.4h1.1v1.1h-1.1zM277.5 161.2h1.1v1.1h-1.1zM303.2 141.7h1.1v1.1h-1.1zM232.5 143.9h1.1v1.1h-1.1zM450 162.1h1.1v1.1h-1.1zM387.6 156.1h1.1v1.1h-1.1zM369 115.5h1.1v1.1h-1.1zM365.2 141.6h1.1v1.1h-1.1zM387.8 112.7h1.1v1.1h-1.1zM398.9 137.7h1.1v1.1h-1.1zM238.3 161.4h1.1v1.1h-1.1zM372.4 190.4h1.1v1.1h-1.1zM361.4 133.2h1.1v1.1h-1.1zM265.5 171.6h1.1v1.1h-1.1zM225.5 140.9h1.1v1.1h-1.1zM389.6 150.3h1.1v1.1h-1.1zM283.3 150.6h1.1v1.1h-1.1zM418.4 172.4h1.1v1.1h-1.1zM219.5 158.7h1.1v1.1h-1.1zM257.9 161.9h1.1v1.1h-1.1zM265.4 156.6h1.1v1.1h-1.1zM301.3 136.9h1.1v1.1h-1.1zM365.4 108.6h1.1v1.1h-1.1zM262.4 143.7h1.1v1.1h-1.1zM261.8 132.3h1.1v1.1h-1.1zM329.7 139.5h1.1v1.1h-1.1zM423.4 157.9h1.1v1.1h-1.1zM156.5 160h1.1v1.1h-1.1zM128.8 201.9h1.1v1.1h-1.1zM461.7 110.4h1.1v1.1h-1.1zM438.7 133.2h1.1v1.1h-1.1zM316.7 108.1h1.1v1.1h-1.1zM270.5 138.6h1.1v1.1h-1.1zM250.4 155.6h1.1v1.1h-1.1zM304.8 147.4h1.1v1.1h-1.1zM438 132.5h1.1v1.1h-1.1zM93 211.1h1.1v1.1h-1.1zM422.6 105.4h1.1v1.1h-1.1zM298.4 155.9h1.1v1.1h-1.1zM130.5 189.3h1.1v1.1h-1.1zM184.4 168.1h1.1v1.1h-1.1zM324 122h1.1v1.1h-1.1zM398.6 189.9h1.1v1.1h-1.1zM328 153.7h1.1v1.1h-1.1zM433.2 150.3h1.1v1.1h-1.1zM262.4 143.1h1.1v1.1h-1.1zM212.6 160.7h1.1v1.1h-1.1zM215.2 148.1h1.1v1.1h-1.1zM372.3 107.8h1.1v1.1h-1.1zM197.3 184.8h1.1v1.1h-1.1zM399.9 111.5h1.1v1.1h-1.1zM418.6 108.3h1.1v1.1h-1.1zM356.9 125h1.1v1.1h-1.1zM434.2 135.4h1.1v1.1h-1.1zM396.9 131.7h1.1v1.1h-1.1zM383.4 149.3h1.1v1.1h-1.1zM389.6 109.6h1.1v1.1h-1.1zM404.2 137.9h1.1v1.1h-1.1zM215.7 153.4h1.1v1.1h-1.1zM438 124.9h1.1v1.1h-1.1zM341 161.8h1.1v1.1h-1.1zM174.2 194.4h1.1v1.1h-1.1zM209.7 166.4h1.1v1.1h-1.1zM212.3 201.4h1.1v1.1h-1.1zM450.7 166.2h1.1v1.1h-1.1zM320.1 119h1.1v1.1h-1.1zM330.6 130.3h1.1v1.1h-1.1zM261.3 145.4h1.1v1.1h-1.1zM362.5 116.6h1.1v1.1h-1.1zM321.9 158.8h1.1v1.1h-1.1zM451.4 162.3h1.1v1.1h-1.1zM158.2 173.9h1.1v1.1h-1.1zM446.7 151.6h1.1v1.1h-1.1zM459.8 131.7h1.1v1.1h-1.1zM387.2 109.1h1.1v1.1h-1.1zM410.1 156.4h1.1v1.1h-1.1zM454 130.9h1.1v1.1h-1.1zM393.7 152.5h1.1v1.1h-1.1zM403.6 122h1.1v1.1h-1.1zM286 121.3h1.1v1.1h-1.1zM440.7 108.9h1.1v1.1h-1.1zM128.8 173.8h1.1v1.1h-1.1zM386.9 142.1h1.1v1.1h-1.1zM174.7 161.3h1.1v1.1h-1.1zM434.4 115.1h1.1v1.1h-1.1zM421.1 111.3h1.1v1.1h-1.1zM302.7 152.4h1.1v1.1h-1.1zM342.2 158.7h1.1v1.1h-1.1zM400.2 122.6h1.1v1.1h-1.1zM221.7 169.8h1.1v1.1h-1.1zM286 143.8h1.1v1.1h-1.1zM402.2 106.4h1.1v1.1h-1.1zM308.9 163.8h1.1v1.1h-1.1zM265.6 138.6h1.1v1.1h-1.1zM459.1 140.5h1.1v1.1h-1.1zM437.6 136h1.1v1.1h-1.1zM357.4 104h1.1v1.1h-1.1zM419 117.1h1.1v1.1h-1.1zM218.8 140.3h1.1v1.1h-1.1zM435.6 185.3h1.1v1.1h-1.1zM413.6 134.6h1.1v1.1h-1.1zM432.5 125.7h1.1v1.1h-1.1zM310.6 147.9h1.1v1.1h-1.1zM383.3 150.3h1.1v1.1h-1.1zM364.8 161.2h1.1v1.1h-1.1zM412.1 102.7h1.1v1.1h-1.1zM307.1 147.5h1.1v1.1h-1.1zM356 127.6h1.1v1.1h-1.1zM440 115.1h1.1v1.1h-1.1zM184.9 167.2h1.1v1.1h-1.1zM340.9 131.6h1.1v1.1h-1.1zM139.6 243.9h1.1v1.1h-1.1zM198.3 165.7h1.1v1.1h-1.1zM248.7 149.1h1.1v1.1h-1.1zM436.9 125.1h1.1v1.1h-1.1zM340.8 158.2h1.1v1.1h-1.1zM234.8 133.7h1.1v1.1h-1.1zM187.7 140.3h1.1v1.1h-1.1zM429.6 147.5h1.1v1.1h-1.1zM448 125.9h1.1v1.1h-1.1zM261.6 169.9h1.1v1.1h-1.1zM169.3 173.1h1.1v1.1h-1.1zM389.2 128.9h1.1v1.1h-1.1zM321.2 137.6h1.1v1.1h-1.1zM234.5 139.1h1.1v1.1h-1.1zM388 147.6h1.1v1.1h-1.1zM352.2 141.7h1.1v1.1h-1.1zM312.2 131.7h1.1v1.1h-1.1zM281.8 159.1h1.1v1.1h-1.1zM403.6 132.3h1.1v1.1h-1.1zM303 153.8h1.1v1.1h-1.1zM157 168.7h1.1v1.1h-1.1zM437.5 155.1h1.1v1.1h-1.1zM433.2 106.2h1.1v1.1h-1.1zM298.9 119.7h1.1v1.1h-1.1zM351.2 139h1.1v1.1h-1.1zM450.2 132.2h1.1v1.1h-1.1zM408.5 146.6h1.1v1.1h-1.1zM419.1 102h1.1v1.1h-1.1zM407.6 130.3h1.1v1.1h-1.1zM433.5 125.3h1.1v1.1h-1.1zM324.7 149.9h1.1v1.1h-1.1zM351.9 131.9h1.1v1.1h-1.1zM277.7 170h1.1v1.1h-1.1zM302.9 171.9h1.1v1.1h-1.1zM431.8 144h1.1v1.1h-1.1zM368.2 134h1.1v1.1h-1.1zM340.8 113.1h1.1v1.1h-1.1zM220.9 162.4h1.1v1.1h-1.1zM433.6 193.5h1.1v1.1h-1.1zM394.3 123.4h1.1v1.1h-1.1zM454.5 213.1h1.1v1.1h-1.1zM275.7 146.8h1.1v1.1h-1.1zM375.8 127.3h1.1v1.1h-1.1zM417.9 102h1.1v1.1h-1.1zM233.9 149.7h1.1v1.1h-1.1zM329 129.3h1.1v1.1h-1.1zM207.9 147.9h1.1v1.1h-1.1zM202.7 177.5h1.1v1.1h-1.1zM415.7 121.1h1.1v1.1h-1.1zM255.9 160.5h1.1v1.1h-1.1zM255.2 175.1h1.1v1.1h-1.1zM203.6 175.8h1.1v1.1h-1.1zM197.9 196.2h1.1v1.1h-1.1zM388.7 134.8h1.1v1.1h-1.1zM340.6 137.3h1.1v1.1h-1.1zM421.4 135.6h1.1v1.1h-1.1zM318.3 146.1h1.1v1.1h-1.1zM452.1 132.4h1.1v1.1h-1.1zM376.8 155.7h1.1v1.1h-1.1zM452.5 125.9h1.1v1.1h-1.1zM448.6 114.3h1.1v1.1h-1.1zM457.8 103.1h1.1v1.1h-1.1zM387.3 156.1h1.1v1.1h-1.1zM249.8 144.2h1.1v1.1h-1.1zM347.1 118.4h1.1v1.1h-1.1zM174.1 177.9h1.1v1.1h-1.1zM366.3 149.9h1.1v1.1h-1.1zM416.7 161.1h1.1v1.1h-1.1zM318.9 137.3h1.1v1.1h-1.1zM438.4 128.1h1.1v1.1h-1.1zM454.7 130.8h1.1v1.1h-1.1zM239.8 151.1h1.1v1.1h-1.1zM328.2 174.8h1.1v1.1h-1.1zM288.1 163.1h1.1v1.1h-1.1zM209 168h1.1v1.1h-1.1zM256.8 163.9h1.1v1.1h-1.1zM212.7 190.8h1.1v1.1h-1.1zM289.7 143.2h1.1v1.1h-1.1zM275.5 157.9h1.1v1.1h-1.1zM403.2 136.1h1.1v1.1h-1.1zM305.3 170.2h1.1v1.1h-1.1zM354.4 166.3h1.1v1.1h-1.1zM426.2 131h1.1v1.1h-1.1zM364.5 138.8h1.1v1.1h-1.1zM382.5 133.9h1.1v1.1h-1.1zM377.7 107.7h1.1v1.1h-1.1zM294.8 169.4h1.1v1.1h-1.1zM372.8 136.4h1.1v1.1h-1.1zM272.8 198.9h1.1v1.1h-1.1zM435.5 179.9h1.1v1.1h-1.1zM244.2 123.9h1.1v1.1h-1.1zM439.8 113.5h1.1v1.1h-1.1zM343.6 150.5h1.1v1.1h-1.1zM449.2 142.6h1.1v1.1h-1.1zM351.8 103.3h1.1v1.1h-1.1zM135.4 191.1h1.1v1.1h-1.1zM440.7 133.6h1.1v1.1h-1.1zM425.9 128h1.1v1.1h-1.1zM179.4 186.4h1.1v1.1h-1.1zM376.6 117.2h1.1v1.1h-1.1zM386.9 164.3h1.1v1.1h-1.1zM359.8 103.3h1.1v1.1h-1.1zM250 174.1h1.1v1.1h-1.1zM368.1 126.7h1.1v1.1h-1.1zM403.7 139.7h1.1v1.1h-1.1zM352.1 126.6h1.1v1.1h-1.1zM433.3 113.9h1.1v1.1h-1.1zM277.7 176.4h1.1v1.1h-1.1zM437.2 127.7h1.1v1.1h-1.1zM387.2 154h1.1v1.1h-1.1zM268.6 158.9h1.1v1.1h-1.1zM135.8 179.5h1.1v1.1h-1.1zM108.7 190.4h1.1v1.1h-1.1zM450.3 117.4h1.1v1.1h-1.1zM402.2 134h1.1v1.1h-1.1zM330.4 162.6h1.1v1.1h-1.1zM455.4 147.6h1.1v1.1h-1.1zM343.3 151.3h1.1v1.1h-1.1zM397.5 134.6h1.1v1.1h-1.1zM406.2 102h1.1v1.1h-1.1zM411.9 168.9h1.1v1.1h-1.1zM354.7 149.1h1.1v1.1h-1.1zM458.1 133.6h1.1v1.1h-1.1zM294.8 139.5h1.1v1.1h-1.1zM375.2 105.7h1.1v1.1h-1.1zM234.6 154.6h1.1v1.1h-1.1zM287.9 174.4h1.1v1.1h-1.1zM257.5 165.2h1.1v1.1h-1.1zM438.2 139.4h1.1v1.1h-1.1zM444.1 184.1h1.1v1.1h-1.1zM406.8 138.8h1.1v1.1h-1.1zM460.3 124.9h1.1v1.1h-1.1zM174.6 160.3h1.1v1.1h-1.1zM364.7 139.8h1.1v1.1h-1.1zM212.5 158.5h1.1v1.1h-1.1zM253.5 150.7h1.1v1.1h-1.1zM272.7 144.3h1.1v1.1h-1.1zM181.6 184.6h1.1v1.1h-1.1zM389.4 137.9h1.1v1.1h-1.1zM254.4 142.3h1.1v1.1h-1.1zM435.5 138.7h1.1v1.1h-1.1zM328.7 140.9h1.1v1.1h-1.1zM309.2 204.5h1.1v1.1h-1.1zM437.9 137.8h1.1v1.1h-1.1zM401.7 146.4h1.1v1.1h-1.1zM405.2 137.6h1.1v1.1h-1.1zM461.9 116.4h1.1v1.1h-1.1zM137.2 197h1.1v1.1h-1.1zM425.7 164.7h1.1v1.1h-1.1zM414.1 117.2h1.1v1.1h-1.1zM414.8 128.4h1.1v1.1h-1.1zM172.2 183.8h1.1v1.1h-1.1zM455.4 129.1h1.1v1.1h-1.1zM195.1 167.5h1.1v1.1h-1.1zM419.9 146.9h1.1v1.1h-1.1zM384.6 108.1h1.1v1.1h-1.1zM372.5 124.1h1.1v1.1h-1.1zM111.7 193.5h1.1v1.1h-1.1zM365.5 131.2h1.1v1.1h-1.1zM389.5 143.8h1.1v1.1h-1.1zM414.9 131.7h1.1v1.1h-1.1zM440.2 146.2h1.1v1.1h-1.1zM257.6 143.9h1.1v1.1h-1.1zM366.6 135.9h1.1v1.1h-1.1zM355.3 102h1.1v1.1h-1.1zM205.8 162.9h1.1v1.1h-1.1zM421.5 122.6h1.1v1.1h-1.1zM433.1 134.8h1.1v1.1h-1.1zM272.5 130.2h1.1v1.1h-1.1zM456.7 168.2h1.1v1.1h-1.1zM92.9 196.6h1.1v1.1h-1.1zM309.1 166h1.1v1.1h-1.1zM352.5 139.3h1.1v1.1h-1.1zM402.3 154.7h1.1v1.1h-1.1zM399.9 191.8h1.1v1.1h-1.1zM295.9 127.1h1.1v1.1h-1.1zM460.6 200.4h1.1v1.1h-1.1zM458.8 135.7h1.1v1.1h-1.1zM411.9 143.1h1.1v1.1h-1.1zM286.3 154.3h1.1v1.1h-1.1zM336 109.8h1.1v1.1h-1.1zM433.5 104.2h1.1v1.1h-1.1zM163.6 173.6h1.1v1.1h-1.1zM268 175h1.1v1.1h-1.1zM208.5 148.3h1.1v1.1h-1.1zM413 204.2h1.1v1.1h-1.1zM426.2 161h1.1v1.1h-1.1zM268.6 126.2h1.1v1.1h-1.1zM372 120.2h1.1v1.1h-1.1zM208 160.7h1.1v1.1h-1.1zM421.2 143.2h1.1v1.1h-1.1zM282.5 135.4h1.1v1.1h-1.1zM393.5 150h1.1v1.1h-1.1zM405.5 132.6h1.1v1.1h-1.1zM429.7 180.8h1.1v1.1h-1.1zM361.4 149.3h1.1v1.1h-1.1zM191.3 201.7h1.1v1.1h-1.1zM348.1 113.5h1.1v1.1h-1.1zM336 148.2h1.1v1.1h-1.1zM132.8 183.5h1.1v1.1h-1.1zM448.8 142.7h1.1v1.1h-1.1zM187.6 187.2h1.1v1.1h-1.1zM333.2 163.5h1.1v1.1h-1.1zM227.3 155.2h1.1v1.1h-1.1zM417.5 192h1.1v1.1h-1.1zM365.4 156.4h1.1v1.1h-1.1zM246.4 154.4h1.1v1.1h-1.1zM397.1 137.1h1.1v1.1h-1.1zM454.5 114.4h1.1v1.1h-1.1zM450.2 120h1.1v1.1h-1.1zM437.8 166.4h1.1v1.1h-1.1zM365 201.1h1.1v1.1h-1.1zM297 145.3h1.1v1.1h-1.1zM393.8 106.7h1.1v1.1h-1.1zM235.1 165.3h1.1v1.1h-1.1zM327.8 137.8h1.1v1.1h-1.1zM323.5 124.1h1.1v1.1h-1.1zM308.5 148.8h1.1v1.1h-1.1zM387.3 158.9h1.1v1.1h-1.1zM311.2 113.5h1.1v1.1h-1.1zM403.9 132.3h1.1v1.1h-1.1zM421.4 134.7h1.1v1.1h-1.1zM428 161h1.1v1.1h-1.1zM183 198.3h1.1v1.1h-1.1zM434.8 146.2h1.1v1.1h-1.1zM274.1 132.5h1.1v1.1h-1.1zM450.2 152.7h1.1v1.1h-1.1zM444.5 137.3h1.1v1.1h-1.1zM161 171.1h1.1v1.1h-1.1zM285.2 152h1.1v1.1h-1.1zM325.6 132h1.1v1.1h-1.1zM387.1 150h1.1v1.1h-1.1zM247.6 184.9h1.1v1.1h-1.1zM440 157h1.1v1.1h-1.1zM426.2 165h1.1v1.1h-1.1zM249.9 165.9h1.1v1.1h-1.1zM250.5 164.3h1.1v1.1h-1.1zM267.9 179.7h1.1v1.1h-1.1zM298.4 130.2h1.1v1.1h-1.1zM457.6 105.8h1.1v1.1h-1.1zM450.9 112.4h1.1v1.1h-1.1zM202.5 188.2h1.1v1.1h-1.1zM437.8 124h1.1v1.1h-1.1zM285.7 157.1h1.1v1.1h-1.1zM403.5 110.4h1.1v1.1h-1.1zM423.7 134h1.1v1.1h-1.1zM184.6 148.9h1.1v1.1h-1.1zM270.2 119.5h1.1v1.1h-1.1zM321.7 161h1.1v1.1h-1.1zM286.1 192.4h1.1v1.1h-1.1zM295.3 141.2h1.1v1.1h-1.1zM223.9 185.7h1.1v1.1h-1.1zM302.9 183.7h1.1v1.1h-1.1zM295.4 138.4h1.1v1.1h-1.1zM341.1 137.9h1.1v1.1h-1.1zM286.4 140.9h1.1v1.1h-1.1zM400.8 166h1.1v1.1h-1.1zM401.7 193.9h1.1v1.1h-1.1zM282.2 143.4h1.1v1.1h-1.1zM454 167.1h1.1v1.1h-1.1zM444.9 124.3h1.1v1.1h-1.1zM461 134.7h1.1v1.1h-1.1zM391.7 126.1h1.1v1.1h-1.1zM285.9 151.9h1.1v1.1h-1.1zM451.3 143.4h1.1v1.1h-1.1zM462.9 127.6h1.1v1.1h-1.1zM265.8 140.4h1.1v1.1h-1.1zM394.3 129.3h1.1v1.1h-1.1zM326 135.5h1.1v1.1h-1.1zM433.6 107.2h1.1v1.1h-1.1zM377.4 106.1h1.1v1.1h-1.1zM289.2 159.9h1.1v1.1h-1.1zM459.7 216.1h1.1v1.1h-1.1zM463 102h1.1v1.1h-1.1zM403.6 162.5h1.1v1.1h-1.1zM438.4 143.1h1.1v1.1h-1.1zM236.1 156.2h1.1v1.1h-1.1zM402.5 116.1h1.1v1.1h-1.1zM380.9 127.5h1.1v1.1h-1.1zM387.3 161.3h1.1v1.1h-1.1zM349.3 104.4h1.1v1.1h-1.1zM421.5 144.2h1.1v1.1h-1.1zM380.5 117.2h1.1v1.1h-1.1zM308.6 171.9h1.1v1.1h-1.1zM439 134h1.1v1.1h-1.1zM327.8 125h1.1v1.1h-1.1zM332.1 115.9h1.1v1.1h-1.1zM374.4 136.4h1.1v1.1h-1.1zM439.4 123.9h1.1v1.1h-1.1zM423.1 135.5h1.1v1.1h-1.1zM455.5 129.9h1.1v1.1h-1.1zM421.3 145.5h1.1v1.1h-1.1zM292 161.9h1.1v1.1h-1.1zM183.3 158.2h1.1v1.1h-1.1zM370.8 155.5h1.1v1.1h-1.1zM448.7 131.6h1.1v1.1h-1.1zM323.9 120h1.1v1.1h-1.1zM188 160.3h1.1v1.1h-1.1zM402.5 135.8h1.1v1.1h-1.1zM419.3 153.5h1.1v1.1h-1.1zM373.7 134.1h1.1v1.1h-1.1zM267.1 157.9h1.1v1.1h-1.1zM285.2 147.2h1.1v1.1h-1.1zM360.8 148.5h1.1v1.1h-1.1zM282.4 181.7h1.1v1.1h-1.1zM360.9 139h1.1v1.1h-1.1zM270.8 151.9h1.1v1.1h-1.1zM421.5 152.7h1.1v1.1h-1.1zM246.6 158.5h1.1v1.1h-1.1zM341.7 149.3h1.1v1.1h-1.1zM391.5 120.2h1.1v1.1h-1.1zM128.5 185.6h1.1v1.1h-1.1zM331.7 146.3h1.1v1.1h-1.1zM156.9 181.7h1.1v1.1h-1.1zM441.8 121.5h1.1v1.1h-1.1zM443.6 132.7h1.1v1.1h-1.1zM269 137.6h1.1v1.1h-1.1zM218.6 150.4h1.1v1.1h-1.1zM432.1 143.7h1.1v1.1h-1.1zM369.6 152.7h1.1v1.1h-1.1zM387 128.8h1.1v1.1h-1.1zM207.8 174.3h1.1v1.1h-1.1zM349.4 125.1h1.1v1.1h-1.1zM404.5 161h1.1v1.1h-1.1zM426.6 127.8h1.1v1.1h-1.1zM270.1 223.8h1.1v1.1h-1.1zM207.1 157.5h1.1v1.1h-1.1zM354.2 102h1.1v1.1h-1.1zM374.2 138.7h1.1v1.1h-1.1zM437.6 150.3h1.1v1.1h-1.1zM435.7 137.1h1.1v1.1h-1.1zM330.6 159.4h1.1v1.1h-1.1zM448.8 132h1.1v1.1h-1.1zM441.5 141.1h1.1v1.1h-1.1zM427.1 129h1.1v1.1h-1.1zM172.8 167.3h1.1v1.1h-1.1zM433.3 144.9h1.1v1.1h-1.1zM270.1 130.4h1.1v1.1h-1.1zM416.7 109h1.1v1.1h-1.1zM443.3 127.2h1.1v1.1h-1.1zM239.9 149.8h1.1v1.1h-1.1zM414.1 122.9h1.1v1.1h-1.1zM207.9 156.5h1.1v1.1h-1.1zM153.8 179.9h1.1v1.1h-1.1zM448.2 116.7h1.1v1.1h-1.1zM328 117.6h1.1v1.1h-1.1zM174 214.1h1.1v1.1h-1.1zM146.3 169.3h1.1v1.1h-1.1zM388.7 132h1.1v1.1h-1.1zM184.7 164.4h1.1v1.1h-1.1zM455.2 151.8h1.1v1.1h-1.1zM402.4 107.7h1.1v1.1h-1.1zM383.5 135.1h1.1v1.1h-1.1zM342.1 127h1.1v1.1h-1.1zM426.8 103h1.1v1.1h-1.1zM397.1 134.6h1.1v1.1h-1.1zM409.2 146h1.1v1.1h-1.1zM279 146.7h1.1v1.1h-1.1zM184.9 156.9h1.1v1.1h-1.1zM342.2 143.6h1.1v1.1h-1.1zM451.7 124.4h1.1v1.1h-1.1zM285.3 147.6h1.1v1.1h-1.1zM449.2 158.6h1.1v1.1h-1.1zM405.9 119.9h1.1v1.1h-1.1zM327.6 153.8h1.1v1.1h-1.1zM328.4 126.3h1.1v1.1h-1.1zM315.3 150.1h1.1v1.1h-1.1zM354.1 121.9h1.1v1.1h-1.1zM344.1 164.9h1.1v1.1h-1.1zM459.6 174.6h1.1v1.1h-1.1zM358.9 135.9h1.1v1.1h-1.1zM147.6 176.6h1.1v1.1h-1.1zM379 139.6h1.1v1.1h-1.1zM291.4 151.1h1.1v1.1h-1.1zM389.8 203.2h1.1v1.1h-1.1zM427.9 146h1.1v1.1h-1.1zM385.2 143.4h1.1v1.1h-1.1zM396.5 158.9h1.1v1.1h-1.1zM459.8 142.3h1.1v1.1h-1.1zM438.4 157.8h1.1v1.1h-1.1zM321.8 113.7h1.1v1.1h-1.1zM391.4 129.7h1.1v1.1h-1.1zM364.6 126h1.1v1.1h-1.1zM249.6 163.8h1.1v1.1h-1.1zM269.7 143h1.1v1.1h-1.1zM456.5 107h1.1v1.1h-1.1zM343.6 128.6h1.1v1.1h-1.1zM383.6 159.7h1.1v1.1h-1.1zM428.9 159.5h1.1v1.1h-1.1zM380.4 141.9h1.1v1.1h-1.1zM446 111h1.1v1.1h-1.1zM450.3 156.1h1.1v1.1h-1.1zM233.2 156.1h1.1v1.1h-1.1zM282.7 131.2h1.1v1.1h-1.1zM388.5 130.5h1.1v1.1h-1.1zM407.7 136.7h1.1v1.1h-1.1zM135.9 170.8h1.1v1.1h-1.1zM406.7 166.8h1.1v1.1h-1.1zM355 107.4h1.1v1.1h-1.1zM336 151.3h1.1v1.1h-1.1zM331.3 126.7h1.1v1.1h-1.1zM389.1 130.7h1.1v1.1h-1.1zM416.6 150.8h1.1v1.1h-1.1zM400.1 111.4h1.1v1.1h-1.1zM213.9 158.9h1.1v1.1h-1.1zM407 155.1h1.1v1.1h-1.1zM453.1 131.7h1.1v1.1h-1.1zM388.4 106.4h1.1v1.1h-1.1zM207.9 151.4h1.1v1.1h-1.1zM175.9 193.8h1.1v1.1h-1.1zM390 165.2h1.1v1.1h-1.1zM258.2 158.1h1.1v1.1h-1.1zM388.6 113h1.1v1.1h-1.1zM337.6 143.1h1.1v1.1h-1.1zM405.6 189.1h1.1v1.1h-1.1zM276.2 165h1.1v1.1h-1.1zM403.3 123.4h1.1v1.1h-1.1zM367.1 131.8h1.1v1.1h-1.1zM282.4 113.1h1.1v1.1h-1.1zM87.4 188.7h1.1v1.1h-1.1zM256.2 135.7h1.1v1.1h-1.1zM432.2 150.5h1.1v1.1h-1.1zM263.3 146.6h1.1v1.1h-1.1zM188.1 181.2h1.1v1.1h-1.1zM277.2 167.6h1.1v1.1h-1.1zM135.7 165.5h1.1v1.1h-1.1zM378.5 122.6h1.1v1.1h-1.1zM440.7 130.6h1.1v1.1h-1.1zM384.1 144.4h1.1v1.1h-1.1zM427.8 135.8h1.1v1.1h-1.1zM384.5 113.8h1.1v1.1h-1.1zM343.4 178.2h1.1v1.1h-1.1zM450.3 126.5h1.1v1.1h-1.1zM387.3 127.6h1.1v1.1h-1.1zM270.1 147.3h1.1v1.1h-1.1zM387 106.6h1.1v1.1h-1.1zM284 118.3h1.1v1.1h-1.1zM428.9 114.5h1.1v1.1h-1.1zM258.4 151.3h1.1v1.1h-1.1zM335.1 129h1.1v1.1h-1.1zM266.4 145.1h1.1v1.1h-1.1zM437.5 122.9h1.1v1.1h-1.1zM365.1 103.2h1.1v1.1h-1.1zM457.6 141h1.1v1.1h-1.1zM301.9 133.8h1.1v1.1h-1.1zM247.4 167h1.1v1.1h-1.1zM436.9 130.7h1.1v1.1h-1.1zM184.9 212.5h1.1v1.1h-1.1zM440.1 129.1h1.1v1.1h-1.1zM172.7 155.3h1.1v1.1h-1.1zM308.3 146.7h1.1v1.1h-1.1zM156.4 175.3h1.1v1.1h-1.1zM384.1 117.3h1.1v1.1h-1.1zM292.4 140.7h1.1v1.1h-1.1zM451.9 140.8h1.1v1.1h-1.1zM327.8 142.3h1.1v1.1h-1.1zM373 129.6h1.1v1.1h-1.1zM388.5 107.5h1.1v1.1h-1.1zM396.8 141.6h1.1v1.1h-1.1zM333.4 107.5h1.1v1.1h-1.1zM401.8 102h1.1v1.1h-1.1zM352.4 174.8h1.1v1.1h-1.1zM420.2 136.1h1.1v1.1h-1.1zM370 124.8h1.1v1.1h-1.1zM444.9 129.5h1.1v1.1h-1.1zM354.7 109h1.1v1.1h-1.1zM450.1 150.5h1.1v1.1h-1.1zM448.9 121.8h1.1v1.1h-1.1zM395.1 103.2h1.1v1.1h-1.1zM397.2 169.3h1.1v1.1h-1.1zM389 110.3h1.1v1.1h-1.1zM450.9 132.4h1.1v1.1h-1.1zM354.6 108.8h1.1v1.1h-1.1zM308.5 155.5h1.1v1.1h-1.1zM407.4 119.7h1.1v1.1h-1.1zM426.3 168.5h1.1v1.1h-1.1zM305.1 121.3h1.1v1.1h-1.1zM371.9 155.2h1.1v1.1h-1.1zM451.7 151.6h1.1v1.1h-1.1zM401.8 131h1.1v1.1h-1.1zM395.7 148h1.1v1.1h-1.1zM417.8 110.8h1.1v1.1h-1.1zM455.1 154.5h1.1v1.1h-1.1zM182.2 169.6h1.1v1.1h-1.1zM374.1 141h1.1v1.1h-1.1zM454.3 121.3h1.1v1.1h-1.1zM347.3 131.5h1.1v1.1h-1.1zM299.6 128.9h1.1v1.1h-1.1zM265.7 162.2h1.1v1.1h-1.1zM250.5 135.3h1.1v1.1h-1.1zM331.7 120.1h1.1v1.1h-1.1zM450 168.2h1.1v1.1h-1.1zM234.8 167.2h1.1v1.1h-1.1zM193.6 160.1h1.1v1.1h-1.1zM437.7 131.9h1.1v1.1h-1.1zM265.6 175.1h1.1v1.1h-1.1zM366.6 128.5h1.1v1.1h-1.1zM304.3 122.8h1.1v1.1h-1.1zM383.1 129.8h1.1v1.1h-1.1zM348 155.3h1.1v1.1h-1.1zM410.5 127.4h1.1v1.1h-1.1zM168.4 174.9h1.1v1.1h-1.1zM161.7 172.5h1.1v1.1h-1.1zM235.9 158.4h1.1v1.1h-1.1zM340.6 108h1.1v1.1h-1.1zM257.4 141.3h1.1v1.1h-1.1zM168.6 170.8h1.1v1.1h-1.1zM385 131.2h1.1v1.1h-1.1zM391.7 160.9h1.1v1.1h-1.1zM131 201.9h1.1v1.1h-1.1zM277.1 147.2h1.1v1.1h-1.1zM387.2 123.3h1.1v1.1h-1.1zM394.6 114.5h1.1v1.1h-1.1zM434 147.9h1.1v1.1h-1.1zM255.9 136.4h1.1v1.1h-1.1zM267.6 144.7h1.1v1.1h-1.1zM89.1 195.6h1.1v1.1h-1.1zM265.5 139.5h1.1v1.1h-1.1zM202.6 198.7h1.1v1.1h-1.1zM421.8 138.7h1.1v1.1h-1.1zM386.7 151.1h1.1v1.1h-1.1zM452.3 135.5h1.1v1.1h-1.1zM378.8 157h1.1v1.1h-1.1zM285.7 144h1.1v1.1h-1.1zM285 155.7h1.1v1.1h-1.1zM270.1 141h1.1v1.1h-1.1zM340.7 179h1.1v1.1h-1.1zM235.1 175.1h1.1v1.1h-1.1zM331.9 142.3h1.1v1.1h-1.1zM448.8 128.7h1.1v1.1h-1.1zM307.9 136.1h1.1v1.1h-1.1zM255.9 176.5h1.1v1.1h-1.1zM399.6 125.5h1.1v1.1h-1.1zM187.8 169.4h1.1v1.1h-1.1zM270.7 163.4h1.1v1.1h-1.1zM196.5 163.5h1.1v1.1h-1.1zM426 127.4h1.1v1.1h-1.1zM257.2 193.1h1.1v1.1h-1.1zM301.6 156.7h1.1v1.1h-1.1zM273.5 144.9h1.1v1.1h-1.1zM187.2 168.7h1.1v1.1h-1.1zM440 137.1h1.1v1.1h-1.1zM381.7 137.9h1.1v1.1h-1.1zM183.4 186.6h1.1v1.1h-1.1zM365.4 146.6h1.1v1.1h-1.1zM284.8 142.4h1.1v1.1h-1.1zM126.4 183.1h1.1v1.1h-1.1zM265.7 192.9h1.1v1.1h-1.1zM345.9 137.6h1.1v1.1h-1.1zM226.4 153.8h1.1v1.1h-1.1zM342.4 175.2h1.1v1.1h-1.1zM234.8 160.5h1.1v1.1h-1.1zM428.7 105.3h1.1v1.1h-1.1zM400.1 128.7h1.1v1.1h-1.1zM458.5 177.2h1.1v1.1h-1.1zM363.4 120.4h1.1v1.1h-1.1zM447 143.8h1.1v1.1h-1.1zM440.9 120.2h1.1v1.1h-1.1zM303.2 172.6h1.1v1.1h-1.1zM447 137.7h1.1v1.1h-1.1zM327.6 137h1.1v1.1h-1.1zM378.4 108.8h1.1v1.1h-1.1zM193.4 159.6h1.1v1.1h-1.1zM450.9 105.2h1.1v1.1h-1.1zM185.3 138.5h1.1v1.1h-1.1zM213 173.3h1.1v1.1h-1.1zM455.9 152.5h1.1v1.1h-1.1zM297.4 154.4h1.1v1.1h-1.1zM300.2 141.5h1.1v1.1h-1.1zM405.6 127.7h1.1v1.1h-1.1zM324.5 141.7h1.1v1.1h-1.1zM212.9 206.4h1.1v1.1h-1.1zM394.8 151.5h1.1v1.1h-1.1zM398.5 138.1h1.1v1.1h-1.1zM406.8 118.5h1.1v1.1h-1.1zM408.9 134.5h1.1v1.1h-1.1zM396.3 134.2h1.1v1.1h-1.1zM370.3 145.6h1.1v1.1h-1.1zM430 174.6h1.1v1.1h-1.1zM285.6 121.6h1.1v1.1h-1.1zM263.1 143.9h1.1v1.1h-1.1zM413.4 127.7h1.1v1.1h-1.1zM416.7 109h1.1v1.1h-1.1zM449 160.2h1.1v1.1h-1.1zM282.5 142.5h1.1v1.1h-1.1zM193.4 153.4h1.1v1.1h-1.1zM448.5 142.8h1.1v1.1h-1.1zM395.8 167.9h1.1v1.1h-1.1zM313.1 174.1h1.1v1.1h-1.1zM342.2 125.8h1.1v1.1h-1.1zM426.5 133.7h1.1v1.1h-1.1zM390.1 153.8h1.1v1.1h-1.1zM447 134.9h1.1v1.1h-1.1zM439.2 130.1h1.1v1.1h-1.1zM402.9 133.9h1.1v1.1h-1.1zM255.8 156.3h1.1v1.1h-1.1zM396.6 152.4h1.1v1.1h-1.1zM391.5 129h1.1v1.1h-1.1zM374.1 150.5h1.1v1.1h-1.1zM406.7 134.7h1.1v1.1h-1.1zM434 102h1.1v1.1h-1.1zM174.4 168.5h1.1v1.1h-1.1zM350 103.7h1.1v1.1h-1.1zM342.2 168.4h1.1v1.1h-1.1zM268.5 154.2h1.1v1.1h-1.1zM423.3 122.8h1.1v1.1h-1.1zM407.9 145.5h1.1v1.1h-1.1zM420.9 147.8h1.1v1.1h-1.1zM172.5 159.6h1.1v1.1h-1.1zM285.7 141.1h1.1v1.1h-1.1zM323.5 139.9h1.1v1.1h-1.1zM332.4 156.4h1.1v1.1h-1.1zM432.4 152.8h1.1v1.1h-1.1zM335.2 155.6h1.1v1.1h-1.1zM309.6 130.5h1.1v1.1h-1.1zM288.8 151.8h1.1v1.1h-1.1zM263.8 147.5h1.1v1.1h-1.1zM338.1 122.1h1.1v1.1h-1.1zM240.3 140.6h1.1v1.1h-1.1zM431.1 113.8h1.1v1.1h-1.1zM458.8 128h1.1v1.1h-1.1zM390.7 118.5h1.1v1.1h-1.1zM172 175.2h1.1v1.1h-1.1zM124.7 192.2h1.1v1.1h-1.1zM155.8 177.1h1.1v1.1h-1.1zM129.8 185.4h1.1v1.1h-1.1zM129.1 187.7h1.1v1.1h-1.1zM121.3 207.5h1.1v1.1h-1.1zM102.7 183.6h1.1v1.1h-1.1zM195.4 232.6h1.1v1.1h-1.1zM181.5 225.8h1.1v1.1h-1.1zM97.9 185.5h1.1v1.1h-1.1zM67.8 199.5h1.1v1.1h-1.1zM176.7 176.1h1.1v1.1h-1.1zM134 202.2h1.1v1.1h-1.1zM159.3 246.4h1.1v1.1h-1.1zM131.8 189.6h1.1v1.1h-1.1zM182.4 206.8h1.1v1.1h-1.1zM189 169.9h1.1v1.1h-1.1zM126 197.5h1.1v1.1h-1.1zM185.3 172.3h1.1v1.1h-1.1zM184.7 224.1h1.1v1.1h-1.1zM137.3 174.7h1.1v1.1h-1.1zM201.6 164.2h1.1v1.1h-1.1zM65.8 244.3h1.1v1.1h-1.1zM130 200.8h1.1v1.1h-1.1zM137.1 222.3h1.1v1.1h-1.1zM82.4 215.8h1.1v1.1h-1.1zM72.9 206.9h1.1v1.1h-1.1zM149.4 227.9h1.1v1.1h-1.1zM61.5 207.2h1.1v1.1h-1.1zM197.7 162.6h1.1v1.1h-1.1zM209.3 169.3h1.1v1.1h-1.1zM75.3 198.9h1.1v1.1h-1.1zM82.8 249.6h1.1v1.1h-1.1zM185 175h1.1v1.1h-1.1zM188.3 180.5h1.1v1.1h-1.1zM150.5 180.1h1.1v1.1h-1.1zM144.5 179.4h1.1v1.1h-1.1zM177 178.5h1.1v1.1h-1.1zM108.4 219.3h1.1v1.1h-1.1zM169.5 216.7h1.1v1.1h-1.1zM89.6 193.3h1.1v1.1h-1.1zM124.9 179.2h1.1v1.1h-1.1zM193.4 229.4h1.1v1.1h-1.1zM117.4 217.7h1.1v1.1h-1.1zM139.4 174.8h1.1v1.1h-1.1zM117.2 193.2h1.1v1.1h-1.1zM110.1 185.5h1.1v1.1h-1.1zM61.9 233.4h1.1v1.1h-1.1zM171.2 202.7h1.1v1.1h-1.1zM197.4 192.2h1.1v1.1h-1.1zM188.5 178.7h1.1v1.1h-1.1zM117.3 190.3h1.1v1.1h-1.1zM95.1 202.2h1.1v1.1h-1.1zM145.7 181.4h1.1v1.1h-1.1zM178.7 220.8h1.1v1.1h-1.1zM137.9 182.8h1.1v1.1h-1.1zM72.3 198.4h1.1v1.1h-1.1zM124.8 201.5h1.1v1.1h-1.1zM155.2 187h1.1v1.1h-1.1zM198.1 214h1.1v1.1h-1.1zM106.3 200.5h1.1v1.1h-1.1zM157.8 195.4h1.1v1.1h-1.1zM110.2 183.4h1.1v1.1h-1.1zM129.7 196.9h1.1v1.1h-1.1zM197.1 172.3h1.1v1.1h-1.1zM136.9 184.8h1.1v1.1h-1.1zM107.3 197.9h1.1v1.1h-1.1zM71.1 200.2h1.1v1.1h-1.1zM76.7 208.9h1.1v1.1h-1.1zM121 178.9h1.1v1.1h-1.1zM57.7 214.5h1.1v1.1h-1.1zM111.4 180.8h1.1v1.1h-1.1zM68.3 195.1h1.1v1.1h-1.1zM93.8 181.8h1.1v1.1h-1.1zM138.8 176h1.1v1.1h-1.1zM99.7 205.9h1.1v1.1h-1.1zM85.8 209.5h1.1v1.1h-1.1zM104 186.9h1.1v1.1h-1.1zM96.2 194.1h1.1v1.1h-1.1zM94.9 200.7h1.1v1.1h-1.1zM60.1 194.6h1.1v1.1h-1.1zM132.3 175.4h1.1v1.1h-1.1zM70.8 196.9h1.1v1.1h-1.1zM125 164.3h1.1v1.1h-1.1zM90.8 185.7h1.1v1.1h-1.1zM77.4 191.2h1.1v1.1h-1.1zM76.4 194.1h1.1v1.1h-1.1zM83.1 191.6h1.1v1.1h-1.1zM63.3 183.3h1.1v1.1h-1.1zM125.3 184.7h1.1v1.1h-1.1zM136.2 173.4h1.1v1.1h-1.1zM90.6 196.7h1.1v1.1h-1.1zM91.1 197.8h1.1v1.1h-1.1zM91.1 190.9h1.1v1.1h-1.1zM118.8 198.9h1.1v1.1h-1.1zM142.1 161h1.1v1.1h-1.1zM148.7 174.1h1.1v1.1h-1.1zM128.8 180.4h1.1v1.1h-1.1zM130.7 191.9h1.1v1.1h-1.1zM82.9 192.5h1.1v1.1h-1.1zM88.3 197.6h1.1v1.1h-1.1zM92.9 193.4h1.1v1.1h-1.1zM128.7 197.9h1.1v1.1h-1.1zM141.1 173.4h1.1v1.1h-1.1zM103.6 178h1.1v1.1h-1.1zM76.9 192.2h1.1v1.1h-1.1zM93.7 194.9h1.1v1.1h-1.1zM139.4 189.5h1.1v1.1h-1.1zM121.4 160.8h1.1v1.1h-1.1zM72.5 186.2h1.1v1.1h-1.1zM124.6 193.4h1.1v1.1h-1.1zM61.1 200h1.1v1.1h-1.1z" fill="#008080"/>
<path d="M394.4 101h1.1v1.1h-1.1zM408.3 158.3h1.1v1.1h-1.1zM402 111.7h1.1v1.1h-1.1zM250.7 145.2h1.1v1.1h-1.1zM160.3 202.6h1.1v1.1h-1.1zM211.9 227.6h1.1v1.1h-1.1zM310.1 126.4h1.1v1.1h-1.1zM157.8 175.3h1.1v1.1h-1.1zM342.2 131.8h1.1v1.1h-1.1zM430.5 121.3h1.1v1.1h-1.1zM315 122.6h1.1v1.1h-1.1zM429.1 124.9h1.1v1.1h-1.1zM302.7 170.8h1.1v1.1h-1.1zM376.5 135.2h1.1v1.1h-1.1zM432 168.7h1.1v1.1h-1.1zM261.7 145.4h1.1v1.1h-1.1zM422.3 147.7h1.1v1.1h-1.1zM424.6 148.5h1.1v1.1h-1.1zM419.2 121.5h1.1v1.1h-1.1zM306.3 129.8h1.1v1.1h-1.1zM431.4 109.5h1.1v1.1h-1.1zM356.1 99.1h1.1v1.1h-1.1zM304.8 140.9h1.1v1.1h-1.1zM278.9 121.7h1.1v1.1h-1.1zM376.6 127.2h1.1v1.1h-1.1zM368.8 109.4h1.1v1.1h-1.1zM126.8 187.3h1.1v1.1h-1.1zM388.2 105.5h1.1v1.1h-1.1zM412.5 145.6h1.1v1.1h-1.1zM365.7 134.3h1.1v1.1h-1.1zM390 118.9h1.1v1.1h-1.1zM406.8 122.4h1.1v1.1h-1.1zM339.5 116.1h1.1v1.1h-1.1zM384.4 118.3h1.1v1.1h-1.1zM347.1 116h1.1v1.1h-1.1zM411.8 145.2h1.1v1.1h-1.1zM168.7 183.1h1.1v1.1h-1.1zM184.4 193.3h1.1v1.1h-1.1zM402 108.7h1.1v1.1h-1.1zM414.6 136.1h1.1v1.1h-1.1zM397.1 113.3h1.1v1.1h-1.1zM319.1 103.3h1.1v1.1h-1.1zM375.9 118.8h1.1v1.1h-1.1zM324.6 171.9h1.1v1.1h-1.1zM400.4 118.9h1.1v1.1h-1.1zM278.8 122.6h1.1v1.1h-1.1zM190.9 155.7h1.1v1.1h-1.1zM383.4 160.2h1.1v1.1h-1.1zM418.1 100.1h1.1v1.1h-1.1zM402.1 209.2h1.1v1.1h-1.1zM431.4 118.9h1.1v1.1h-1.1zM359.3 105.6h1.1v1.1h-1.1zM252.2 152.7h1.1v1.1h-1.1zM178.5 185.9h1.1v1.1h-1.1zM421.9 156.8h1.1v1.1h-1.1zM297.1 117.2h1.1v1.1h-1.1zM406.1 98.5h1.1v1.1h-1.1zM422.2 116.8h1.1v1.1h-1.1zM338.9 138h1.1v1.1h-1.1zM408.8 126.3h1.1v1.1h-1.1zM389.3 117.7h1.1v1.1h-1.1zM397.9 162.2h1.1v1.1h-1.1zM224.5 135.5h1.1v1.1h-1.1zM277.2 135.1h1.1v1.1h-1.1zM417.4 109.3h1.1v1.1h-1.1zM315.5 109.1h1.1v1.1h-1.1zM351.4 131.7h1.1v1.1h-1.1zM435.2 99.6h1.1v1.1h-1.1zM308.9 128.5h1.1v1.1h-1.1zM176.3 167.1h1.1v1.1h-1.1zM340.2 113.1h1.1v1.1h-1.1zM240 118.3h1.1v1.1h-1.1zM242 133.1h1.1v1.1h-1.1zM297.6 113.1h1.1v1.1h-1.1zM304.9 135.7h1.1v1.1h-1.1zM225.8 149.6h1.1v1.1h-1.1zM127.1 231.3h1.1v1.1h-1.1zM95 197.3h1.1v1.1h-1.1zM425.1 124.6h1.1v1.1h-1.1zM362.7 112.1h1.1v1.1h-1.1zM350.4 120.3h1.1v1.1h-1.1zM105.3 210.9h1.1v1.1h-1.1zM252.6 141.6h1.1v1.1h-1.1zM424.8 152.6h1.1v1.1h-1.1zM289.2 147.7h1.1v1.1h-1.1zM290.5 132.7h1.1v1.1h-1.1zM198.5 172.9h1.1v1.1h-1.1zM373.1 120.3h1.1v1.1h-1.1zM269.7 133.5h1.1v1.1h-1.1zM376.3 116.6h1.1v1.1h-1.1zM175.2 182h1.1v1.1h-1.1zM214.4 129.2h1.1v1.1h-1.1zM221 128.5h1.1v1.1h-1.1zM303 125.1h1.1v1.1h-1.1zM347.3 107h1.1v1.1h-1.1zM430.8 113.5h1.1v1.1h-1.1zM344.4 107.8h1.1v1.1h-1.1zM324 117.3h1.1v1.1h-1.1zM275.9 137h1.1v1.1h-1.1zM275.2 117.9h1.1v1.1h-1.1zM431.4 139.9h1.1v1.1h-1.1zM275.2 151.1h1.1v1.1h-1.1zM164.1 194h1.1v1.1h-1.1zM432.8 119.2h1.1v1.1h-1.1zM430.2 122.9h1.1v1.1h-1.1zM381.3 110.4h1.1v1.1h-1.1zM184.3 162.9h1.1v1.1h-1.1zM273.3 130.6h1.1v1.1h-1.1zM263.3 134.5h1.1v1.1h-1.1zM224.4 153.8h1.1v1.1h-1.1zM144.5 176.7h1.1v1.1h-1.1zM118.2 193.4h1.1v1.1h-1.1zM307.5 145.3h1.1v1.1h-1.1zM322.9 121.1h1.1v1.1h-1.1zM255.3 135.8h1.1v1.1h-1.1zM324.6 122.9h1.1v1.1h-1.1zM428.9 103.3h1.1v1.1h-1.1zM127.2 189.8h1.1v1.1h-1.1zM425.5 114.6h1.1v1.1h-1.1zM263 122.1h1.1v1.1h-1.1zM337.7 114.2h1.1v1.1h-1.1zM361.6 126.9h1.1v1.1h-1.1zM207 146.9h1.1v1.1h-1.1zM411.4 130.7h1.1v1.1h-1.1zM219.8 144.8h1.1v1.1h-1.1zM310.5 139.3h1.1v1.1h-1.1zM339.6 122.5h1.1v1.1h-1.1zM408.1 109.5h1.1v1.1h-1.1zM171 179.1h1.1v1.1h-1.1zM288.8 134.3h1.1v1.1h-1.1zM361.1 185.5h1.1v1.1h-1.1zM250.5 129.1h1.1v1.1h-1.1zM262.2 143h1.1v1.1h-1.1zM285 127.4h1.1v1.1h-1.1zM339.5 104.2h1.1v1.1h-1.1zM331.4 114h1.1v1.1h-1.1zM436.9 123.6h1.1v1.1h-1.1zM287.3 135.2h1.1v1.1h-1.1zM412.8 121.1h1.1v1.1h-1.1zM427.6 99.3h1.1v1.1h-1.1zM403.9 99.3h1.1v1.1h-1.1zM303.2 157h1.1v1.1h-1.1zM409.7 129.7h1.1v1.1h-1.1zM310.9 126.4h1.1v1.1h-1.1zM353.5 99.7h1.1v1.1h-1.1zM398.1 156.4h1.1v1.1h-1.1zM387.4 126.7h1.1v1.1h-1.1zM297.7 177h1.1v1.1h-1.1zM408.7 109.9h1.1v1.1h-1.1zM361.4 247.8h1.1v1.1h-1.1zM242.7 129.3h1.1v1.1h-1.1zM171.2 171.6h1.1v1.1h-1.1zM413.6 151.6h1.1v1.1h-1.1zM283.8 114.9h1.1v1.1h-1.1zM346.3 98.5h1.1v1.1h-1.1zM338.7 142.9h1.1v1.1h-1.1zM334.9 112.7h1.1v1.1h-1.1zM252.1 153.9h1.1v1.1h-1.1zM373.7 115.9h1.1v1.1h-1.1zM417.6 129.4h1.1v1.1h-1.1zM406.3 111.6h1.1v1.1h-1.1zM122.2 191.3h1.1v1.1h-1.1zM212.5 142.1h1.1v1.1h-1.1zM406.7 117.1h1.1v1.1h-1.1zM363 105h1.1v1.1h-1.1zM372.5 98.5h1.1v1.1h-1.1zM268 142.9h1.1v1.1h-1.1zM326 124.4h1.1v1.1h-1.1zM327 110.4h1.1v1.1h-1.1zM214 123.1h1.1v1.1h-1.1zM297.9 102.6h1.1v1.1h-1.1zM380.7 107.8h1.1v1.1h-1.1zM346.8 125.3h1.1v1.1h-1.1zM261.4 130.4h1.1v1.1h-1.1zM241.7 114.2h1.1v1.1h-1.1zM326.4 111.2h1.1v1.1h-1.1zM377 123.9h1.1v1.1h-1.1zM262 126.6h1.1v1.1h-1.1zM338.2 146.4h1.1v1.1h-1.1zM154 187.1h1.1v1.1h-1.1zM438.4 98.5h1.1v1.1h-1.1zM233.6 150h1.1v1.1h-1.1zM390.2 123.4h1.1v1.1h-1.1zM122.2 206.9h1.1v1.1h-1.1zM403.9 123.7h1.1v1.1h-1.1zM364.5 124.4h1.1v1.1h-1.1zM220.2 143.3h1.1v1.1h-1.1zM243 163.6h1.1v1.1h-1.1zM189.1 160.5h1.1v1.1h-1.1zM413 164.1h1.1v1.1h-1.1zM433 122.4h1.1v1.1h-1.1zM424.6 207.6h1.1v1.1h-1.1zM424.2 120.2h1.1v1.1h-1.1zM374.9 131h1.1v1.1h-1.1zM362 121.2h1.1v1.1h-1.1zM422.8 110.5h1.1v1.1h-1.1zM400.9 159.1h1.1v1.1h-1.1zM334.8 110.2h1.1v1.1h-1.1zM330 130.2h1.1v1.1h-1.1zM396.9 111h1.1v1.1h-1.1zM238.7 156.8h1.1v1.1h-1.1zM388 107.9h1.1v1.1h-1.1zM298.7 141.9h1.1v1.1h-1.1zM371.6 123.1h1.1v1.1h-1.1zM184.3 197.6h1.1v1.1h-1.1zM253.4 128.8h1.1v1.1h-1.1zM233.2 132.7h1.1v1.1h-1.1zM340.3 139.9h1.1v1.1h-1.1zM250.5 121.9h1.1v1.1h-1.1zM352.2 126h1.1v1.1h-1.1zM412.9 118.7h1.1v1.1h-1.1zM392.2 110.7h1.1v1.1h-1.1zM434.1 107.8h1.1v1.1h-1.1zM378.8 165.4h1.1v1.1h-1.1zM401.8 122h1.1v1.1h-1.1zM356.4 134h1.1v1.1h-1.1zM372.3 118.7h1.1v1.1h-1.1zM178.4 165.4h1.1v1.1h-1.1zM208.5 184.7h1.1v1.1h-1.1zM284.3 131.9h1.1v1.1h-1.1zM178.4 186.2h1.1v1.1h-1.1zM388.8 107.9h1.1v1.1h-1.1zM421.9 117h1.1v1.1h-1.1zM423.7 103.8h1.1v1.1h-1.1zM376.7 134.1h1.1v1.1h-1.1zM303.5 121h1.1v1.1h-1.1zM429.4 132.8h1.1v1.1h-1.1zM436.6 116.9h1.1v1.1h-1.1zM367.3 109.5h1.1v1.1h-1.1zM98.8 205.5h1.1v1.1h-1.1zM438.6 125.9h1.1v1.1h-1.1zM376.5 124.1h1.1v1.1h-1.1zM312.1 131.7h1.1v1.1h-1.1zM190.1 157.8h1.1v1.1h-1.1zM190.4 159.3h1.1v1.1h-1.1zM270.9 125.4h1.1v1.1h-1.1zM101.2 196.6h1.1v1.1h-1.1zM383.5 109.4h1.1v1.1h-1.1zM313.2 109.3h1.1v1.1h-1.1zM170.9 159.4h1.1v1.1h-1.1zM362.4 114.1h1.1v1.1h-1.1zM338.8 161.5h1.1v1.1h-1.1zM317.4 139.9h1.1v1.1h-1.1zM325.9 123.4h1.1v1.1h-1.1zM127.3 191.3h1.1v1.1h-1.1zM397.2 148.1h1.1v1.1h-1.1zM417.5 119.9h1.1v1.1h-1.1zM249.3 126.1h1.1v1.1h-1.1zM251.5 158.1h1.1v1.1h-1.1zM327.5 132.2h1.1v1.1h-1.1zM161.3 180.9h1.1v1.1h-1.1zM404.2 115.2h1.1v1.1h-1.1zM338.1 122.9h1.1v1.1h-1.1zM408.6 137h1.1v1.1h-1.1zM406.2 102.2h1.1v1.1h-1.1zM370.2 128.1h1.1v1.1h-1.1zM385.6 125.2h1.1v1.1h-1.1zM438.2 164.5h1.1v1.1h-1.1zM356 115h1.1v1.1h-1.1zM259.8 119.3h1.1v1.1h-1.1zM330.3 124.3h1.1v1.1h-1.1zM226.9 132.1h1.1v1.1h-1.1zM371.3 135.7h1.1v1.1h-1.1zM426 125.1h1.1v1.1h-1.1zM362.4 123.7h1.1v1.1h-1.1zM285.8 151.5h1.1v1.1h-1.1zM357.3 156.6h1.1v1.1h-1.1zM362.2 163.1h1.1v1.1h-1.1zM137.2 183.4h1.1v1.1h-1.1zM387.9 128.6h1.1v1.1h-1.1zM309.9 106.5h1.1v1.1h-1.1zM273.3 122.4h1.1v1.1h-1.1zM185.4 177.2h1.1v1.1h-1.1zM399.1 126.9h1.1v1.1h-1.1zM391.8 115.7h1.1v1.1h-1.1zM243.7 151.7h1.1v1.1h-1.1zM308.3 127h1.1v1.1h-1.1zM388.3 113.6h1.1v1.1h-1.1zM429.4 141h1.1v1.1h-1.1zM429.6 112.9h1.1v1.1h-1.1zM316.9 134.3h1.1v1.1h-1.1zM400.7 115.6h1.1v1.1h-1.1zM398.1 113.8h1.1v1.1h-1.1zM386.8 123.5h1.1v1.1h-1.1zM202.5 146.9h1.1v1.1h-1.1zM331 181h1.1v1.1h-1.1zM354.3 124.2h1.1v1.1h-1.1zM172.3 204.9h1.1v1.1h-1.1zM362.9 105.3h1.1v1.1h-1.1zM401.5 101h1.1v1.1h-1.1zM356.5 134.6h1.1v1.1h-1.1zM429.2 107h1.1v1.1h-1.1zM261.8 163.5h1.1v1.1h-1.1zM411.6 145.3h1.1v1.1h-1.1zM388.2 114.1h1.1v1.1h-1.1zM392.4 130.6h1.1v1.1h-1.1zM323.7 122.1h1.1v1.1h-1.1zM358.1 106.7h1.1v1.1h-1.1zM405.9 106.6h1.1v1.1h-1.1zM387.4 98.5h1.1v1.1h-1.1zM296.6 123.8h1.1v1.1h-1.1zM279.6 135.5h1.1v1.1h-1.1zM230.1 127.4h1.1v1.1h-1.1zM263.4 175.6h1.1v1.1h-1.1zM265.7 148h1.1v1.1h-1.1zM294.9 121.1h1.1v1.1h-1.1zM272 134.5h1.1v1.1h-1.1zM127.1 187.7h1.1v1.1h-1.1zM355.5 152.2h1.1v1.1h-1.1zM356.4 150h1.1v1.1h-1.1zM281.8 165.2h1.1v1.1h-1.1zM380.5 168.5h1.1v1.1h-1.1zM317 121h1.1v1.1h-1.1zM322.9 140.2h1.1v1.1h-1.1zM301.8 139.4h1.1v1.1h-1.1zM169.7 181.3h1.1v1.1h-1.1zM352.3 193.3h1.1v1.1h-1.1zM376.9 127.3h1.1v1.1h-1.1zM436 121.2h1.1v1.1h-1.1zM189.8 202.1h1.1v1.1h-1.1zM139.2 204.4h1.1v1.1h-1.1zM308.8 111.6h1.1v1.1h-1.1zM374.5 101.1h1.1v1.1h-1.1zM422.7 120.3h1.1v1.1h-1.1zM309.6 242.8h1.1v1.1h-1.1zM342.4 121.9h1.1v1.1h-1.1zM117.2 190.6h1.1v1.1h-1.1zM253.1 190h1.1v1.1h-1.1zM421.9 119.5h1.1v1.1h-1.1zM271.1 151.5h1.1v1.1h-1.1zM363.3 107.6h1.1v1.1h-1.1zM325.6 111.5h1.1v1.1h-1.1zM151.1 177.2h1.1v1.1h-1.1zM290.2 141.4h1.1v1.1h-1.1zM300.5 155.3h1.1v1.1h-1.1zM315.5 159.3h1.1v1.1h-1.1zM420.1 115.7h1.1v1.1h-1.1zM361.3 107h1.1v1.1h-1.1zM273.3 130.8h1.1v1.1h-1.1zM317.2 167.9h1.1v1.1h-1.1zM347.3 178.1h1.1v1.1h-1.1zM390.3 114.5h1.1v1.1h-1.1zM436.6 125.5h1.1v1.1h-1.1zM343.2 174.4h1.1v1.1h-1.1zM317.1 127.9h1.1v1.1h-1.1zM415 119.3h1.1v1.1h-1.1zM301.6 158.8h1.1v1.1h-1.1zM432.2 125.1h1.1v1.1h-1.1zM189.9 154.7h1.1v1.1h-1.1zM274.2 130.4h1.1v1.1h-1.1zM390.1 109.1h1.1v1.1h-1.1zM188.4 175.1h1.1v1.1h-1.1zM221.6 134.3h1.1v1.1h-1.1zM176.6 204.4h1.1v1.1h-1.1zM417.3 113.4h1.1v1.1h-1.1zM309.3 175h1.1v1.1h-1.1zM258.2 127.5h1.1v1.1h-1.1zM412.3 115.8h1.1v1.1h-1.1zM377.3 146.1h1.1v1.1h-1.1zM256.6 131.9h1.1v1.1h-1.1zM239.5 141.2h1.1v1.1h-1.1zM385.5 122.1h1.1v1.1h-1.1zM433.6 121.5h1.1v1.1h-1.1zM244 148.9h1.1v1.1h-1.1zM96.3 197.7h1.1v1.1h-1.1zM425.1 116.1h1.1v1.1h-1.1zM306.9 136.4h1.1v1.1h-1.1zM214.6 171.5h1.1v1.1h-1.1zM231.3 132.3h1.1v1.1h-1.1zM404.2 123.7h1.1v1.1h-1.1zM234.6 109.9h1.1v1.1h-1.1zM402.7 113.6h1.1v1.1h-1.1zM178.1 171.9h1.1v1.1h-1.1zM312.8 124.5h1.1v1.1h-1.1zM254.2 119.4h1.1v1.1h-1.1zM271.1 144.2h1.1v1.1h-1.1zM350.4 136.2h1.1v1.1h-1.1zM373.1 109.6h1.1v1.1h-1.1zM424 128.7h1.1v1.1h-1.1zM392.2 143.1h1.1v1.1h-1.1zM261.9 143.4h1.1v1.1h-1.1zM249.4 122.3h1.1v1.1h-1.1zM399.5 103.9h1.1v1.1h-1.1zM419.5 103.6h1.1v1.1h-1.1zM317.1 99.9h1.1v1.1h-1.1zM261.2 132.2h1.1v1.1h-1.1zM339.2 124h1.1v1.1h-1.1zM366.8 112.3h1.1v1.1h-1.1zM246.9 154.2h1.1v1.1h-1.1zM350.6 117.6h1.1v1.1h-1.1zM333 110.2h1.1v1.1h-1.1zM194.3 152.9h1.1v1.1h-1.1zM134.8 221.5h1.1v1.1h-1.1zM331.6 132.8h1.1v1.1h-1.1zM338.4 114h1.1v1.1h-1.1zM302.9 169.8h1.1v1.1h-1.1zM182.3 164h1.1v1.1h-1.1zM411.4 159.2h1.1v1.1h-1.1zM384.1 125.4h1.1v1.1h-1.1zM437 129.9h1.1v1.1h-1.1zM438.3 176.6h1.1v1.1h-1.1zM423.6 184.7h1.1v1.1h-1.1zM403.4 130.7h1.1v1.1h-1.1zM170.5 182.2h1.1v1.1h-1.1zM422.4 108.1h1.1v1.1h-1.1zM255.2 129.6h1.1v1.1h-1.1zM408.6 132.2h1.1v1.1h-1.1zM389.3 124.3h1.1v1.1h-1.1zM407.5 98.5h1.1v1.1h-1.1zM301.7 188.4h1.1v1.1h-1.1zM312.4 128.5h1.1v1.1h-1.1zM406.7 123.7h1.1v1.1h-1.1zM387.9 124.1h1.1v1.1h-1.1zM368.2 105.1h1.1v1.1h-1.1zM327.1 134.8h1.1v1.1h-1.1zM231.8 124.2h1.1v1.1h-1.1zM411.8 102.1h1.1v1.1h-1.1zM283.2 105.7h1.1v1.1h-1.1zM253.1 119.8h1.1v1.1h-1.1zM438.4 135.7h1.1v1.1h-1.1zM350.6 154.8h1.1v1.1h-1.1zM306.6 119.5h1.1v1.1h-1.1zM402.3 138.2h1.1v1.1h-1.1zM364 124.8h1.1v1.1h-1.1zM331.4 99.9h1.1v1.1h-1.1zM315 156.7h1.1v1.1h-1.1zM310.4 192.5h1.1v1.1h-1.1zM363.2 147.4h1.1v1.1h-1.1zM283.8 153.3h1.1v1.1h-1.1zM416.2 149.1h1.1v1.1h-1.1zM359.2 100.1h1.1v1.1h-1.1zM425.8 129.8h1.1v1.1h-1.1zM384.5 124.1h1.1v1.1h-1.1zM136.5 201.8h1.1v1.1h-1.1zM331.4 113.7h1.1v1.1h-1.1zM431.3 105.9h1.1v1.1h-1.1zM365.6 110.4h1.1v1.1h-1.1zM310.9 104.5h1.1v1.1h-1.1zM435.6 119.5h1.1v1.1h-1.1zM321.5 106.9h1.1v1.1h-1.1zM136.9 193.5h1.1v1.1h-1.1zM271 133.3h1.1v1.1h-1.1zM263.2 130.8h1.1v1.1h-1.1zM193.9 155h1.1v1.1h-1.1zM165.8 185.8h1.1v1.1h-1.1zM409.8 101.4h1.1v1.1h-1.1zM162.2 184.3h1.1v1.1h-1.1zM180.4 194h1.1v1.1h-1.1zM176.3 173h1.1v1.1h-1.1zM367.7 122.9h1.1v1.1h-1.1zM321.8 122.9h1.1v1.1h-1.1zM405.9 127.3h1.1v1.1h-1.1zM394.9 132.1h1.1v1.1h-1.1zM326.6 115.4h1.1v1.1h-1.1zM127.4 189.1h1.1v1.1h-1.1zM387.9 126.2h1.1v1.1h-1.1zM285.8 102.8h1.1v1.1h-1.1zM256.9 125.1h1.1v1.1h-1.1zM413.8 114.9h1.1v1.1h-1.1zM130.6 187.9h1.1v1.1h-1.1zM361.6 106.2h1.1v1.1h-1.1zM152.8 195.7h1.1v1.1h-1.1zM202.6 144.8h1.1v1.1h-1.1zM250.2 181.2h1.1v1.1h-1.1zM254.1 115.5h1.1v1.1h-1.1zM355.3 117.1h1.1v1.1h-1.1zM359.1 101.9h1.1v1.1h-1.1zM387.8 126h1.1v1.1h-1.1zM397.1 146.5h1.1v1.1h-1.1zM130.1 194.1h1.1v1.1h-1.1zM151 179.9h1.1v1.1h-1.1zM391.2 101.2h1.1v1.1h-1.1zM436.5 116.8h1.1v1.1h-1.1zM314.8 151.9h1.1v1.1h-1.1zM431.2 121.9h1.1v1.1h-1.1zM205.9 156.3h1.1v1.1h-1.1zM391.1 211.6h1.1v1.1h-1.1zM178.1 187.4h1.1v1.1h-1.1zM194.4 171.5h1.1v1.1h-1.1zM369 114.7h1.1v1.1h-1.1zM402.5 150.4h1.1v1.1h-1.1zM350.3 113.8h1.1v1.1h-1.1zM262.9 108h1.1v1.1h-1.1zM365.2 127.6h1.1v1.1h-1.1zM359.2 133.1h1.1v1.1h-1.1zM382.7 116.7h1.1v1.1h-1.1zM309.5 121.3h1.1v1.1h-1.1zM225.8 136.7h1.1v1.1h-1.1zM151.2 184.5h1.1v1.1h-1.1zM382.8 122.6h1.1v1.1h-1.1zM298.9 166.7h1.1v1.1h-1.1zM419.7 142.3h1.1v1.1h-1.1zM438.4 118.7h1.1v1.1h-1.1zM194.2 160.4h1.1v1.1h-1.1zM425.9 115.2h1.1v1.1h-1.1zM336.8 196.5h1.1v1.1h-1.1zM258.9 105.9h1.1v1.1h-1.1zM411.8 174.5h1.1v1.1h-1.1zM342.4 121.5h1.1v1.1h-1.1zM274.4 124.7h1.1v1.1h-1.1zM335.6 146.3h1.1v1.1h-1.1zM311.3 159.4h1.1v1.1h-1.1zM324.6 121.2h1.1v1.1h-1.1zM408.8 130.3h1.1v1.1h-1.1zM332.2 161.1h1.1v1.1h-1.1zM293.2 104.7h1.1v1.1h-1.1zM390.3 120.8h1.1v1.1h-1.1zM411.7 141.3h1.1v1.1h-1.1zM127.2 188.6h1.1v1.1h-1.1zM378.3 110.8h1.1v1.1h-1.1zM285 102.9h1.1v1.1h-1.1zM424.7 107.7h1.1v1.1h-1.1zM354.5 135.8h1.1v1.1h-1.1zM181.5 159.3h1.1v1.1h-1.1zM343.4 148.3h1.1v1.1h-1.1zM379.7 135h1.1v1.1h-1.1zM339 118.7h1.1v1.1h-1.1zM261.9 132.1h1.1v1.1h-1.1zM337.9 101.2h1.1v1.1h-1.1zM370.1 141.4h1.1v1.1h-1.1zM365.8 116.4h1.1v1.1h-1.1zM218.3 132.6h1.1v1.1h-1.1zM345.7 102.5h1.1v1.1h-1.1zM412 197.8h1.1v1.1h-1.1zM222.2 144.2h1.1v1.1h-1.1zM414.4 118.3h1.1v1.1h-1.1zM422 187.2h1.1v1.1h-1.1zM196.3 157.4h1.1v1.1h-1.1zM411.2 116.2h1.1v1.1h-1.1zM130.1 186.1h1.1v1.1h-1.1zM361.9 114.3h1.1v1.1h-1.1zM351.3 100.7h1.1v1.1h-1.1zM431.2 122.8h1.1v1.1h-1.1zM356.4 113.2h1.1v1.1h-1.1zM320.4 102.5h1.1v1.1h-1.1zM233.9 122.8h1.1v1.1h-1.1zM384 115h1.1v1.1h-1.1zM414.3 125.6h1.1v1.1h-1.1zM286.8 162h1.1v1.1h-1.1zM326.1 139.1h1.1v1.1h-1.1zM406.5 151h1.1v1.1h-1.1zM307 114.7h1.1v1.1h-1.1zM388.1 104.1h1.1v1.1h-1.1zM293.4 122.3h1.1v1.1h-1.1zM343 113.9h1.1v1.1h-1.1zM191.6 157.5h1.1v1.1h-1.1zM431 141.6h1.1v1.1h-1.1zM350.2 168.9h1.1v1.1h-1.1zM246.2 121.2h1.1v1.1h-1.1zM359.8 106.1h1.1v1.1h-1.1zM438.8 104.8h1.1v1.1h-1.1zM218.1 173.6h1.1v1.1h-1.1zM178.7 166.9h1.1v1.1h-1.1zM307 101.4h1.1v1.1h-1.1zM409.7 131.5h1.1v1.1h-1.1zM260 127.9h1.1v1.1h-1.1zM291.7 123.3h1.1v1.1h-1.1zM438.6 122h1.1v1.1h-1.1zM422.2 117.3h1.1v1.1h-1.1zM302.5 170.3h1.1v1.1h-1.1zM326.3 134h1.1v1.1h-1.1zM294 123.2h1.1v1.1h-1.1zM228 117.8h1.1v1.1h-1.1zM178.7 165h1.1v1.1h-1.1zM380.3 148.5h1.1v1.1h-1.1zM216.4 153.1h1.1v1.1h-1.1zM224.4 140h1.1v1.1h-1.1zM438.3 129.8h1.1v1.1h-1.1zM390.9 107.6h1.1v1.1h-1.1zM162 175.8h1.1v1.1h-1.1zM194.8 135.9h1.1v1.1h-1.1zM297.3 115.7h1.1v1.1h-1.1zM289.3 133.5h1.1v1.1h-1.1zM333.9 120.4h1.1v1.1h-1.1zM223.4 149.4h1.1v1.1h-1.1zM425.5 112.6h1.1v1.1h-1.1zM220.1 131.7h1.1v1.1h-1.1zM252 132.5h1.1v1.1h-1.1zM267 139.1h1.1v1.1h-1.1zM352.8 144.7h1.1v1.1h-1.1zM318.1 148.9h1.1v1.1h-1.1zM226.7 119.2h1.1v1.1h-1.1zM387.8 132.2h1.1v1.1h-1.1zM317.4 119.5h1.1v1.1h-1.1zM438.6 143.7h1.1v1.1h-1.1zM145.1 190.6h1.1v1.1h-1.1zM438.7 127.7h1.1v1.1h-1.1zM135 189.1h1.1v1.1h-1.1zM164.5 177.2h1.1v1.1h-1.1zM345.7 108.2h1.1v1.1h-1.1zM422.2 98.5h1.1v1.1h-1.1zM236 128.7h1.1v1.1h-1.1zM319.3 142.7h1.1v1.1h-1.1zM423.8 117.4h1.1v1.1h-1.1zM279.7 130.1h1.1v1.1h-1.1zM225.5 144h1.1v1.1h-1.1zM380.1 113.2h1.1v1.1h-1.1zM254.5 167.8h1.1v1.1h-1.1zM330.4 116.8h1.1v1.1h-1.1zM345.3 137.3h1.1v1.1h-1.1zM302.9 140.9h1.1v1.1h-1.1zM240.4 131.9h1.1v1.1h-1.1zM122.3 188h1.1v1.1h-1.1zM299.5 129.7h1.1v1.1h-1.1zM359.1 126.4h1.1v1.1h-1.1zM375.5 124.5h1.1v1.1h-1.1zM416.8 126.2h1.1v1.1h-1.1zM280.7 151.2h1.1v1.1h-1.1zM119.6 201.3h1.1v1.1h-1.1zM241.5 134.2h1.1v1.1h-1.1zM408.8 137.2h1.1v1.1h-1.1zM418.4 101.3h1.1v1.1h-1.1zM423 179.5h1.1v1.1h-1.1zM255 127h1.1v1.1h-1.1zM257.6 130.2h1.1v1.1h-1.1zM376.8 138.6h1.1v1.1h-1.1zM378.7 104.3h1.1v1.1h-1.1zM405.6 129.2h1.1v1.1h-1.1zM379.6 119.6h1.1v1.1h-1.1zM427.5 133.5h1.1v1.1h-1.1z" fill="#7fffd4"/>
<path d="M66 220.7L68 218.6L70 216.4L72 214.2L74 212.1L76 209.9L78 207.7L80 205.6L82 203.4L84 201.2L86 199.1L88 196.9L90 194.4L92 191.8L94 189.3L96 187L98 185.3L100 184.2L102 183.5L104 183L106 182.5L108 182.1L110 181.8L112 181.5L114 181.2L116 180.9L118 180.7L120 180.5L122 180.3L124 180.1L126 179.9L128 179.8L130 179.6L132 179.5L134 179.4L136 179.2L138 179.1L140 179L142 178.9L144 178.8L146 178.7L148 178.6L150 178.5L152 178.4L154 178.3L156 178.2L158 178.1L160 178L162 177.9L164 177.8L166 177.7L168 177.6L170 177.5L172 177.4L174 177.3L176 177.2L178 177.1L180 177L182 176.9L184 176.8L186 176.8L188 176.7L190 176.6L192 176.6L194 176.5L196 176.5L198 176.4L200 176.4L202 176.3L204 176.3L206 176.2L208 176.2L210 176.1L212 176.1L214 176L216 176L218 176L220 175.9L222 175.9L224 175.8L226 175.8L228 175.8L230 175.7L232 175.7L234 175.7L236 175.6L238 175.6L240 175.6L242 175.6L244 175.6L246 175.5L248 175.5L250 175.5L252 175.5L254 175.5L256 175.5L258 175.5L260 175.5L262 175.5L264 175.5L266 175.5L268 175.5L270 175.5L272 175.6L274 175.6L276 175.6L278 175.6L280 175.6L282 175.6L284 175.6L286 175.7L288 175.7L290 175.7L292 175.7L294 175.7L296 175.8L298 175.8L300 175.8L302 175.8L304 175.9L306 175.9L308 175.9L310 175.9L312 175.9L314 175.9L316 176L318 176L320 176L322 176L324 176L326 176L328 176.1L330 176.1L332 176.1L334 176.1L336 176.1L338 176.1L340 176.2L342 176.2L344 176.2L346 176.2L348 176.2L350 176.2L352 176.3L354 176.3L356 176.3L358 176.3L360 176.3L362 176.3L364 176.4L366 176.4L368 176.4L370 176.4L372 176.4L374 176.4L376 176.5L378 176.5L380 176.5L382 176.5" fill="none" stroke="#fff" stroke-width="1.6" stroke-dasharray="1.6 2.6"/>
<path d="M39.5 217.3L40.5 216.7L41.5 216.1L42.5 215.6L43.5 215.1L44.5 214.6L45.5 214.1L46.5 213.8L47.5 213.4L48.5 212.9L49.5 212.4L50.5 211.4L51.5 210L52.5 208.8L53.5 207.7L54.5 206.6L55.5 205.9L56.5 205.6L57.5 205.4L58.5 205.2L59.5 205.1L60.5 205L61.5 204.9L62.5 204.8L63.5 204.6L64.5 202.8L65.5 200.9L66.5 200.5L67.5 200.2L68.5 200.1L69.5 199.9L70.5 199.7L71.5 199.4L72.5 199L73.5 198.7L74.5 198.5L75.5 198.3L76.5 198L77.5 197.8L78.5 197.4L79.5 196.8L80.5 196L81.5 195.3L82.5 194.8L83.5 194.5L84.5 194.3L85.5 194.2L86.5 194.1L87.5 194L88.5 194L89.5 193.9L90.5 193.7L91.5 193.6L92.5 193.3L93.5 192.8L94.5 192.2L95.5 191.4L96.5 190.6L97.5 189.9L98.5 189.2L99.5 188.8L100.5 188.4L101.5 188L102.5 187.6L103.5 187.3L104.5 187L105.5 186.7L106.5 186.6L107.5 186.4L108.5 186.3L109.5 186.3L110.5 186.2L111.5 186.1L112.5 186L113.5 185.9L114.5 185.8L115.5 185.5L116.5 185.2L117.5 184.9L118.5 184.5L119.5 184.1L120.5 183.6L121.5 183.2L122.5 182.8L123.5 182.4L124.5 182.1L125.5 181.8L126.5 181.6L127.5 181.3L128.5 181.1L129.5 180.8L130.5 180.6L131.5 180.3L132.5 180L133.5 179.8L134.5 179.5L135.5 179.2L136.5 179L137.5 178.7L138.5 178.4L139.5 178.1L140.5 177.9L141.5 177.6L142.5 177.3L143.5 177.1L144.5 176.8L145.5 176.5L146.5 176.3L147.5 176.1L148.5 175.8L149.5 175.6L150.5 175.4L151.5 175.2L152.5 175L153.5 174.8L154.5 174.6L155.5 174.5L156.5 174.3L157.5 174.1L158.5 174L159.5 173.8L160.5 173.6L161.5 173.5L162.5 173.3L163.5 173.2L164.5 173L165.5 172.8L166.5 172.6L167.5 172.5L168.5 172.3L169.5 172.1L170.5 171.9L171.5 171.7L172.5 171.5L173.5 171.3L174.5 171.1L175.5 170.8L176.5 170.6L177.5 170.4L178.5 170.1L179.5 169.9L180.5 169.7L181.5 169.4L182.5 169.2L183.5 168.9L184.5 168.7L185.5 168.4L186.5 168.2L187.5 167.9L188.5 167.7L189.5 167.5L190.5 167.2L191.5 167L192.5 166.7L193.5 166.5L194.5 166.2L195.5 166L196.5 165.8L197.5 165.6L198.5 165.3L199.5 165.1L200.5 164.9L201.5 164.7L202.5 164.5L203.5 164.3L204.5 164.1L205.5 163.9L206.5 163.7L207.5 163.5L208.5 163.3L209.5 163.1L210.5 163L211.5 162.8L212.5 162.6L213.5 162.4L214.5 162.2L215.5 162L216.5 161.9L217.5 161.7L218.5 161.5L219.5 161.3L220.5 161.1L221.5 160.9L222.5 160.7L223.5 160.5L224.5 160.3L225.5 160.1L226.5 159.8L227.5 159.6L228.5 159.4L229.5 159.1L230.5 158.9L231.5 158.6L232.5 158.3L233.5 158L234.5 157.7L235.5 157.3L236.5 157L237.5 156.6L238.5 156.3L239.5 155.9L240.5 155.5L241.5 155.2L242.5 154.8L243.5 154.5L244.5 154.1L245.5 153.8L246.5 153.5L247.5 153.2L248.5 152.9L249.5 152.6L250.5 152.4L251.5 152.2L252.5 151.9L253.5 151.7L254.5 151.5L255.5 151.3L256.5 151.1L257.5 150.9L258.5 150.7L259.5 150.5L260.5 150.3L261.5 150.2L262.5 150L263.5 149.8L264.5 149.7L265.5 149.5L266.5 149.3L267.5 149.2L268.5 149L269.5 148.8L270.5 148.7L271.5 148.5L272.5 148.3L273.5 148.2L274.5 148L275.5 147.8L276.5 147.6L277.5 147.5L278.5 147.3L279.5 147.1L280.5 146.9L281.5 146.7L282.5 146.5L283.5 146.3L284.5 146.1L285.5 145.9L286.5 145.7L287.5 145.5L288.5 145.3L289.5 145.1L290.5 144.9L291.5 144.7L292.5 144.5L293.5 144.3L294.5 144.1L295.5 143.9L296.5 143.7L297.5 143.5L298.5 143.3L299.5 143.1L300.5 142.9L301.5 142.7L302.5 142.5L303.5 142.4L304.5 142.2L305.5 142L306.5 141.8L307.5 141.6L308.5 141.4L309.5 141.3L310.5 141.1L311.5 140.9L312.5 140.7L313.5 140.6L314.5 140.4L315.5 140.2L316.5 140.1L317.5 139.9L318.5 139.7L319.5 139.6L320.5 139.4L321.5 139.3L322.5 139.1L323.5 138.9L324.5 138.8L325.5 138.6L326.5 138.4L327.5 138.3L328.5 138.2L329.5 138.1L330.5 138L331.5 137.9L332.5 137.8L333.5 137.7L334.5 137.6L335.5 137.5L336.5 137.4L337.5 137.3L338.5 137.3L339.5 137.2L340.5 137.1L341.5 137L342.5 137L343.5 136.9L344.5 136.9L345.5 136.8L346.5 136.7L347.5 136.7L348.5 136.6L349.5 136.6L350.5 136.5L351.5 136.4L352.5 136.4L353.5 136.3L354.5 136.3L355.5 136.2L356.5 136.2L357.5 136.1L358.5 136.1L359.5 136L360.5 136L361.5 135.9L362.5 135.9L363.5 135.8L364.5 135.8L365.5 135.7L366.5 135.7L367.5 135.7L368.5 135.6L369.5 135.6L370.5 135.5L371.5 135.5L372.5 135.4L373.5 135.4L374.5 135.4L375.5 135.3L376.5 135.3L377.5 135.3L378.5 135.2L379.5 135.2L380.5 135.1L381.5 135.1L382.5 135.1L383.5 135L384.5 135L385.5 135L386.5 134.9L387.5 134.9L388.5 134.9L389.5 134.8L390.5 134.8L391.5 134.7L392.5 134.7L393.5 134.7L394.5 134.6L395.5 134.6L396.5 134.5L397.5 134.5L398.5 134.5L399.5 134.4L400.5 134.4L401.5 134.3L402.5 134.3L403.5 134.2L404.5 134.2L405.5 134.2L406.5 134.1L407.5 134.1L408.5 134L409.5 134L410.5 133.9L411.5 133.9L412.5 133.8L413.5 133.8L414.5 133.7L415.5 133.7L416.5 133.6L417.5 133.6L418.5 133.5L419.5 133.5L420.5 133.4L421.5 133.4L422.5 133.3L423.5 133.3L424.5 133.3L425.5 133.2L426.5 133.2L427.5 133.1L428.5 133.1L429.5 133L430.5 133L431.5 132.9L432.5 132.9L433.5 132.8L434.5 132.8L435.5 132.8L436.5 132.7L437.5 132.7L438.5 132.6L439.5 132.6L440.5 132.5L441.5 132.5L442.5 132.4L443.5 132.4L444.5 132.4L445.5 132.3L446.5 132.3L447.5 132.2L448.5 132.2L449.5 132.1L450.5 132.1L451.5 132.1L452.5 132L453.5 132L454.5 131.9L455.5 131.9L456.5 131.8L457.5 131.8L458.5 131.8L459.5 131.7L460.5 131.7L461.5 131.6L462.5 131.6L463.5 131.5L464.5 131.5" fill="none" stroke="#008080" stroke-width="1.75" stroke-dasharray="5.9 2.6"/>
<path d="M73 204.6L75 203.3L77 202.3L79 201.5L81 200.9L83 200.6L85 200.2L87 199.8L89 199.5L91 199.7L93 200.5L95 201.2L97 201.5L99 201.1L101 200.3L103 199.5L105 198.6L107 197.6L109 196.5L111 195.5L113 194.6L115 193.8L117 193.3L119 193L121 192.7L123 192.5L125 192.3L127 192.1L129 191.9L131 191.7L133 191.5L135 190.6L137 188.7L139 186.7L141 185.5L143 184.7L145 184L147 183.3L149 182.8L151 182.2L153 181.7L155 181.3L157 180.8L159 180.3L161 179.7L163 179.3L165 178.8L167 178.4L169 178L171 177.6L173 177.2L175 176.7L177 176.1L179 175.4L181 174.5L183 173.2L185 171.6L187 169.7L189 167.9L191 166.2L193 164.5L195 162.7L197 160.9L199 159L201 156.9L203 154.2L205 151.4L207 148.7L209 146.4L211 144.8L213 143.4L215 142.2L217 141.2L219 140.4L221 139.7L223 139L225 138.5L227 138L229 137.6L231 137.4L233 137.2L235 137L237 136.8L239 136.7L241 136.5L243 136.4L245 136.3L247 136.2L249 136.1L251 135.9L253 135.8L255 135.7L257 135.6L259 135.6L261 135.5L263 135.4L265 135.3L267 135.2L269 135.1L271 134.9L273 134.8L275 134.6L277 134.4L279 134.2L281 134L283 133.7L285 133.5L287 133.2L289 133L291 132.7L293 132.4L295 132.2L297 131.9L299 131.6L301 131.4L303 131.1L305 130.8L307 130.4L309 130.1L311 129.7L313 129.4L315 129L317 128.7L319 128.4L321 128L323 127.7L325 127.5L327 127.3L329 127.1L331 126.9L333 126.8L335 126.7L337 126.6L339 126.5L341 126.4L343 126.3L345 126.2L347 126.1L349 126L351 125.9L353 125.9L355 125.8L357 125.7L359 125.6L361 125.6L363 125.5L365 125.4L367 125.3L369 125.3L371 125.2L373 125.1L375 125.1L377 125L379 124.9L381 124.9L383 124.8L385 124.7L387 124.7L389 124.6L391 124.6L393 124.5L395 124.5L397 124.5L399 124.4L401 124.4L403 124.3L405 124.3L407 124.3L409 124.3L411 124.2L413 124.2L415 124.2L417 124.1L419 124.1L421 124.1L423 124.1L425 124.1L427 124L429 124L431 124L433 124" fill="none" stroke="#7fffd4" stroke-width="1.6" stroke-dasharray="10.2 2.6 1.6 2.6"/>
<circle cx="64.6" cy="191.4" r="2.9" fill="#00ff00"/>
<circle cx="250" cy="182.2" r="3" fill="#0000ff"/>
<circle cx="455.8" cy="94" r="3" fill="#daa520"/>
<path d="M249.6 181.6h1.2v1.2h-1.2zM249.4 178.2h1.2v1.2h-1.2z" fill="#008080" fill-opacity="0.7"/>
<path d="M64.1 191.2h1v1h-1z" fill="#008080" fill-opacity="0.6"/>
</g>
<rect x="39.5" y="30.1" width="425.1" height="233.1" fill="none" stroke="#000" stroke-width="0.7"/>
<text x="39.2" y="275.6" font-size="8.4" text-anchor="middle">0.05</text>
<text x="86.4" y="275.6" font-size="8.4" text-anchor="middle">0.10</text>
<text x="133.7" y="275.6" font-size="8.4" text-anchor="middle">0.15</text>
<text x="180.9" y="275.6" font-size="8.4" text-anchor="middle">0.20</text>
<text x="228.1" y="275.6" font-size="8.4" text-anchor="middle">0.25</text>
<text x="275.4" y="275.6" font-size="8.4" text-anchor="middle">0.30</text>
<text x="322.6" y="275.6" font-size="8.4" text-anchor="middle">0.35</text>
<text x="369.8" y="275.6" font-size="8.4" text-anchor="middle">0.40</text>
<text x="417.1" y="275.6" font-size="8.4" text-anchor="middle">0.45</text>
<text x="464.3" y="275.6" font-size="8.4" text-anchor="middle">0.50</text>
<text x="43.8" y="22.6" font-size="8.4" text-anchor="middle">50</text>
<text x="95.3" y="22.6" font-size="8.4" text-anchor="middle">100</text>
<text x="146.8" y="22.6" font-size="8.4" text-anchor="middle">150</text>
<text x="198.3" y="22.6" font-size="8.4" text-anchor="middle">200</text>
<text x="249.8" y="22.6" font-size="8.4" text-anchor="middle">250</text>
<text x="301.3" y="22.6" font-size="8.4" text-anchor="middle">300</text>
<text x="352.8" y="22.6" font-size="8.4" text-anchor="middle">350</text>
<text x="404.3" y="22.6" font-size="8.4" text-anchor="middle">400</text>
<text x="455.8" y="22.6" font-size="8.4" text-anchor="middle">450</text>
<text x="16.3" y="33.5" font-size="8.8" textLength="8.8" lengthAdjust="spacing">10</text><text x="25.8" y="30.5" font-size="6.3" textLength="7.9" lengthAdjust="spacing">−1</text>
<text x="16.3" y="91.8" font-size="8.8" textLength="8.8" lengthAdjust="spacing">10</text><text x="25.8" y="88.8" font-size="6.3" textLength="7.9" lengthAdjust="spacing">−2</text>
<text x="16.3" y="150.1" font-size="8.8" textLength="8.8" lengthAdjust="spacing">10</text><text x="25.8" y="147.1" font-size="6.3" textLength="7.9" lengthAdjust="spacing">−3</text>
<text x="16.3" y="208.3" font-size="8.8" textLength="8.8" lengthAdjust="spacing">10</text><text x="25.8" y="205.3" font-size="6.3" textLength="7.9" lengthAdjust="spacing">−4</text>
<text x="16.3" y="266.6" font-size="8.8" textLength="8.8" lengthAdjust="spacing">10</text><text x="25.8" y="263.6" font-size="6.3" textLength="7.9" lengthAdjust="spacing">−5</text>
<text x="470.6" y="34" font-size="8.4">10<tspan dx="0.3" dy="-2.9" font-size="6">4</tspan></text>
<text x="470.6" y="92.3" font-size="8.4">10<tspan dx="0.3" dy="-2.9" font-size="6">3</tspan></text>
<text x="470.6" y="150.5" font-size="8.4">10<tspan dx="0.3" dy="-2.9" font-size="6">2</tspan></text>
<text x="470.6" y="208.8" font-size="8.4">10<tspan dx="0.3" dy="-2.9" font-size="6">1</tspan></text>
<path d="M39.5 263.2v3M86.7 263.2v3M134 263.2v3M181.2 263.2v3M228.4 263.2v3M275.7 263.2v3M322.9 263.2v3M370.1 263.2v3M417.4 263.2v3M464.6 263.2v3M43.8 30.1v-3M95.3 30.1v-3M146.8 30.1v-3M198.3 30.1v-3M249.8 30.1v-3M301.3 30.1v-3M352.8 30.1v-3M404.3 30.1v-3M455.8 30.1v-3M39.5 30.1h-3M39.5 88.4h-3M39.5 146.7h-3M39.5 204.9h-3M39.5 263.2h-3M464.6 30.6h3M464.6 88.9h3M464.6 147.1h3M464.6 205.4h3" stroke="#000" stroke-width="0.8" fill="none"/>
<path d="M39.5 70.8h-1.7M39.5 60.6h-1.7M39.5 53.3h-1.7M39.5 47.6h-1.7M39.5 43h-1.7M39.5 39.1h-1.7M39.5 35.7h-1.7M39.5 32.8h-1.7M39.5 129.1h-1.7M39.5 118.8h-1.7M39.5 111.6h-1.7M39.5 105.9h-1.7M39.5 101.3h-1.7M39.5 97.4h-1.7M39.5 94h-1.7M39.5 91h-1.7M39.5 187.4h-1.7M39.5 177.1h-1.7M39.5 169.8h-1.7M39.5 164.2h-1.7M39.5 159.6h-1.7M39.5 155.7h-1.7M39.5 152.3h-1.7M39.5 149.3h-1.7M39.5 245.7h-1.7M39.5 235.4h-1.7M39.5 228.1h-1.7M39.5 222.5h-1.7M39.5 217.9h-1.7M39.5 214h-1.7M39.5 210.6h-1.7M39.5 207.6h-1.7M464.6 71.3h1.7M464.6 61.1h1.7M464.6 53.8h1.7M464.6 48.1h1.7M464.6 43.5h1.7M464.6 39.6h1.7M464.6 36.2h1.7M464.6 33.3h1.7M464.6 129.6h1.7M464.6 119.3h1.7M464.6 112.1h1.7M464.6 106.4h1.7M464.6 101.8h1.7M464.6 97.9h1.7M464.6 94.5h1.7M464.6 91.5h1.7M464.6 187.9h1.7M464.6 177.6h1.7M464.6 170.3h1.7M464.6 164.7h1.7M464.6 160.1h1.7M464.6 156.2h1.7M464.6 152.8h1.7M464.6 149.8h1.7M464.6 246.1h1.7M464.6 235.9h1.7M464.6 228.6h1.7M464.6 223h1.7M464.6 218.3h1.7M464.6 214.4h1.7M464.6 211.1h1.7M464.6 208.1h1.7" stroke="#000" stroke-width="0.5" fill="none"/>
<text x="251.8" y="13.1" font-size="9.6" text-anchor="middle" textLength="92.4" lengthAdjust="spacing">Snow density (kg m<tspan dy="-3.5" font-size="6.7">−3</tspan><tspan dy="3.5">)</tspan></text>
<text x="251.7" y="287" font-size="9.1" text-anchor="middle" textLength="57.8" lengthAdjust="spacing">Solid fraction Φ</text>
<text transform="translate(11.6 145.4) rotate(-90)" font-size="9.6" text-anchor="middle" textLength="60" lengthAdjust="spacing">Stress <tspan font-style="italic">σ</tspan> (MPa)</text>
<text transform="translate(493 146.7) rotate(-90)" font-size="9.7" text-anchor="middle" textLength="188.5" lengthAdjust="spacing">Overburden Snow Water Equivalent (kg m<tspan dy="-3.5" font-size="6.7">−2</tspan><tspan dy="3.5">)</tspan></text>
<rect x="44" y="34.3" width="155.6" height="73.9" rx="1.6" fill="#fff" fill-opacity="0.8" stroke="#ccc" stroke-opacity="0.8" stroke-width="0.6"/>
<path d="M47 41 h16" stroke="#fff" stroke-width="1.6" stroke-dasharray="1.6 2.6" fill="none"/>
<path d="M47 53 h16" stroke="#008080" stroke-width="1.75" stroke-dasharray="5.9 2.6" fill="none"/>
<path d="M47 64.8 h16" stroke="#7fffd4" stroke-width="1.6" stroke-dasharray="10.2 2.6 1.6 2.6" fill="none"/>
<circle cx="55" cy="77" r="2.9" fill="#00ff00"/>
<circle cx="55" cy="89.2" r="2.9" fill="#0000ff"/>
<circle cx="55" cy="101.3" r="2.9" fill="#daa520"/>
<text x="71" y="43.7" font-size="8.5" textLength="121" lengthAdjust="spacing">Cambridge Bay, Canadian Arctic</text>
<text x="71" y="55.7" font-size="8.5" textLength="124.6" lengthAdjust="spacing">Col de Porte, French Alps 1325 m</text>
<text x="71" y="67.5" font-size="8.5" textLength="125" lengthAdjust="spacing">Weissfluhjoch, Swiss Alps, 2536 m</text>
<text x="71" y="79.7" font-size="8.5" textLength="56" lengthAdjust="spacing">Heavy sow falls</text>
<text x="71" y="91.9" font-size="8.5" textLength="100" lengthAdjust="spacing">Wind-packed surface layers</text>
<text x="71" y="104" font-size="8.5" textLength="34" lengthAdjust="spacing">Deep firn</text>
<rect x="64.90" y="315.1" width="363.60" height="18.9" fill="#666666"/>
<rect x="78.88" y="315.1" width="349.62" height="18.9" fill="#777777"/>
<rect x="92.87" y="315.1" width="335.63" height="18.9" fill="#888888"/>
<rect x="106.85" y="315.1" width="321.65" height="18.9" fill="#999999"/>
<rect x="120.84" y="315.1" width="307.66" height="18.9" fill="#aaaaaa"/>
<rect x="134.82" y="315.1" width="293.68" height="18.9" fill="#b8b8b8"/>
<rect x="148.81" y="315.1" width="279.69" height="18.9" fill="#c4c4c4"/>
<rect x="162.79" y="315.1" width="265.71" height="18.9" fill="#d0d0d0"/>
<rect x="176.78" y="315.1" width="251.72" height="18.9" fill="#dcdcdc"/>
<rect x="190.76" y="315.1" width="237.74" height="18.9" fill="#e6e6e6"/>
<rect x="204.75" y="315.1" width="223.75" height="18.9" fill="#efefef"/>
<rect x="218.73" y="315.1" width="209.77" height="18.9" fill="#f5f5f5"/>
<rect x="232.72" y="315.1" width="195.78" height="18.9" fill="#fbfbfb"/>
<rect x="246.70" y="315.1" width="181.80" height="18.9" fill="#fffaf8"/>
<rect x="260.68" y="315.1" width="167.82" height="18.9" fill="#fef0e7"/>
<rect x="274.67" y="315.1" width="153.83" height="18.9" fill="#fee5d7"/>
<rect x="288.65" y="315.1" width="139.85" height="18.9" fill="#fbd6c3"/>
<rect x="302.64" y="315.1" width="125.86" height="18.9" fill="#f8c6ae"/>
<rect x="316.62" y="315.1" width="111.88" height="18.9" fill="#f4b49c"/>
<rect x="330.61" y="315.1" width="97.89" height="18.9" fill="#eba08c"/>
<rect x="344.59" y="315.1" width="83.91" height="18.9" fill="#e38e7e"/>
<rect x="358.58" y="315.1" width="69.92" height="18.9" fill="#d97972"/>
<rect x="372.56" y="315.1" width="55.94" height="18.9" fill="#ce6468"/>
<rect x="386.55" y="315.1" width="41.95" height="18.9" fill="#c2515f"/>
<rect x="400.53" y="315.1" width="27.97" height="18.9" fill="#ac4a5c"/>
<rect x="414.52" y="315.1" width="13.98" height="18.9" fill="#964358"/>
<rect x="64.9" y="315.1" width="363.6" height="18.9" fill="none" stroke="#000" stroke-width="0.8"/>
<text x="77.7" y="346.2" font-size="8.5" text-anchor="middle" textLength="20.6" lengthAdjust="spacing">−0.96</text>
<text x="119.6" y="346.2" font-size="8.5" text-anchor="middle" textLength="20.6" lengthAdjust="spacing">−0.72</text>
<text x="161.6" y="346.2" font-size="8.5" text-anchor="middle" textLength="20.6" lengthAdjust="spacing">−0.48</text>
<text x="203.5" y="346.2" font-size="8.5" text-anchor="middle" textLength="20.6" lengthAdjust="spacing">−0.24</text>
<text x="246.7" y="346.2" font-size="8.5" text-anchor="middle" textLength="14.8" lengthAdjust="spacing">0.00</text>
<text x="288.7" y="346.2" font-size="8.5" text-anchor="middle" textLength="14.8" lengthAdjust="spacing">0.24</text>
<text x="330.6" y="346.2" font-size="8.5" text-anchor="middle" textLength="14.8" lengthAdjust="spacing">0.48</text>
<text x="372.6" y="346.2" font-size="8.5" text-anchor="middle" textLength="14.8" lengthAdjust="spacing">0.72</text>
<text x="414.5" y="346.2" font-size="8.5" text-anchor="middle" textLength="14.8" lengthAdjust="spacing">0.96</text>
<path d="M78.9 334v3M120.8 334v3M162.8 334v3M204.7 334v3M246.7 334v3M288.7 334v3M330.6 334v3M372.6 334v3M414.5 334v3" stroke="#000" stroke-width="0.8" fill="none"/>
<text x="246.6" y="356.9" font-size="8.5" text-anchor="middle" textLength="165" lengthAdjust="spacing">Normalized residual on the densification rate</text>
<text x="68.2" y="302.8" font-size="8.5" textLength="56.8" lengthAdjust="spacing">V25 flow slower</text>
<text x="68.2" y="311.7" font-size="8.5" textLength="37.2" lengthAdjust="spacing">than Br92</text>
<text x="370.7" y="302.8" font-size="8.5" textLength="54.3" lengthAdjust="spacing">V25 flow faster</text>
<text x="370.7" y="311.7" font-size="8.5" textLength="37.2" lengthAdjust="spacing">than Br92</text>
</svg>
</body></html>
